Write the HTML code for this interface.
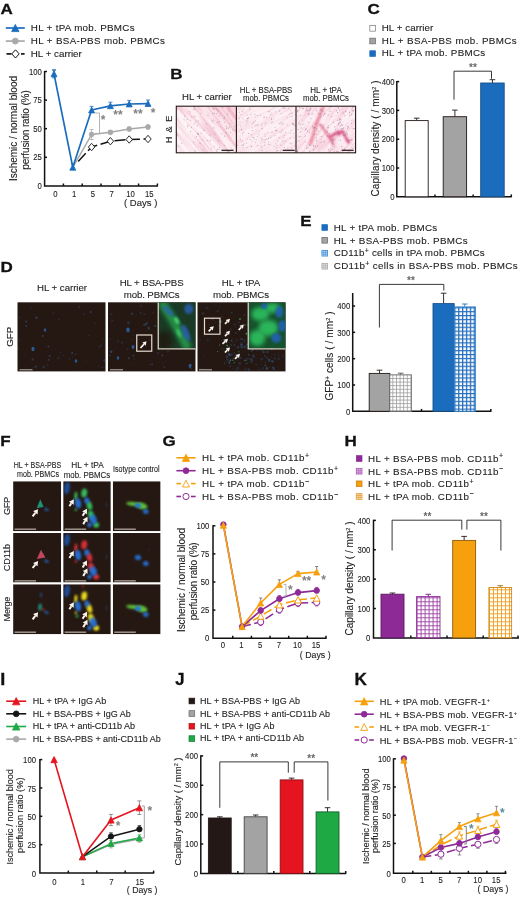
<!DOCTYPE html>
<html><head><meta charset="utf-8"><title>Figure</title>
<style>
html,body{margin:0;padding:0;background:#fff;}
body{width:520px;height:898px;overflow:hidden;font-family:"Liberation Sans",sans-serif;}
svg{display:block;font-family:"Liberation Sans",sans-serif;}
</style></head><body>
<svg width="520" height="898" viewBox="0 0 520 898">
<rect width="520" height="898" fill="#fff"/>
<g id="panelA">
<text x="0.5" y="13.6" font-size="15.3" font-weight="bold" fill="#111" textLength="12.3" lengthAdjust="spacingAndGlyphs" stroke="#111" stroke-width="0.3">A</text>
<line x1="5.8" y1="28" x2="24.8" y2="28" stroke="#1a6dbd" stroke-width="1.7"/>
<polygon points="15.3,24.4 11.6,31.6 19.0,31.6" fill="#1a6dbd" stroke="#1a6dbd" stroke-width="0.8" stroke-linejoin="miter"/>
<text x="30.8" y="30.9" font-size="9.8" fill="#222" textLength="103.8" lengthAdjust="spacing" stroke="#222" stroke-width="0.1">HL + tPA mob. PBMCs</text>
<line x1="5.8" y1="41.1" x2="24.8" y2="41.1" stroke="#a9a9a9" stroke-width="1.7"/>
<circle cx="15.3" cy="41.1" r="3.0" fill="#a9a9a9" stroke="#a9a9a9" stroke-width="0.8"/>
<text x="30.8" y="43.7" font-size="9.8" fill="#222" textLength="134" lengthAdjust="spacing" stroke="#222" stroke-width="0.1">HL + BSA-PBS mob. PBMCs</text>
<line x1="6.5" y1="53.9" x2="11.5" y2="53.9" stroke="#151515" stroke-width="1.7"/>
<line x1="21" y1="53.9" x2="24.6" y2="53.9" stroke="#151515" stroke-width="1.7"/>
<polygon points="15.5,49.8 19.2,53.9 15.5,58.0 11.8,53.9" fill="#fff" stroke="#151515" stroke-width="1.0"/>
<text x="30.8" y="56.5" font-size="9.8" fill="#222" textLength="51" lengthAdjust="spacing" stroke="#222" stroke-width="0.1">HL + carrier</text>
<path d="M44.6,70.9 V185.9 H158.0" fill="none" stroke="#111" stroke-width="1.5"/>
<line x1="44.6" y1="157.3" x2="47.0" y2="157.3" stroke="#111" stroke-width="1.5"/>
<line x1="44.6" y1="128.7" x2="47.0" y2="128.7" stroke="#111" stroke-width="1.5"/>
<line x1="44.6" y1="100.10000000000001" x2="47.0" y2="100.10000000000001" stroke="#111" stroke-width="1.5"/>
<line x1="44.6" y1="71.5" x2="47.0" y2="71.5" stroke="#111" stroke-width="1.5"/>
<line x1="63.400000000000006" y1="185.9" x2="63.400000000000006" y2="183.5" stroke="#111" stroke-width="1.5"/>
<line x1="82.2" y1="185.9" x2="82.2" y2="183.5" stroke="#111" stroke-width="1.5"/>
<line x1="101.0" y1="185.9" x2="101.0" y2="183.5" stroke="#111" stroke-width="1.5"/>
<line x1="119.80000000000001" y1="185.9" x2="119.80000000000001" y2="183.5" stroke="#111" stroke-width="1.5"/>
<line x1="138.6" y1="185.9" x2="138.6" y2="183.5" stroke="#111" stroke-width="1.5"/>
<line x1="157.4" y1="185.9" x2="157.4" y2="183.5" stroke="#111" stroke-width="1.5"/>
<text x="41.8" y="189.0" font-size="9" text-anchor="end" fill="#222" textLength="4.3" lengthAdjust="spacingAndGlyphs" stroke="#222" stroke-width="0.1">0</text>
<text x="41.8" y="160.4" font-size="9" text-anchor="end" fill="#222" textLength="8.61" lengthAdjust="spacingAndGlyphs" stroke="#222" stroke-width="0.1">25</text>
<text x="41.8" y="131.79999999999998" font-size="9" text-anchor="end" fill="#222" textLength="8.61" lengthAdjust="spacingAndGlyphs" stroke="#222" stroke-width="0.1">50</text>
<text x="41.8" y="103.2" font-size="9" text-anchor="end" fill="#222" textLength="8.61" lengthAdjust="spacingAndGlyphs" stroke="#222" stroke-width="0.1">75</text>
<text x="41.8" y="74.6" font-size="9" text-anchor="end" fill="#222" textLength="12.91" lengthAdjust="spacingAndGlyphs" stroke="#222" stroke-width="0.1">100</text>
<text x="55.3" y="197.2" font-size="9" text-anchor="middle" fill="#222" textLength="4.3" lengthAdjust="spacingAndGlyphs" stroke="#222" stroke-width="0.1">0</text>
<text x="74.10000000000001" y="197.2" font-size="9" text-anchor="middle" fill="#222" textLength="4.3" lengthAdjust="spacingAndGlyphs" stroke="#222" stroke-width="0.1">1</text>
<text x="92.89999999999999" y="197.2" font-size="9" text-anchor="middle" fill="#222" textLength="4.3" lengthAdjust="spacingAndGlyphs" stroke="#222" stroke-width="0.1">5</text>
<text x="111.7" y="197.2" font-size="9" text-anchor="middle" fill="#222" textLength="4.3" lengthAdjust="spacingAndGlyphs" stroke="#222" stroke-width="0.1">7</text>
<text x="130.50000000000003" y="197.2" font-size="9" text-anchor="middle" fill="#222" textLength="8.61" lengthAdjust="spacingAndGlyphs" stroke="#222" stroke-width="0.1">10</text>
<text x="149.3" y="197.2" font-size="9" text-anchor="middle" fill="#222" textLength="8.61" lengthAdjust="spacingAndGlyphs" stroke="#222" stroke-width="0.1">15</text>
<text x="124" y="206" font-size="9.2" fill="#222" textLength="33.3" lengthAdjust="spacingAndGlyphs" stroke="#222" stroke-width="0.1">( Days )</text>
<text x="16.9" y="128.5" font-size="10" text-anchor="middle" fill="#222" textLength="105" lengthAdjust="spacing" transform="rotate(-90 16.9 128.5)" stroke="#222" stroke-width="0.1">Ischemic / normal blood</text>
<text x="29" y="130" font-size="10" text-anchor="middle" fill="#222" textLength="79.5" lengthAdjust="spacing" transform="rotate(-90 29 130)" stroke="#222" stroke-width="0.1">perfusion ratio (%)</text>
<polyline points="78.2,161.4 91.6,147.0 110.4,141.2 129.2,139.5 148.0,139.0" fill="none" stroke="#151515" stroke-width="1.5" stroke-linejoin="round" stroke-dasharray="11 3.5"/>
<polyline points="72.8,167.3 91.6,134.5 110.4,132.3 129.2,129.0 148.0,127.0" fill="none" stroke="#a9a9a9" stroke-width="1.5" stroke-linejoin="round"/>
<line x1="110.4" y1="132.3" x2="110.4" y2="130.5" stroke="#a9a9a9" stroke-width="0.8"/>
<line x1="108.4" y1="130.5" x2="112.4" y2="130.5" stroke="#a9a9a9" stroke-width="0.8"/>
<line x1="110.4" y1="132.3" x2="110.4" y2="134.10000000000002" stroke="#a9a9a9" stroke-width="0.8"/>
<line x1="108.4" y1="134.10000000000002" x2="112.4" y2="134.10000000000002" stroke="#a9a9a9" stroke-width="0.8"/>
<line x1="129.20000000000002" y1="129" x2="129.20000000000002" y2="127.2" stroke="#a9a9a9" stroke-width="0.8"/>
<line x1="127.20000000000002" y1="127.2" x2="131.20000000000002" y2="127.2" stroke="#a9a9a9" stroke-width="0.8"/>
<line x1="129.20000000000002" y1="129" x2="129.20000000000002" y2="130.8" stroke="#a9a9a9" stroke-width="0.8"/>
<line x1="127.20000000000002" y1="130.8" x2="131.20000000000002" y2="130.8" stroke="#a9a9a9" stroke-width="0.8"/>
<line x1="148.0" y1="127" x2="148.0" y2="125.2" stroke="#a9a9a9" stroke-width="0.8"/>
<line x1="146.0" y1="125.2" x2="150.0" y2="125.2" stroke="#a9a9a9" stroke-width="0.8"/>
<line x1="148.0" y1="127" x2="148.0" y2="128.8" stroke="#a9a9a9" stroke-width="0.8"/>
<line x1="146.0" y1="128.8" x2="150.0" y2="128.8" stroke="#a9a9a9" stroke-width="0.8"/>
<line x1="91.6" y1="134.5" x2="91.6" y2="129.5" stroke="#a9a9a9" stroke-width="0.8"/>
<line x1="89.6" y1="129.5" x2="93.6" y2="129.5" stroke="#a9a9a9" stroke-width="0.8"/>
<line x1="91.6" y1="134.5" x2="91.6" y2="139.5" stroke="#a9a9a9" stroke-width="0.8"/>
<line x1="89.6" y1="139.5" x2="93.6" y2="139.5" stroke="#a9a9a9" stroke-width="0.8"/>
<polyline points="54.0,73.8 72.8,167.3 91.6,110.0 110.4,105.8 129.2,104.0 148.0,103.6" fill="none" stroke="#1a6dbd" stroke-width="1.7" stroke-linejoin="round"/>
<line x1="54.0" y1="73.8" x2="54.0" y2="70.2" stroke="#1a6dbd" stroke-width="0.8"/>
<line x1="52.0" y1="70.2" x2="56.0" y2="70.2" stroke="#1a6dbd" stroke-width="0.8"/>
<line x1="72.80000000000001" y1="167.3" x2="72.80000000000001" y2="163.70000000000002" stroke="#1a6dbd" stroke-width="0.8"/>
<line x1="70.80000000000001" y1="163.70000000000002" x2="74.80000000000001" y2="163.70000000000002" stroke="#1a6dbd" stroke-width="0.8"/>
<line x1="91.6" y1="110" x2="91.6" y2="106.4" stroke="#1a6dbd" stroke-width="0.8"/>
<line x1="89.6" y1="106.4" x2="93.6" y2="106.4" stroke="#1a6dbd" stroke-width="0.8"/>
<line x1="110.4" y1="105.8" x2="110.4" y2="102.2" stroke="#1a6dbd" stroke-width="0.8"/>
<line x1="108.4" y1="102.2" x2="112.4" y2="102.2" stroke="#1a6dbd" stroke-width="0.8"/>
<line x1="129.20000000000002" y1="104" x2="129.20000000000002" y2="100.4" stroke="#1a6dbd" stroke-width="0.8"/>
<line x1="127.20000000000002" y1="100.4" x2="131.20000000000002" y2="100.4" stroke="#1a6dbd" stroke-width="0.8"/>
<line x1="148.0" y1="103.6" x2="148.0" y2="100.0" stroke="#1a6dbd" stroke-width="0.8"/>
<line x1="146.0" y1="100.0" x2="150.0" y2="100.0" stroke="#1a6dbd" stroke-width="0.8"/>
<line x1="54.0" y1="73.8" x2="54.0" y2="69.8" stroke="#1a6dbd" stroke-width="0.8"/>
<line x1="52.0" y1="69.8" x2="56.0" y2="69.8" stroke="#1a6dbd" stroke-width="0.8"/>
<line x1="54.0" y1="73.8" x2="54.0" y2="77.8" stroke="#1a6dbd" stroke-width="0.8"/>
<line x1="52.0" y1="77.8" x2="56.0" y2="77.8" stroke="#1a6dbd" stroke-width="0.8"/>
<polygon points="91.6,143.3 94.8,147.0 91.6,150.7 88.4,147.0" fill="#fff" stroke="#151515" stroke-width="0.9"/>
<polygon points="110.4,137.5 113.6,141.2 110.4,144.9 107.2,141.2" fill="#fff" stroke="#151515" stroke-width="0.9"/>
<polygon points="129.2,135.8 132.4,139.5 129.2,143.2 126.0,139.5" fill="#fff" stroke="#151515" stroke-width="0.9"/>
<polygon points="148.0,135.3 151.2,139.0 148.0,142.7 144.8,139.0" fill="#fff" stroke="#151515" stroke-width="0.9"/>
<circle cx="91.6" cy="134.5" r="2.4" fill="#a9a9a9" stroke="#a9a9a9" stroke-width="0.8"/>
<circle cx="110.4" cy="132.3" r="2.4" fill="#a9a9a9" stroke="#a9a9a9" stroke-width="0.8"/>
<circle cx="129.2" cy="129.0" r="2.4" fill="#a9a9a9" stroke="#a9a9a9" stroke-width="0.8"/>
<circle cx="148.0" cy="127.0" r="2.4" fill="#a9a9a9" stroke="#a9a9a9" stroke-width="0.8"/>
<polygon points="54.0,70.9 51.0,76.7 57.0,76.7" fill="#1a6dbd" stroke="#1a6dbd" stroke-width="0.8" stroke-linejoin="miter"/>
<polygon points="72.8,164.4 69.8,170.2 75.8,170.2" fill="#1a6dbd" stroke="#1a6dbd" stroke-width="0.8" stroke-linejoin="miter"/>
<polygon points="91.6,107.1 88.6,112.9 94.6,112.9" fill="#1a6dbd" stroke="#1a6dbd" stroke-width="0.8" stroke-linejoin="miter"/>
<polygon points="110.4,102.9 107.4,108.7 113.4,108.7" fill="#1a6dbd" stroke="#1a6dbd" stroke-width="0.8" stroke-linejoin="miter"/>
<polygon points="129.2,101.1 126.2,106.9 132.2,106.9" fill="#1a6dbd" stroke="#1a6dbd" stroke-width="0.8" stroke-linejoin="miter"/>
<polygon points="148.0,100.7 145.0,106.5 151.0,106.5" fill="#1a6dbd" stroke="#1a6dbd" stroke-width="0.8" stroke-linejoin="miter"/>
<path d="M95,113 H99.5 V133.5 H95" fill="none" stroke="#a9a9a9" stroke-width="0.9"/>
<text x="100.7" y="123.9" font-size="12" font-weight="bold" fill="#808080">*</text>
<text x="113.3" y="118.7" font-size="12" font-weight="bold" fill="#808080">**</text>
<text x="133.3" y="117.7" font-size="12" font-weight="bold" fill="#808080">**</text>
<text x="150.7" y="116.9" font-size="12" font-weight="bold" fill="#808080">*</text>
</g>
<defs>
<filter id="fHE1" x="0" y="0" width="100%" height="100%"><feTurbulence type="fractalNoise" baseFrequency="0.02 0.3" numOctaves="4" seed="7"/><feColorMatrix values="0 0 0 0 0.91  0 0 0 0 0.58  0 0 0 0 0.68  5 0 0 0 -2.25"/></filter>
<filter id="fHE2" x="0" y="0" width="100%" height="100%"><feTurbulence type="fractalNoise" baseFrequency="0.05 0.35" numOctaves="4" seed="11"/><feColorMatrix values="0 0 0 0 0.92  0 0 0 0 0.60  0 0 0 0 0.70  3.5 0 0 0 -1.4"/></filter>
<filter id="fHE3" x="0" y="0" width="100%" height="100%"><feTurbulence type="fractalNoise" baseFrequency="0.05 0.4" numOctaves="4" seed="23"/><feColorMatrix values="0 0 0 0 0.90  0 0 0 0 0.55  0 0 0 0 0.66  4 0 0 0 -1.65"/></filter>
<filter id="b05"><feGaussianBlur stdDeviation="0.5"/></filter>
<filter id="b1"><feGaussianBlur stdDeviation="1"/></filter>
<filter id="b08" x="-30%" y="-30%" width="160%" height="160%"><feGaussianBlur stdDeviation="0.8"/></filter>
<filter id="b2" x="-30%" y="-30%" width="160%" height="160%"><feGaussianBlur stdDeviation="2"/></filter>
<filter id="b3" x="-30%" y="-30%" width="160%" height="160%"><feGaussianBlur stdDeviation="3"/></filter>
<pattern id="hGrey" width="3.6" height="3.6" patternUnits="userSpaceOnUse"><rect width="3.6" height="3.6" fill="#fff"/><path d="M0,0.5H3.6M0.5,0V3.6" stroke="#9a9a9a" stroke-width="0.8"/></pattern>
<pattern id="hBlue" width="3.9" height="3.9" patternUnits="userSpaceOnUse" x="454.2" y="307.2"><rect width="3.9" height="3.9" fill="#fff"/><path d="M0,0.6H3.9M0.6,0V3.9" stroke="#2a70bd" stroke-width="1.4"/></pattern>
<pattern id="hPur" width="4" height="4" patternUnits="userSpaceOnUse" x="0.6" y="1.3"><rect width="4" height="4" fill="#fff"/><path d="M0,0.5H4M0.5,0V4" stroke="#a044a8" stroke-width="0.95"/></pattern>
<pattern id="hOrg" width="4" height="4" patternUnits="userSpaceOnUse" x="1" y="1.3"><rect width="4" height="4" fill="#fff"/><path d="M0,0.5H4M0.5,0V4" stroke="#f2a024" stroke-width="0.95"/></pattern>
<pattern id="sBlue" width="2.07" height="2.07" patternUnits="userSpaceOnUse" x="321.6" y="250.1"><rect width="2.1" height="2.1" fill="#dcecfa"/><path d="M0,0.3H2.1M0.3,0V2.1" stroke="#3a8ad6" stroke-width="0.6"/></pattern>
<pattern id="sGrey" width="2.07" height="2.07" patternUnits="userSpaceOnUse" x="321.6" y="263.1"><rect width="2.1" height="2.1" fill="#f2f2f2"/><path d="M0,0.3H2.1M0.3,0V2.1" stroke="#a8a8a8" stroke-width="0.6"/></pattern>
<pattern id="sPur" width="2.07" height="2.07" patternUnits="userSpaceOnUse" x="356" y="467.7"><rect width="2.1" height="2.1" fill="#f0dcf2"/><path d="M0,0.3H2.1M0.3,0V2.1" stroke="#a850b0" stroke-width="0.6"/></pattern>
<pattern id="sOrg" width="2.07" height="2.07" patternUnits="userSpaceOnUse" x="356" y="492.1"><rect width="2.1" height="2.1" fill="#fdebd0"/><path d="M0,0.3H2.1M0.3,0V2.1" stroke="#f0a030" stroke-width="0.6"/></pattern>
<linearGradient id="gHE1" x1="0" y1="1" x2="1" y2="0"><stop offset="0" stop-color="#fff" stop-opacity="0.35"/><stop offset="0.45" stop-color="#fff" stop-opacity="0.1"/><stop offset="0.6" stop-color="#ee9ab4" stop-opacity="0.05"/><stop offset="1" stop-color="#ee9ab4" stop-opacity="0.4"/></linearGradient>
<clipPath id="cB1"><rect x="176.3" y="106.2" width="60" height="46.6"/></clipPath>
<clipPath id="cB2"><rect x="236.3" y="106.2" width="59.7" height="46.6"/></clipPath>
<clipPath id="cB3"><rect x="296" y="106.2" width="59.6" height="46.6"/></clipPath>
</defs>
<g id="panelB">
<text x="170.2" y="78.9" font-size="15.3" font-weight="bold" fill="#111" textLength="12.3" lengthAdjust="spacingAndGlyphs" stroke="#111" stroke-width="0.3">B</text>
<text x="182" y="99.5" font-size="9.6" fill="#222" textLength="49.8" lengthAdjust="spacing" stroke="#222" stroke-width="0.1">HL + carrier</text>
<text x="266.1" y="92.6" font-size="8.3" text-anchor="middle" fill="#222" textLength="52.5" lengthAdjust="spacingAndGlyphs" stroke="#222" stroke-width="0.1">HL + BSA-PBS</text>
<text x="266" y="101" font-size="8.3" text-anchor="middle" fill="#222" textLength="46" lengthAdjust="spacingAndGlyphs" stroke="#222" stroke-width="0.1">mob. PBMCs</text>
<text x="326" y="92.6" font-size="8.3" text-anchor="middle" fill="#222" textLength="31.5" lengthAdjust="spacingAndGlyphs" stroke="#222" stroke-width="0.1">HL + tPA</text>
<text x="326" y="101" font-size="8.3" text-anchor="middle" fill="#222" textLength="46" lengthAdjust="spacingAndGlyphs" stroke="#222" stroke-width="0.1">mob. PBMCs</text>
<text x="171.8" y="129.5" font-size="9.4" text-anchor="middle" fill="#222" textLength="27.5" lengthAdjust="spacing" transform="rotate(-90 171.8 129.5)" stroke="#222" stroke-width="0.1">H &amp; E</text>
<g clip-path="url(#cB1)"><rect x="176" y="106" width="61" height="48" fill="#fdf1f4"/>
<g transform="rotate(50 206 129)"><rect x="150" y="80" width="110" height="100" filter="url(#fHE1)"/></g><rect x="176" y="106" width="61" height="48" fill="url(#gHE1)"/>
<ellipse cx="190.6" cy="131.6" rx="0.75" ry="0.45" fill="#7a5878" opacity="0.45" transform="rotate(50 190.6 131.6)"/>
<ellipse cx="198.5" cy="134.3" rx="0.75" ry="0.45" fill="#7a5878" opacity="0.45" transform="rotate(50 198.5 134.3)"/>
<ellipse cx="213.8" cy="109.3" rx="0.75" ry="0.45" fill="#7a5878" opacity="0.45" transform="rotate(50 213.8 109.3)"/>
<ellipse cx="177.1" cy="145.2" rx="0.75" ry="0.45" fill="#7a5878" opacity="0.45" transform="rotate(50 177.1 145.2)"/>
<ellipse cx="191.9" cy="117.1" rx="0.75" ry="0.45" fill="#7a5878" opacity="0.45" transform="rotate(50 191.9 117.1)"/>
<ellipse cx="236.0" cy="128.1" rx="0.75" ry="0.45" fill="#7a5878" opacity="0.45" transform="rotate(50 236.0 128.1)"/>
<ellipse cx="226.5" cy="128.4" rx="0.75" ry="0.45" fill="#7a5878" opacity="0.45" transform="rotate(50 226.5 128.4)"/>
<ellipse cx="214.6" cy="113.2" rx="0.75" ry="0.45" fill="#7a5878" opacity="0.45" transform="rotate(50 214.6 113.2)"/>
<ellipse cx="214.4" cy="146.7" rx="0.75" ry="0.45" fill="#7a5878" opacity="0.45" transform="rotate(50 214.4 146.7)"/>
<ellipse cx="207.7" cy="140.7" rx="0.75" ry="0.45" fill="#7a5878" opacity="0.45" transform="rotate(50 207.7 140.7)"/>
<ellipse cx="216.6" cy="109.2" rx="0.75" ry="0.45" fill="#7a5878" opacity="0.45" transform="rotate(50 216.6 109.2)"/>
<ellipse cx="221.8" cy="133.7" rx="0.75" ry="0.45" fill="#7a5878" opacity="0.45" transform="rotate(50 221.8 133.7)"/>
<ellipse cx="194.4" cy="107.6" rx="0.75" ry="0.45" fill="#7a5878" opacity="0.45" transform="rotate(50 194.4 107.6)"/>
<ellipse cx="228.2" cy="128.2" rx="0.75" ry="0.45" fill="#7a5878" opacity="0.45" transform="rotate(50 228.2 128.2)"/>
<ellipse cx="219.4" cy="147.2" rx="0.75" ry="0.45" fill="#7a5878" opacity="0.45" transform="rotate(50 219.4 147.2)"/>
<ellipse cx="219.1" cy="149.1" rx="0.75" ry="0.45" fill="#7a5878" opacity="0.45" transform="rotate(50 219.1 149.1)"/>
<ellipse cx="200.0" cy="143.5" rx="0.75" ry="0.45" fill="#7a5878" opacity="0.45" transform="rotate(50 200.0 143.5)"/>
<ellipse cx="203.0" cy="149.8" rx="0.75" ry="0.45" fill="#7a5878" opacity="0.45" transform="rotate(50 203.0 149.8)"/>
<ellipse cx="229.0" cy="110.7" rx="0.75" ry="0.45" fill="#7a5878" opacity="0.45" transform="rotate(50 229.0 110.7)"/>
<ellipse cx="184.5" cy="116.3" rx="0.75" ry="0.45" fill="#7a5878" opacity="0.45" transform="rotate(50 184.5 116.3)"/>
<ellipse cx="234.2" cy="126.5" rx="0.75" ry="0.45" fill="#7a5878" opacity="0.45" transform="rotate(50 234.2 126.5)"/>
<ellipse cx="213.9" cy="120.2" rx="0.75" ry="0.45" fill="#7a5878" opacity="0.45" transform="rotate(50 213.9 120.2)"/>
<ellipse cx="206.7" cy="124.2" rx="0.75" ry="0.45" fill="#7a5878" opacity="0.45" transform="rotate(50 206.7 124.2)"/>
<ellipse cx="197.4" cy="133.5" rx="0.75" ry="0.45" fill="#7a5878" opacity="0.45" transform="rotate(50 197.4 133.5)"/>
<ellipse cx="211.4" cy="148.3" rx="0.75" ry="0.45" fill="#7a5878" opacity="0.45" transform="rotate(50 211.4 148.3)"/>
<ellipse cx="217.2" cy="149.5" rx="0.75" ry="0.45" fill="#7a5878" opacity="0.45" transform="rotate(50 217.2 149.5)"/>
<ellipse cx="227.7" cy="152.4" rx="0.75" ry="0.45" fill="#7a5878" opacity="0.45" transform="rotate(50 227.7 152.4)"/>
<ellipse cx="216.6" cy="113.8" rx="0.75" ry="0.45" fill="#7a5878" opacity="0.45" transform="rotate(50 216.6 113.8)"/>
<ellipse cx="227.9" cy="151.2" rx="0.75" ry="0.45" fill="#7a5878" opacity="0.45" transform="rotate(50 227.9 151.2)"/>
<ellipse cx="230.6" cy="132.7" rx="0.75" ry="0.45" fill="#7a5878" opacity="0.45" transform="rotate(50 230.6 132.7)"/>
<ellipse cx="219.1" cy="116.0" rx="0.75" ry="0.45" fill="#7a5878" opacity="0.45" transform="rotate(50 219.1 116.0)"/>
<ellipse cx="226.2" cy="132.9" rx="0.75" ry="0.45" fill="#7a5878" opacity="0.45" transform="rotate(50 226.2 132.9)"/>
<ellipse cx="193.4" cy="109.2" rx="0.75" ry="0.45" fill="#7a5878" opacity="0.45" transform="rotate(50 193.4 109.2)"/>
<ellipse cx="227.5" cy="152.3" rx="0.75" ry="0.45" fill="#7a5878" opacity="0.45" transform="rotate(50 227.5 152.3)"/>
<ellipse cx="181.6" cy="143.5" rx="0.75" ry="0.45" fill="#7a5878" opacity="0.45" transform="rotate(50 181.6 143.5)"/>
<ellipse cx="200.9" cy="113.2" rx="0.75" ry="0.45" fill="#7a5878" opacity="0.45" transform="rotate(50 200.9 113.2)"/>
<ellipse cx="193.9" cy="142.0" rx="0.75" ry="0.45" fill="#7a5878" opacity="0.45" transform="rotate(50 193.9 142.0)"/>
<ellipse cx="228.7" cy="108.3" rx="0.75" ry="0.45" fill="#7a5878" opacity="0.45" transform="rotate(50 228.7 108.3)"/>
<ellipse cx="213.2" cy="108.3" rx="0.75" ry="0.45" fill="#7a5878" opacity="0.45" transform="rotate(50 213.2 108.3)"/>
<ellipse cx="219.4" cy="121.6" rx="0.75" ry="0.45" fill="#7a5878" opacity="0.45" transform="rotate(50 219.4 121.6)"/>
<ellipse cx="229.2" cy="151.9" rx="0.75" ry="0.45" fill="#7a5878" opacity="0.45" transform="rotate(50 229.2 151.9)"/>
<ellipse cx="206.6" cy="152.7" rx="0.75" ry="0.45" fill="#7a5878" opacity="0.45" transform="rotate(50 206.6 152.7)"/>
<ellipse cx="194.9" cy="109.8" rx="0.75" ry="0.45" fill="#7a5878" opacity="0.45" transform="rotate(50 194.9 109.8)"/>
<ellipse cx="212.3" cy="107.7" rx="0.75" ry="0.45" fill="#7a5878" opacity="0.45" transform="rotate(50 212.3 107.7)"/>
<ellipse cx="188.1" cy="125.2" rx="0.75" ry="0.45" fill="#7a5878" opacity="0.45" transform="rotate(50 188.1 125.2)"/>
<ellipse cx="212.9" cy="113.5" rx="0.75" ry="0.45" fill="#7a5878" opacity="0.45" transform="rotate(50 212.9 113.5)"/>
<ellipse cx="178.8" cy="146.6" rx="0.75" ry="0.45" fill="#7a5878" opacity="0.45" transform="rotate(50 178.8 146.6)"/>
<ellipse cx="195.1" cy="150.9" rx="0.75" ry="0.45" fill="#7a5878" opacity="0.45" transform="rotate(50 195.1 150.9)"/>
<ellipse cx="230.1" cy="123.8" rx="0.75" ry="0.45" fill="#7a5878" opacity="0.45" transform="rotate(50 230.1 123.8)"/>
<ellipse cx="203.9" cy="130.4" rx="0.75" ry="0.45" fill="#7a5878" opacity="0.45" transform="rotate(50 203.9 130.4)"/>
<ellipse cx="214.9" cy="134.0" rx="0.75" ry="0.45" fill="#7a5878" opacity="0.45" transform="rotate(50 214.9 134.0)"/>
<ellipse cx="209.9" cy="135.1" rx="0.75" ry="0.45" fill="#7a5878" opacity="0.45" transform="rotate(50 209.9 135.1)"/>
<ellipse cx="232.7" cy="129.8" rx="0.75" ry="0.45" fill="#7a5878" opacity="0.45" transform="rotate(50 232.7 129.8)"/>
<ellipse cx="202.2" cy="139.8" rx="0.75" ry="0.45" fill="#7a5878" opacity="0.45" transform="rotate(50 202.2 139.8)"/>
<ellipse cx="190.6" cy="120.2" rx="0.75" ry="0.45" fill="#7a5878" opacity="0.45" transform="rotate(50 190.6 120.2)"/>
<ellipse cx="235.0" cy="130.5" rx="0.75" ry="0.45" fill="#7a5878" opacity="0.45" transform="rotate(50 235.0 130.5)"/>
<ellipse cx="209.2" cy="106.7" rx="0.75" ry="0.45" fill="#7a5878" opacity="0.45" transform="rotate(50 209.2 106.7)"/>
<ellipse cx="201.2" cy="133.2" rx="0.75" ry="0.45" fill="#7a5878" opacity="0.45" transform="rotate(50 201.2 133.2)"/>
<ellipse cx="177.5" cy="134.9" rx="0.75" ry="0.45" fill="#7a5878" opacity="0.45" transform="rotate(50 177.5 134.9)"/>
<ellipse cx="214.2" cy="109.0" rx="0.75" ry="0.45" fill="#7a5878" opacity="0.45" transform="rotate(50 214.2 109.0)"/>
<ellipse cx="213.9" cy="127.9" rx="0.75" ry="0.45" fill="#7a5878" opacity="0.45" transform="rotate(50 213.9 127.9)"/>
<ellipse cx="217.1" cy="122.6" rx="0.75" ry="0.45" fill="#7a5878" opacity="0.45" transform="rotate(50 217.1 122.6)"/>
<ellipse cx="218.7" cy="140.6" rx="0.75" ry="0.45" fill="#7a5878" opacity="0.45" transform="rotate(50 218.7 140.6)"/>
<ellipse cx="177.6" cy="109.0" rx="0.75" ry="0.45" fill="#7a5878" opacity="0.45" transform="rotate(50 177.6 109.0)"/>
<ellipse cx="216.9" cy="151.1" rx="0.75" ry="0.45" fill="#7a5878" opacity="0.45" transform="rotate(50 216.9 151.1)"/>
<ellipse cx="191.4" cy="127.5" rx="0.75" ry="0.45" fill="#7a5878" opacity="0.45" transform="rotate(50 191.4 127.5)"/>
<ellipse cx="211.9" cy="121.1" rx="0.75" ry="0.45" fill="#7a5878" opacity="0.45" transform="rotate(50 211.9 121.1)"/>
<ellipse cx="198.1" cy="120.8" rx="0.75" ry="0.45" fill="#7a5878" opacity="0.45" transform="rotate(50 198.1 120.8)"/>
<ellipse cx="198.4" cy="134.0" rx="0.75" ry="0.45" fill="#7a5878" opacity="0.45" transform="rotate(50 198.4 134.0)"/>
<ellipse cx="194.3" cy="123.8" rx="0.75" ry="0.45" fill="#7a5878" opacity="0.45" transform="rotate(50 194.3 123.8)"/>
<ellipse cx="222.6" cy="107.5" rx="0.75" ry="0.45" fill="#7a5878" opacity="0.45" transform="rotate(50 222.6 107.5)"/>
<ellipse cx="210.5" cy="140.5" rx="0.75" ry="0.45" fill="#7a5878" opacity="0.45" transform="rotate(50 210.5 140.5)"/>
<ellipse cx="194.9" cy="116.6" rx="0.75" ry="0.45" fill="#7a5878" opacity="0.45" transform="rotate(50 194.9 116.6)"/>
<ellipse cx="224.5" cy="117.3" rx="0.75" ry="0.45" fill="#7a5878" opacity="0.45" transform="rotate(50 224.5 117.3)"/>
<ellipse cx="187.5" cy="126.5" rx="0.75" ry="0.45" fill="#7a5878" opacity="0.45" transform="rotate(50 187.5 126.5)"/>
<ellipse cx="218.2" cy="110.9" rx="0.75" ry="0.45" fill="#7a5878" opacity="0.45" transform="rotate(50 218.2 110.9)"/>
<ellipse cx="195.6" cy="121.8" rx="0.75" ry="0.45" fill="#7a5878" opacity="0.45" transform="rotate(50 195.6 121.8)"/>
<ellipse cx="226.3" cy="126.6" rx="0.75" ry="0.45" fill="#7a5878" opacity="0.45" transform="rotate(50 226.3 126.6)"/>
<ellipse cx="227.6" cy="114.1" rx="0.75" ry="0.45" fill="#7a5878" opacity="0.45" transform="rotate(50 227.6 114.1)"/>
<ellipse cx="196.5" cy="136.5" rx="0.75" ry="0.45" fill="#7a5878" opacity="0.45" transform="rotate(50 196.5 136.5)"/>
<ellipse cx="229.4" cy="127.2" rx="0.75" ry="0.45" fill="#7a5878" opacity="0.45" transform="rotate(50 229.4 127.2)"/>
<ellipse cx="189.8" cy="111.8" rx="0.75" ry="0.45" fill="#7a5878" opacity="0.45" transform="rotate(50 189.8 111.8)"/>
<ellipse cx="208.1" cy="115.1" rx="0.75" ry="0.45" fill="#7a5878" opacity="0.45" transform="rotate(50 208.1 115.1)"/>
<ellipse cx="224.7" cy="145.3" rx="0.75" ry="0.45" fill="#7a5878" opacity="0.45" transform="rotate(50 224.7 145.3)"/>
<ellipse cx="187.3" cy="119.2" rx="0.75" ry="0.45" fill="#7a5878" opacity="0.45" transform="rotate(50 187.3 119.2)"/>
<ellipse cx="224.7" cy="136.1" rx="0.75" ry="0.45" fill="#7a5878" opacity="0.45" transform="rotate(50 224.7 136.1)"/>
<ellipse cx="224.7" cy="122.3" rx="0.75" ry="0.45" fill="#7a5878" opacity="0.45" transform="rotate(50 224.7 122.3)"/>
<ellipse cx="184.1" cy="119.8" rx="0.75" ry="0.45" fill="#7a5878" opacity="0.45" transform="rotate(50 184.1 119.8)"/>
<ellipse cx="223.9" cy="118.8" rx="0.75" ry="0.45" fill="#7a5878" opacity="0.45" transform="rotate(50 223.9 118.8)"/>
<ellipse cx="197.1" cy="125.6" rx="0.75" ry="0.45" fill="#7a5878" opacity="0.45" transform="rotate(50 197.1 125.6)"/>
</g>
<g clip-path="url(#cB2)"><rect x="236" y="106" width="61" height="48" fill="#fdf0f4"/>
<g transform="rotate(-32 266 129)"><rect x="210" y="80" width="110" height="100" filter="url(#fHE2)" opacity="0.5"/></g>
<ellipse cx="261.5" cy="125.3" rx="0.7" ry="0.42" fill="#7a5878" opacity="0.4" transform="rotate(-32 261.5 125.3)"/>
<ellipse cx="291.5" cy="113.5" rx="0.7" ry="0.42" fill="#7a5878" opacity="0.4" transform="rotate(-32 291.5 113.5)"/>
<ellipse cx="236.6" cy="150.2" rx="0.7" ry="0.42" fill="#7a5878" opacity="0.4" transform="rotate(-32 236.6 150.2)"/>
<ellipse cx="289.1" cy="152.2" rx="0.7" ry="0.42" fill="#7a5878" opacity="0.4" transform="rotate(-32 289.1 152.2)"/>
<ellipse cx="262.4" cy="150.5" rx="0.7" ry="0.42" fill="#7a5878" opacity="0.4" transform="rotate(-32 262.4 150.5)"/>
<ellipse cx="291.9" cy="116.5" rx="0.7" ry="0.42" fill="#7a5878" opacity="0.4" transform="rotate(-32 291.9 116.5)"/>
<ellipse cx="281.0" cy="145.2" rx="0.7" ry="0.42" fill="#7a5878" opacity="0.4" transform="rotate(-32 281.0 145.2)"/>
<ellipse cx="276.1" cy="130.4" rx="0.7" ry="0.42" fill="#7a5878" opacity="0.4" transform="rotate(-32 276.1 130.4)"/>
<ellipse cx="253.6" cy="122.1" rx="0.7" ry="0.42" fill="#7a5878" opacity="0.4" transform="rotate(-32 253.6 122.1)"/>
<ellipse cx="249.9" cy="109.4" rx="0.7" ry="0.42" fill="#7a5878" opacity="0.4" transform="rotate(-32 249.9 109.4)"/>
<ellipse cx="271.6" cy="119.6" rx="0.7" ry="0.42" fill="#7a5878" opacity="0.4" transform="rotate(-32 271.6 119.6)"/>
<ellipse cx="284.9" cy="108.3" rx="0.7" ry="0.42" fill="#7a5878" opacity="0.4" transform="rotate(-32 284.9 108.3)"/>
<ellipse cx="290.5" cy="138.5" rx="0.7" ry="0.42" fill="#7a5878" opacity="0.4" transform="rotate(-32 290.5 138.5)"/>
<ellipse cx="291.7" cy="148.0" rx="0.7" ry="0.42" fill="#7a5878" opacity="0.4" transform="rotate(-32 291.7 148.0)"/>
<ellipse cx="290.3" cy="133.1" rx="0.7" ry="0.42" fill="#7a5878" opacity="0.4" transform="rotate(-32 290.3 133.1)"/>
<ellipse cx="237.1" cy="140.9" rx="0.7" ry="0.42" fill="#7a5878" opacity="0.4" transform="rotate(-32 237.1 140.9)"/>
<ellipse cx="246.6" cy="120.2" rx="0.7" ry="0.42" fill="#7a5878" opacity="0.4" transform="rotate(-32 246.6 120.2)"/>
<ellipse cx="276.1" cy="130.7" rx="0.7" ry="0.42" fill="#7a5878" opacity="0.4" transform="rotate(-32 276.1 130.7)"/>
<ellipse cx="261.1" cy="150.0" rx="0.7" ry="0.42" fill="#7a5878" opacity="0.4" transform="rotate(-32 261.1 150.0)"/>
<ellipse cx="273.0" cy="122.1" rx="0.7" ry="0.42" fill="#7a5878" opacity="0.4" transform="rotate(-32 273.0 122.1)"/>
<ellipse cx="251.4" cy="146.4" rx="0.7" ry="0.42" fill="#7a5878" opacity="0.4" transform="rotate(-32 251.4 146.4)"/>
<ellipse cx="264.9" cy="142.7" rx="0.7" ry="0.42" fill="#7a5878" opacity="0.4" transform="rotate(-32 264.9 142.7)"/>
<ellipse cx="257.4" cy="115.4" rx="0.7" ry="0.42" fill="#7a5878" opacity="0.4" transform="rotate(-32 257.4 115.4)"/>
<ellipse cx="268.4" cy="144.3" rx="0.7" ry="0.42" fill="#7a5878" opacity="0.4" transform="rotate(-32 268.4 144.3)"/>
<ellipse cx="246.6" cy="143.1" rx="0.7" ry="0.42" fill="#7a5878" opacity="0.4" transform="rotate(-32 246.6 143.1)"/>
<ellipse cx="291.6" cy="143.8" rx="0.7" ry="0.42" fill="#7a5878" opacity="0.4" transform="rotate(-32 291.6 143.8)"/>
<ellipse cx="285.7" cy="106.5" rx="0.7" ry="0.42" fill="#7a5878" opacity="0.4" transform="rotate(-32 285.7 106.5)"/>
<ellipse cx="274.0" cy="146.4" rx="0.7" ry="0.42" fill="#7a5878" opacity="0.4" transform="rotate(-32 274.0 146.4)"/>
<ellipse cx="239.3" cy="118.8" rx="0.7" ry="0.42" fill="#7a5878" opacity="0.4" transform="rotate(-32 239.3 118.8)"/>
<ellipse cx="252.4" cy="130.8" rx="0.7" ry="0.42" fill="#7a5878" opacity="0.4" transform="rotate(-32 252.4 130.8)"/>
<ellipse cx="261.7" cy="128.2" rx="0.7" ry="0.42" fill="#7a5878" opacity="0.4" transform="rotate(-32 261.7 128.2)"/>
<ellipse cx="282.9" cy="106.3" rx="0.7" ry="0.42" fill="#7a5878" opacity="0.4" transform="rotate(-32 282.9 106.3)"/>
<ellipse cx="239.6" cy="112.1" rx="0.7" ry="0.42" fill="#7a5878" opacity="0.4" transform="rotate(-32 239.6 112.1)"/>
<ellipse cx="243.8" cy="109.4" rx="0.7" ry="0.42" fill="#7a5878" opacity="0.4" transform="rotate(-32 243.8 109.4)"/>
<ellipse cx="294.8" cy="146.0" rx="0.7" ry="0.42" fill="#7a5878" opacity="0.4" transform="rotate(-32 294.8 146.0)"/>
<ellipse cx="241.5" cy="129.6" rx="0.7" ry="0.42" fill="#7a5878" opacity="0.4" transform="rotate(-32 241.5 129.6)"/>
<ellipse cx="255.3" cy="120.9" rx="0.7" ry="0.42" fill="#7a5878" opacity="0.4" transform="rotate(-32 255.3 120.9)"/>
<ellipse cx="257.4" cy="136.3" rx="0.7" ry="0.42" fill="#7a5878" opacity="0.4" transform="rotate(-32 257.4 136.3)"/>
<ellipse cx="271.5" cy="123.0" rx="0.7" ry="0.42" fill="#7a5878" opacity="0.4" transform="rotate(-32 271.5 123.0)"/>
<ellipse cx="247.8" cy="121.5" rx="0.7" ry="0.42" fill="#7a5878" opacity="0.4" transform="rotate(-32 247.8 121.5)"/>
<ellipse cx="243.7" cy="132.1" rx="0.7" ry="0.42" fill="#7a5878" opacity="0.4" transform="rotate(-32 243.7 132.1)"/>
<ellipse cx="279.3" cy="123.9" rx="0.7" ry="0.42" fill="#7a5878" opacity="0.4" transform="rotate(-32 279.3 123.9)"/>
<ellipse cx="241.1" cy="114.5" rx="0.7" ry="0.42" fill="#7a5878" opacity="0.4" transform="rotate(-32 241.1 114.5)"/>
<ellipse cx="258.7" cy="134.4" rx="0.7" ry="0.42" fill="#7a5878" opacity="0.4" transform="rotate(-32 258.7 134.4)"/>
<ellipse cx="283.3" cy="123.9" rx="0.7" ry="0.42" fill="#7a5878" opacity="0.4" transform="rotate(-32 283.3 123.9)"/>
<ellipse cx="284.4" cy="135.2" rx="0.7" ry="0.42" fill="#7a5878" opacity="0.4" transform="rotate(-32 284.4 135.2)"/>
<ellipse cx="262.2" cy="123.6" rx="0.7" ry="0.42" fill="#7a5878" opacity="0.4" transform="rotate(-32 262.2 123.6)"/>
<ellipse cx="266.1" cy="139.0" rx="0.7" ry="0.42" fill="#7a5878" opacity="0.4" transform="rotate(-32 266.1 139.0)"/>
<ellipse cx="261.5" cy="138.5" rx="0.7" ry="0.42" fill="#7a5878" opacity="0.4" transform="rotate(-32 261.5 138.5)"/>
<ellipse cx="264.0" cy="117.6" rx="0.7" ry="0.42" fill="#7a5878" opacity="0.4" transform="rotate(-32 264.0 117.6)"/>
<ellipse cx="268.5" cy="138.6" rx="0.7" ry="0.42" fill="#7a5878" opacity="0.4" transform="rotate(-32 268.5 138.6)"/>
<ellipse cx="240.6" cy="126.0" rx="0.7" ry="0.42" fill="#7a5878" opacity="0.4" transform="rotate(-32 240.6 126.0)"/>
<ellipse cx="261.9" cy="147.2" rx="0.7" ry="0.42" fill="#7a5878" opacity="0.4" transform="rotate(-32 261.9 147.2)"/>
<ellipse cx="292.5" cy="123.6" rx="0.7" ry="0.42" fill="#7a5878" opacity="0.4" transform="rotate(-32 292.5 123.6)"/>
<ellipse cx="290.2" cy="143.1" rx="0.7" ry="0.42" fill="#7a5878" opacity="0.4" transform="rotate(-32 290.2 143.1)"/>
<ellipse cx="252.0" cy="127.8" rx="0.7" ry="0.42" fill="#7a5878" opacity="0.4" transform="rotate(-32 252.0 127.8)"/>
<ellipse cx="243.7" cy="144.1" rx="0.7" ry="0.42" fill="#7a5878" opacity="0.4" transform="rotate(-32 243.7 144.1)"/>
<ellipse cx="276.0" cy="147.6" rx="0.7" ry="0.42" fill="#7a5878" opacity="0.4" transform="rotate(-32 276.0 147.6)"/>
<ellipse cx="283.8" cy="137.3" rx="0.7" ry="0.42" fill="#7a5878" opacity="0.4" transform="rotate(-32 283.8 137.3)"/>
<ellipse cx="280.3" cy="132.5" rx="0.7" ry="0.42" fill="#7a5878" opacity="0.4" transform="rotate(-32 280.3 132.5)"/>
<ellipse cx="242.5" cy="133.6" rx="0.7" ry="0.42" fill="#7a5878" opacity="0.4" transform="rotate(-32 242.5 133.6)"/>
<ellipse cx="236.6" cy="112.9" rx="0.7" ry="0.42" fill="#7a5878" opacity="0.4" transform="rotate(-32 236.6 112.9)"/>
<ellipse cx="282.8" cy="108.3" rx="0.7" ry="0.42" fill="#7a5878" opacity="0.4" transform="rotate(-32 282.8 108.3)"/>
<ellipse cx="241.8" cy="110.8" rx="0.7" ry="0.42" fill="#7a5878" opacity="0.4" transform="rotate(-32 241.8 110.8)"/>
<ellipse cx="289.1" cy="114.5" rx="0.7" ry="0.42" fill="#7a5878" opacity="0.4" transform="rotate(-32 289.1 114.5)"/>
<ellipse cx="237.7" cy="145.4" rx="0.7" ry="0.42" fill="#7a5878" opacity="0.4" transform="rotate(-32 237.7 145.4)"/>
<ellipse cx="243.6" cy="145.5" rx="0.7" ry="0.42" fill="#7a5878" opacity="0.4" transform="rotate(-32 243.6 145.5)"/>
<ellipse cx="276.7" cy="145.2" rx="0.7" ry="0.42" fill="#7a5878" opacity="0.4" transform="rotate(-32 276.7 145.2)"/>
<ellipse cx="293.4" cy="133.2" rx="0.7" ry="0.42" fill="#7a5878" opacity="0.4" transform="rotate(-32 293.4 133.2)"/>
<ellipse cx="284.2" cy="107.9" rx="0.7" ry="0.42" fill="#7a5878" opacity="0.4" transform="rotate(-32 284.2 107.9)"/>
<ellipse cx="282.3" cy="130.0" rx="0.7" ry="0.42" fill="#7a5878" opacity="0.4" transform="rotate(-32 282.3 130.0)"/>
<ellipse cx="279.2" cy="111.2" rx="0.7" ry="0.42" fill="#7a5878" opacity="0.4" transform="rotate(-32 279.2 111.2)"/>
<ellipse cx="281.2" cy="149.8" rx="0.7" ry="0.42" fill="#7a5878" opacity="0.4" transform="rotate(-32 281.2 149.8)"/>
<ellipse cx="240.0" cy="121.3" rx="0.7" ry="0.42" fill="#7a5878" opacity="0.4" transform="rotate(-32 240.0 121.3)"/>
<ellipse cx="270.1" cy="144.8" rx="0.7" ry="0.42" fill="#7a5878" opacity="0.4" transform="rotate(-32 270.1 144.8)"/>
<ellipse cx="250.8" cy="114.6" rx="0.7" ry="0.42" fill="#7a5878" opacity="0.4" transform="rotate(-32 250.8 114.6)"/>
<ellipse cx="251.3" cy="134.9" rx="0.7" ry="0.42" fill="#7a5878" opacity="0.4" transform="rotate(-32 251.3 134.9)"/>
<ellipse cx="281.5" cy="124.5" rx="0.7" ry="0.42" fill="#7a5878" opacity="0.4" transform="rotate(-32 281.5 124.5)"/>
<ellipse cx="258.3" cy="124.7" rx="0.7" ry="0.42" fill="#7a5878" opacity="0.4" transform="rotate(-32 258.3 124.7)"/>
<ellipse cx="257.3" cy="125.7" rx="0.7" ry="0.42" fill="#7a5878" opacity="0.4" transform="rotate(-32 257.3 125.7)"/>
<ellipse cx="241.3" cy="129.5" rx="0.7" ry="0.42" fill="#7a5878" opacity="0.4" transform="rotate(-32 241.3 129.5)"/>
<ellipse cx="294.7" cy="125.4" rx="0.7" ry="0.42" fill="#7a5878" opacity="0.4" transform="rotate(-32 294.7 125.4)"/>
<ellipse cx="281.1" cy="113.7" rx="0.7" ry="0.42" fill="#7a5878" opacity="0.4" transform="rotate(-32 281.1 113.7)"/>
<ellipse cx="277.8" cy="141.4" rx="0.7" ry="0.42" fill="#7a5878" opacity="0.4" transform="rotate(-32 277.8 141.4)"/>
<ellipse cx="276.7" cy="130.3" rx="0.7" ry="0.42" fill="#7a5878" opacity="0.4" transform="rotate(-32 276.7 130.3)"/>
<ellipse cx="265.3" cy="136.2" rx="0.7" ry="0.42" fill="#7a5878" opacity="0.4" transform="rotate(-32 265.3 136.2)"/>
<ellipse cx="290.1" cy="113.2" rx="0.7" ry="0.42" fill="#7a5878" opacity="0.4" transform="rotate(-32 290.1 113.2)"/>
<ellipse cx="242.1" cy="141.1" rx="0.7" ry="0.42" fill="#7a5878" opacity="0.4" transform="rotate(-32 242.1 141.1)"/>
<ellipse cx="291.3" cy="130.3" rx="0.7" ry="0.42" fill="#7a5878" opacity="0.4" transform="rotate(-32 291.3 130.3)"/>
<ellipse cx="262.9" cy="139.7" rx="0.7" ry="0.42" fill="#7a5878" opacity="0.4" transform="rotate(-32 262.9 139.7)"/>
<ellipse cx="247.5" cy="118.7" rx="0.7" ry="0.42" fill="#7a5878" opacity="0.4" transform="rotate(-32 247.5 118.7)"/>
<ellipse cx="248.3" cy="133.5" rx="0.7" ry="0.42" fill="#7a5878" opacity="0.4" transform="rotate(-32 248.3 133.5)"/>
<ellipse cx="255.2" cy="117.0" rx="0.7" ry="0.42" fill="#7a5878" opacity="0.4" transform="rotate(-32 255.2 117.0)"/>
<ellipse cx="277.8" cy="150.6" rx="0.7" ry="0.42" fill="#7a5878" opacity="0.4" transform="rotate(-32 277.8 150.6)"/>
<ellipse cx="254.1" cy="139.1" rx="0.7" ry="0.42" fill="#7a5878" opacity="0.4" transform="rotate(-32 254.1 139.1)"/>
<ellipse cx="261.1" cy="146.0" rx="0.7" ry="0.42" fill="#7a5878" opacity="0.4" transform="rotate(-32 261.1 146.0)"/>
<ellipse cx="271.4" cy="118.7" rx="0.7" ry="0.42" fill="#7a5878" opacity="0.4" transform="rotate(-32 271.4 118.7)"/>
<ellipse cx="249.4" cy="107.3" rx="0.7" ry="0.42" fill="#7a5878" opacity="0.4" transform="rotate(-32 249.4 107.3)"/>
<ellipse cx="265.1" cy="124.0" rx="0.7" ry="0.42" fill="#7a5878" opacity="0.4" transform="rotate(-32 265.1 124.0)"/>
<ellipse cx="246.6" cy="123.0" rx="0.7" ry="0.42" fill="#7a5878" opacity="0.4" transform="rotate(-32 246.6 123.0)"/>
<ellipse cx="255.6" cy="142.3" rx="0.7" ry="0.42" fill="#7a5878" opacity="0.4" transform="rotate(-32 255.6 142.3)"/>
<ellipse cx="244.9" cy="152.4" rx="0.7" ry="0.42" fill="#7a5878" opacity="0.4" transform="rotate(-32 244.9 152.4)"/>
<ellipse cx="265.1" cy="134.1" rx="0.7" ry="0.42" fill="#7a5878" opacity="0.4" transform="rotate(-32 265.1 134.1)"/>
<ellipse cx="264.4" cy="145.1" rx="0.7" ry="0.42" fill="#7a5878" opacity="0.4" transform="rotate(-32 264.4 145.1)"/>
<ellipse cx="285.6" cy="132.2" rx="0.7" ry="0.42" fill="#7a5878" opacity="0.4" transform="rotate(-32 285.6 132.2)"/>
<ellipse cx="265.2" cy="139.8" rx="0.7" ry="0.42" fill="#7a5878" opacity="0.4" transform="rotate(-32 265.2 139.8)"/>
<ellipse cx="287.7" cy="124.9" rx="0.7" ry="0.42" fill="#7a5878" opacity="0.4" transform="rotate(-32 287.7 124.9)"/>
<ellipse cx="280.3" cy="150.9" rx="0.7" ry="0.42" fill="#7a5878" opacity="0.4" transform="rotate(-32 280.3 150.9)"/>
<ellipse cx="264.3" cy="116.9" rx="0.7" ry="0.42" fill="#7a5878" opacity="0.4" transform="rotate(-32 264.3 116.9)"/>
<ellipse cx="250.4" cy="139.6" rx="0.7" ry="0.42" fill="#7a5878" opacity="0.4" transform="rotate(-32 250.4 139.6)"/>
<ellipse cx="276.8" cy="150.9" rx="0.7" ry="0.42" fill="#7a5878" opacity="0.4" transform="rotate(-32 276.8 150.9)"/>
<ellipse cx="287.5" cy="117.5" rx="0.7" ry="0.42" fill="#7a5878" opacity="0.4" transform="rotate(-32 287.5 117.5)"/>
<ellipse cx="247.7" cy="118.3" rx="0.7" ry="0.42" fill="#7a5878" opacity="0.4" transform="rotate(-32 247.7 118.3)"/>
<ellipse cx="247.5" cy="139.0" rx="0.7" ry="0.42" fill="#7a5878" opacity="0.4" transform="rotate(-32 247.5 139.0)"/>
<ellipse cx="287.8" cy="148.1" rx="0.7" ry="0.42" fill="#7a5878" opacity="0.4" transform="rotate(-32 287.8 148.1)"/>
<ellipse cx="251.6" cy="146.5" rx="0.7" ry="0.42" fill="#7a5878" opacity="0.4" transform="rotate(-32 251.6 146.5)"/>
<ellipse cx="255.1" cy="125.9" rx="0.7" ry="0.42" fill="#7a5878" opacity="0.4" transform="rotate(-32 255.1 125.9)"/>
<ellipse cx="280.0" cy="110.2" rx="0.7" ry="0.42" fill="#7a5878" opacity="0.4" transform="rotate(-32 280.0 110.2)"/>
<ellipse cx="241.9" cy="145.1" rx="0.7" ry="0.42" fill="#7a5878" opacity="0.4" transform="rotate(-32 241.9 145.1)"/>
<ellipse cx="253.8" cy="122.8" rx="0.7" ry="0.42" fill="#7a5878" opacity="0.4" transform="rotate(-32 253.8 122.8)"/>
<ellipse cx="271.1" cy="137.7" rx="0.7" ry="0.42" fill="#7a5878" opacity="0.4" transform="rotate(-32 271.1 137.7)"/>
<ellipse cx="236.7" cy="121.8" rx="0.7" ry="0.42" fill="#7a5878" opacity="0.4" transform="rotate(-32 236.7 121.8)"/>
<ellipse cx="262.5" cy="128.8" rx="0.7" ry="0.42" fill="#7a5878" opacity="0.4" transform="rotate(-32 262.5 128.8)"/>
<ellipse cx="248.9" cy="133.5" rx="0.7" ry="0.42" fill="#7a5878" opacity="0.4" transform="rotate(-32 248.9 133.5)"/>
<ellipse cx="293.6" cy="124.4" rx="0.7" ry="0.42" fill="#7a5878" opacity="0.4" transform="rotate(-32 293.6 124.4)"/>
<ellipse cx="269.0" cy="111.8" rx="0.7" ry="0.42" fill="#7a5878" opacity="0.4" transform="rotate(-32 269.0 111.8)"/>
<ellipse cx="252.8" cy="137.2" rx="0.7" ry="0.42" fill="#7a5878" opacity="0.4" transform="rotate(-32 252.8 137.2)"/>
<ellipse cx="243.1" cy="147.5" rx="0.7" ry="0.42" fill="#7a5878" opacity="0.4" transform="rotate(-32 243.1 147.5)"/>
<ellipse cx="290.8" cy="110.7" rx="0.7" ry="0.42" fill="#7a5878" opacity="0.4" transform="rotate(-32 290.8 110.7)"/>
<ellipse cx="292.8" cy="123.6" rx="0.7" ry="0.42" fill="#7a5878" opacity="0.4" transform="rotate(-32 292.8 123.6)"/>
<ellipse cx="282.6" cy="141.5" rx="0.7" ry="0.42" fill="#7a5878" opacity="0.4" transform="rotate(-32 282.6 141.5)"/>
<ellipse cx="254.0" cy="137.7" rx="0.7" ry="0.42" fill="#7a5878" opacity="0.4" transform="rotate(-32 254.0 137.7)"/>
<ellipse cx="275.5" cy="143.8" rx="0.7" ry="0.42" fill="#7a5878" opacity="0.4" transform="rotate(-32 275.5 143.8)"/>
<ellipse cx="252.2" cy="141.3" rx="0.7" ry="0.42" fill="#7a5878" opacity="0.4" transform="rotate(-32 252.2 141.3)"/>
<ellipse cx="294.0" cy="137.6" rx="0.7" ry="0.42" fill="#7a5878" opacity="0.4" transform="rotate(-32 294.0 137.6)"/>
<ellipse cx="268.5" cy="111.5" rx="0.7" ry="0.42" fill="#7a5878" opacity="0.4" transform="rotate(-32 268.5 111.5)"/>
<ellipse cx="265.9" cy="122.6" rx="0.7" ry="0.42" fill="#7a5878" opacity="0.4" transform="rotate(-32 265.9 122.6)"/>
<ellipse cx="279.4" cy="137.8" rx="0.7" ry="0.42" fill="#7a5878" opacity="0.4" transform="rotate(-32 279.4 137.8)"/>
<ellipse cx="270.3" cy="114.7" rx="0.7" ry="0.42" fill="#7a5878" opacity="0.4" transform="rotate(-32 270.3 114.7)"/>
<ellipse cx="275.0" cy="135.6" rx="0.7" ry="0.42" fill="#7a5878" opacity="0.4" transform="rotate(-32 275.0 135.6)"/>
<ellipse cx="247.0" cy="147.7" rx="0.7" ry="0.42" fill="#7a5878" opacity="0.4" transform="rotate(-32 247.0 147.7)"/>
<ellipse cx="275.6" cy="111.9" rx="0.7" ry="0.42" fill="#7a5878" opacity="0.4" transform="rotate(-32 275.6 111.9)"/>
<ellipse cx="292.2" cy="112.8" rx="0.7" ry="0.42" fill="#7a5878" opacity="0.4" transform="rotate(-32 292.2 112.8)"/>
<ellipse cx="256.2" cy="139.8" rx="0.7" ry="0.42" fill="#7a5878" opacity="0.4" transform="rotate(-32 256.2 139.8)"/>
<ellipse cx="272.1" cy="132.1" rx="0.7" ry="0.42" fill="#7a5878" opacity="0.4" transform="rotate(-32 272.1 132.1)"/>
<ellipse cx="275.1" cy="127.5" rx="0.7" ry="0.42" fill="#7a5878" opacity="0.4" transform="rotate(-32 275.1 127.5)"/>
<ellipse cx="255.0" cy="114.4" rx="0.7" ry="0.42" fill="#7a5878" opacity="0.4" transform="rotate(-32 255.0 114.4)"/>
<ellipse cx="240.4" cy="139.6" rx="0.7" ry="0.42" fill="#7a5878" opacity="0.4" transform="rotate(-32 240.4 139.6)"/>
<ellipse cx="281.6" cy="131.5" rx="0.7" ry="0.42" fill="#7a5878" opacity="0.4" transform="rotate(-32 281.6 131.5)"/>
<ellipse cx="280.7" cy="122.9" rx="0.7" ry="0.42" fill="#7a5878" opacity="0.4" transform="rotate(-32 280.7 122.9)"/>
<ellipse cx="252.3" cy="124.1" rx="0.7" ry="0.42" fill="#7a5878" opacity="0.4" transform="rotate(-32 252.3 124.1)"/>
<ellipse cx="288.7" cy="108.2" rx="0.7" ry="0.42" fill="#7a5878" opacity="0.4" transform="rotate(-32 288.7 108.2)"/>
<ellipse cx="266.6" cy="117.7" rx="0.7" ry="0.42" fill="#7a5878" opacity="0.4" transform="rotate(-32 266.6 117.7)"/>
<ellipse cx="282.4" cy="122.7" rx="0.7" ry="0.42" fill="#7a5878" opacity="0.4" transform="rotate(-32 282.4 122.7)"/>
<ellipse cx="256.3" cy="125.0" rx="0.7" ry="0.42" fill="#7a5878" opacity="0.4" transform="rotate(-32 256.3 125.0)"/>
<ellipse cx="268.8" cy="142.2" rx="0.7" ry="0.42" fill="#7a5878" opacity="0.4" transform="rotate(-32 268.8 142.2)"/>
<ellipse cx="257.5" cy="145.7" rx="0.7" ry="0.42" fill="#7a5878" opacity="0.4" transform="rotate(-32 257.5 145.7)"/>
<ellipse cx="243.0" cy="118.8" rx="0.7" ry="0.42" fill="#7a5878" opacity="0.4" transform="rotate(-32 243.0 118.8)"/>
<ellipse cx="242.3" cy="111.5" rx="0.7" ry="0.42" fill="#7a5878" opacity="0.4" transform="rotate(-32 242.3 111.5)"/>
<ellipse cx="283.0" cy="140.1" rx="0.7" ry="0.42" fill="#7a5878" opacity="0.4" transform="rotate(-32 283.0 140.1)"/>
<ellipse cx="247.4" cy="115.0" rx="0.7" ry="0.42" fill="#7a5878" opacity="0.4" transform="rotate(-32 247.4 115.0)"/>
<ellipse cx="261.3" cy="140.8" rx="0.7" ry="0.42" fill="#7a5878" opacity="0.4" transform="rotate(-32 261.3 140.8)"/>
<ellipse cx="285.2" cy="141.1" rx="0.7" ry="0.42" fill="#7a5878" opacity="0.4" transform="rotate(-32 285.2 141.1)"/>
<ellipse cx="271.8" cy="113.0" rx="0.7" ry="0.42" fill="#7a5878" opacity="0.4" transform="rotate(-32 271.8 113.0)"/>
<ellipse cx="260.2" cy="115.2" rx="0.7" ry="0.42" fill="#7a5878" opacity="0.4" transform="rotate(-32 260.2 115.2)"/>
<ellipse cx="268.0" cy="132.7" rx="0.7" ry="0.42" fill="#7a5878" opacity="0.4" transform="rotate(-32 268.0 132.7)"/>
<ellipse cx="248.4" cy="117.9" rx="0.7" ry="0.42" fill="#7a5878" opacity="0.4" transform="rotate(-32 248.4 117.9)"/>
<ellipse cx="283.2" cy="107.6" rx="0.7" ry="0.42" fill="#7a5878" opacity="0.4" transform="rotate(-32 283.2 107.6)"/>
<ellipse cx="284.5" cy="147.7" rx="0.7" ry="0.42" fill="#7a5878" opacity="0.4" transform="rotate(-32 284.5 147.7)"/>
<ellipse cx="293.3" cy="124.1" rx="0.7" ry="0.42" fill="#7a5878" opacity="0.4" transform="rotate(-32 293.3 124.1)"/>
</g>
<g clip-path="url(#cB3)"><rect x="295" y="106" width="62" height="48" fill="#fdeef3"/>
<g transform="rotate(-55 326 129)"><rect x="270" y="80" width="110" height="100" filter="url(#fHE3)" opacity="0.6"/></g>
<g filter="url(#b08)" fill="none" stroke-linecap="round" stroke-linejoin="round"><path d="M322.8,107.5 L317.1,122 L313.3,134.7 L310.8,143.6" stroke="#e8748f" stroke-width="3.3" opacity="0.75"/><path d="M320.3,124.6 L326,132.2 L329.8,138.5 L333.6,144.9" stroke="#dc5a80" stroke-width="2.2" opacity="0.8"/><path d="M329.8,136.5 L337.4,132.8 L342.5,131.2 L346.3,138.5 L348.8,142.3" stroke="#d64076" stroke-width="2.7" opacity="0.85"/><circle cx="339" cy="133.5" r="2.2" fill="#cc3470" stroke="none" opacity="0.6"/><circle cx="333" cy="139.5" r="2" fill="#cc3470" stroke="none" opacity="0.55"/><circle cx="347.5" cy="141" r="1.6" fill="#c03070" stroke="none" opacity="0.6"/></g>
<ellipse cx="329.2" cy="133.4" rx="0.75" ry="0.42" fill="#7a5078" opacity="0.5" transform="rotate(-55 329.2 133.4)"/>
<ellipse cx="334.0" cy="151.7" rx="0.75" ry="0.42" fill="#7a5078" opacity="0.5" transform="rotate(-55 334.0 151.7)"/>
<ellipse cx="337.2" cy="120.2" rx="0.75" ry="0.42" fill="#7a5078" opacity="0.5" transform="rotate(-55 337.2 120.2)"/>
<ellipse cx="347.6" cy="128.8" rx="0.75" ry="0.42" fill="#7a5078" opacity="0.5" transform="rotate(-55 347.6 128.8)"/>
<ellipse cx="332.1" cy="140.1" rx="0.75" ry="0.42" fill="#7a5078" opacity="0.5" transform="rotate(-55 332.1 140.1)"/>
<ellipse cx="296.1" cy="142.1" rx="0.75" ry="0.42" fill="#7a5078" opacity="0.5" transform="rotate(-55 296.1 142.1)"/>
<ellipse cx="335.7" cy="129.1" rx="0.75" ry="0.42" fill="#7a5078" opacity="0.5" transform="rotate(-55 335.7 129.1)"/>
<ellipse cx="327.4" cy="127.7" rx="0.75" ry="0.42" fill="#7a5078" opacity="0.5" transform="rotate(-55 327.4 127.7)"/>
<ellipse cx="307.6" cy="130.9" rx="0.75" ry="0.42" fill="#7a5078" opacity="0.5" transform="rotate(-55 307.6 130.9)"/>
<ellipse cx="298.2" cy="129.5" rx="0.75" ry="0.42" fill="#7a5078" opacity="0.5" transform="rotate(-55 298.2 129.5)"/>
<ellipse cx="334.8" cy="126.9" rx="0.75" ry="0.42" fill="#7a5078" opacity="0.5" transform="rotate(-55 334.8 126.9)"/>
<ellipse cx="330.0" cy="150.9" rx="0.75" ry="0.42" fill="#7a5078" opacity="0.5" transform="rotate(-55 330.0 150.9)"/>
<ellipse cx="349.5" cy="112.5" rx="0.75" ry="0.42" fill="#7a5078" opacity="0.5" transform="rotate(-55 349.5 112.5)"/>
<ellipse cx="343.5" cy="135.2" rx="0.75" ry="0.42" fill="#7a5078" opacity="0.5" transform="rotate(-55 343.5 135.2)"/>
<ellipse cx="299.0" cy="123.0" rx="0.75" ry="0.42" fill="#7a5078" opacity="0.5" transform="rotate(-55 299.0 123.0)"/>
<ellipse cx="310.0" cy="109.8" rx="0.75" ry="0.42" fill="#7a5078" opacity="0.5" transform="rotate(-55 310.0 109.8)"/>
<ellipse cx="328.3" cy="149.5" rx="0.75" ry="0.42" fill="#7a5078" opacity="0.5" transform="rotate(-55 328.3 149.5)"/>
<ellipse cx="315.4" cy="146.8" rx="0.75" ry="0.42" fill="#7a5078" opacity="0.5" transform="rotate(-55 315.4 146.8)"/>
<ellipse cx="337.7" cy="112.5" rx="0.75" ry="0.42" fill="#7a5078" opacity="0.5" transform="rotate(-55 337.7 112.5)"/>
<ellipse cx="347.5" cy="134.2" rx="0.75" ry="0.42" fill="#7a5078" opacity="0.5" transform="rotate(-55 347.5 134.2)"/>
<ellipse cx="351.6" cy="139.6" rx="0.75" ry="0.42" fill="#7a5078" opacity="0.5" transform="rotate(-55 351.6 139.6)"/>
<ellipse cx="340.4" cy="122.2" rx="0.75" ry="0.42" fill="#7a5078" opacity="0.5" transform="rotate(-55 340.4 122.2)"/>
<ellipse cx="344.4" cy="149.6" rx="0.75" ry="0.42" fill="#7a5078" opacity="0.5" transform="rotate(-55 344.4 149.6)"/>
<ellipse cx="347.7" cy="126.6" rx="0.75" ry="0.42" fill="#7a5078" opacity="0.5" transform="rotate(-55 347.7 126.6)"/>
<ellipse cx="341.4" cy="128.8" rx="0.75" ry="0.42" fill="#7a5078" opacity="0.5" transform="rotate(-55 341.4 128.8)"/>
<ellipse cx="302.5" cy="108.2" rx="0.75" ry="0.42" fill="#7a5078" opacity="0.5" transform="rotate(-55 302.5 108.2)"/>
<ellipse cx="300.7" cy="115.5" rx="0.75" ry="0.42" fill="#7a5078" opacity="0.5" transform="rotate(-55 300.7 115.5)"/>
<ellipse cx="305.6" cy="129.4" rx="0.75" ry="0.42" fill="#7a5078" opacity="0.5" transform="rotate(-55 305.6 129.4)"/>
<ellipse cx="338.0" cy="131.2" rx="0.75" ry="0.42" fill="#7a5078" opacity="0.5" transform="rotate(-55 338.0 131.2)"/>
<ellipse cx="321.3" cy="136.5" rx="0.75" ry="0.42" fill="#7a5078" opacity="0.5" transform="rotate(-55 321.3 136.5)"/>
<ellipse cx="314.3" cy="127.8" rx="0.75" ry="0.42" fill="#7a5078" opacity="0.5" transform="rotate(-55 314.3 127.8)"/>
<ellipse cx="341.4" cy="124.9" rx="0.75" ry="0.42" fill="#7a5078" opacity="0.5" transform="rotate(-55 341.4 124.9)"/>
<ellipse cx="306.8" cy="148.1" rx="0.75" ry="0.42" fill="#7a5078" opacity="0.5" transform="rotate(-55 306.8 148.1)"/>
<ellipse cx="339.2" cy="123.3" rx="0.75" ry="0.42" fill="#7a5078" opacity="0.5" transform="rotate(-55 339.2 123.3)"/>
<ellipse cx="318.3" cy="130.9" rx="0.75" ry="0.42" fill="#7a5078" opacity="0.5" transform="rotate(-55 318.3 130.9)"/>
<ellipse cx="331.8" cy="116.6" rx="0.75" ry="0.42" fill="#7a5078" opacity="0.5" transform="rotate(-55 331.8 116.6)"/>
<ellipse cx="296.2" cy="115.9" rx="0.75" ry="0.42" fill="#7a5078" opacity="0.5" transform="rotate(-55 296.2 115.9)"/>
<ellipse cx="343.0" cy="112.9" rx="0.75" ry="0.42" fill="#7a5078" opacity="0.5" transform="rotate(-55 343.0 112.9)"/>
<ellipse cx="323.6" cy="115.3" rx="0.75" ry="0.42" fill="#7a5078" opacity="0.5" transform="rotate(-55 323.6 115.3)"/>
<ellipse cx="308.6" cy="114.2" rx="0.75" ry="0.42" fill="#7a5078" opacity="0.5" transform="rotate(-55 308.6 114.2)"/>
<ellipse cx="320.2" cy="114.0" rx="0.75" ry="0.42" fill="#7a5078" opacity="0.5" transform="rotate(-55 320.2 114.0)"/>
<ellipse cx="297.6" cy="111.3" rx="0.75" ry="0.42" fill="#7a5078" opacity="0.5" transform="rotate(-55 297.6 111.3)"/>
<ellipse cx="306.1" cy="129.0" rx="0.75" ry="0.42" fill="#7a5078" opacity="0.5" transform="rotate(-55 306.1 129.0)"/>
<ellipse cx="299.6" cy="107.2" rx="0.75" ry="0.42" fill="#7a5078" opacity="0.5" transform="rotate(-55 299.6 107.2)"/>
<ellipse cx="322.9" cy="125.2" rx="0.75" ry="0.42" fill="#7a5078" opacity="0.5" transform="rotate(-55 322.9 125.2)"/>
<ellipse cx="338.2" cy="108.6" rx="0.75" ry="0.42" fill="#7a5078" opacity="0.5" transform="rotate(-55 338.2 108.6)"/>
<ellipse cx="320.2" cy="124.7" rx="0.75" ry="0.42" fill="#7a5078" opacity="0.5" transform="rotate(-55 320.2 124.7)"/>
<ellipse cx="297.6" cy="151.2" rx="0.75" ry="0.42" fill="#7a5078" opacity="0.5" transform="rotate(-55 297.6 151.2)"/>
<ellipse cx="309.1" cy="110.6" rx="0.75" ry="0.42" fill="#7a5078" opacity="0.5" transform="rotate(-55 309.1 110.6)"/>
<ellipse cx="324.5" cy="113.9" rx="0.75" ry="0.42" fill="#7a5078" opacity="0.5" transform="rotate(-55 324.5 113.9)"/>
<ellipse cx="333.3" cy="122.3" rx="0.75" ry="0.42" fill="#7a5078" opacity="0.5" transform="rotate(-55 333.3 122.3)"/>
<ellipse cx="303.4" cy="108.6" rx="0.75" ry="0.42" fill="#7a5078" opacity="0.5" transform="rotate(-55 303.4 108.6)"/>
<ellipse cx="339.7" cy="119.0" rx="0.75" ry="0.42" fill="#7a5078" opacity="0.5" transform="rotate(-55 339.7 119.0)"/>
<ellipse cx="343.3" cy="127.9" rx="0.75" ry="0.42" fill="#7a5078" opacity="0.5" transform="rotate(-55 343.3 127.9)"/>
<ellipse cx="352.0" cy="120.2" rx="0.75" ry="0.42" fill="#7a5078" opacity="0.5" transform="rotate(-55 352.0 120.2)"/>
<ellipse cx="311.0" cy="118.6" rx="0.75" ry="0.42" fill="#7a5078" opacity="0.5" transform="rotate(-55 311.0 118.6)"/>
<ellipse cx="344.9" cy="135.5" rx="0.75" ry="0.42" fill="#7a5078" opacity="0.5" transform="rotate(-55 344.9 135.5)"/>
<ellipse cx="316.7" cy="110.6" rx="0.75" ry="0.42" fill="#7a5078" opacity="0.5" transform="rotate(-55 316.7 110.6)"/>
<ellipse cx="336.9" cy="151.4" rx="0.75" ry="0.42" fill="#7a5078" opacity="0.5" transform="rotate(-55 336.9 151.4)"/>
<ellipse cx="331.5" cy="106.4" rx="0.75" ry="0.42" fill="#7a5078" opacity="0.5" transform="rotate(-55 331.5 106.4)"/>
<ellipse cx="297.8" cy="110.4" rx="0.75" ry="0.42" fill="#7a5078" opacity="0.5" transform="rotate(-55 297.8 110.4)"/>
<ellipse cx="306.2" cy="107.9" rx="0.75" ry="0.42" fill="#7a5078" opacity="0.5" transform="rotate(-55 306.2 107.9)"/>
<ellipse cx="299.2" cy="136.7" rx="0.75" ry="0.42" fill="#7a5078" opacity="0.5" transform="rotate(-55 299.2 136.7)"/>
<ellipse cx="350.0" cy="115.6" rx="0.75" ry="0.42" fill="#7a5078" opacity="0.5" transform="rotate(-55 350.0 115.6)"/>
<ellipse cx="354.4" cy="128.4" rx="0.75" ry="0.42" fill="#7a5078" opacity="0.5" transform="rotate(-55 354.4 128.4)"/>
<ellipse cx="344.2" cy="148.9" rx="0.75" ry="0.42" fill="#7a5078" opacity="0.5" transform="rotate(-55 344.2 148.9)"/>
<ellipse cx="352.4" cy="107.8" rx="0.75" ry="0.42" fill="#7a5078" opacity="0.5" transform="rotate(-55 352.4 107.8)"/>
<ellipse cx="314.3" cy="134.5" rx="0.75" ry="0.42" fill="#7a5078" opacity="0.5" transform="rotate(-55 314.3 134.5)"/>
<ellipse cx="352.8" cy="110.3" rx="0.75" ry="0.42" fill="#7a5078" opacity="0.5" transform="rotate(-55 352.8 110.3)"/>
<ellipse cx="313.6" cy="145.8" rx="0.75" ry="0.42" fill="#7a5078" opacity="0.5" transform="rotate(-55 313.6 145.8)"/>
<ellipse cx="302.9" cy="124.4" rx="0.75" ry="0.42" fill="#7a5078" opacity="0.5" transform="rotate(-55 302.9 124.4)"/>
<ellipse cx="316.1" cy="137.9" rx="0.75" ry="0.42" fill="#7a5078" opacity="0.5" transform="rotate(-55 316.1 137.9)"/>
<ellipse cx="351.7" cy="114.3" rx="0.75" ry="0.42" fill="#7a5078" opacity="0.5" transform="rotate(-55 351.7 114.3)"/>
<ellipse cx="340.4" cy="140.4" rx="0.75" ry="0.42" fill="#7a5078" opacity="0.5" transform="rotate(-55 340.4 140.4)"/>
<ellipse cx="346.1" cy="132.0" rx="0.75" ry="0.42" fill="#7a5078" opacity="0.5" transform="rotate(-55 346.1 132.0)"/>
<ellipse cx="351.4" cy="123.1" rx="0.75" ry="0.42" fill="#7a5078" opacity="0.5" transform="rotate(-55 351.4 123.1)"/>
<ellipse cx="320.9" cy="116.9" rx="0.75" ry="0.42" fill="#7a5078" opacity="0.5" transform="rotate(-55 320.9 116.9)"/>
<ellipse cx="342.8" cy="128.6" rx="0.75" ry="0.42" fill="#7a5078" opacity="0.5" transform="rotate(-55 342.8 128.6)"/>
<ellipse cx="312.2" cy="114.1" rx="0.75" ry="0.42" fill="#7a5078" opacity="0.5" transform="rotate(-55 312.2 114.1)"/>
<ellipse cx="339.2" cy="134.4" rx="0.75" ry="0.42" fill="#7a5078" opacity="0.5" transform="rotate(-55 339.2 134.4)"/>
<ellipse cx="338.6" cy="124.2" rx="0.75" ry="0.42" fill="#7a5078" opacity="0.5" transform="rotate(-55 338.6 124.2)"/>
<ellipse cx="325.2" cy="113.4" rx="0.75" ry="0.42" fill="#7a5078" opacity="0.5" transform="rotate(-55 325.2 113.4)"/>
<ellipse cx="338.6" cy="107.3" rx="0.75" ry="0.42" fill="#7a5078" opacity="0.5" transform="rotate(-55 338.6 107.3)"/>
<ellipse cx="324.0" cy="141.5" rx="0.75" ry="0.42" fill="#7a5078" opacity="0.5" transform="rotate(-55 324.0 141.5)"/>
<ellipse cx="336.6" cy="110.7" rx="0.75" ry="0.42" fill="#7a5078" opacity="0.5" transform="rotate(-55 336.6 110.7)"/>
<ellipse cx="310.2" cy="145.5" rx="0.75" ry="0.42" fill="#7a5078" opacity="0.5" transform="rotate(-55 310.2 145.5)"/>
<ellipse cx="334.5" cy="147.1" rx="0.75" ry="0.42" fill="#7a5078" opacity="0.5" transform="rotate(-55 334.5 147.1)"/>
<ellipse cx="348.3" cy="127.2" rx="0.75" ry="0.42" fill="#7a5078" opacity="0.5" transform="rotate(-55 348.3 127.2)"/>
<ellipse cx="349.8" cy="140.4" rx="0.75" ry="0.42" fill="#7a5078" opacity="0.5" transform="rotate(-55 349.8 140.4)"/>
<ellipse cx="316.0" cy="123.4" rx="0.75" ry="0.42" fill="#7a5078" opacity="0.5" transform="rotate(-55 316.0 123.4)"/>
<ellipse cx="300.3" cy="124.8" rx="0.75" ry="0.42" fill="#7a5078" opacity="0.5" transform="rotate(-55 300.3 124.8)"/>
<ellipse cx="353.3" cy="111.1" rx="0.75" ry="0.42" fill="#7a5078" opacity="0.5" transform="rotate(-55 353.3 111.1)"/>
<ellipse cx="330.1" cy="111.3" rx="0.75" ry="0.42" fill="#7a5078" opacity="0.5" transform="rotate(-55 330.1 111.3)"/>
<ellipse cx="300.9" cy="136.4" rx="0.75" ry="0.42" fill="#7a5078" opacity="0.5" transform="rotate(-55 300.9 136.4)"/>
<ellipse cx="310.4" cy="108.5" rx="0.75" ry="0.42" fill="#7a5078" opacity="0.5" transform="rotate(-55 310.4 108.5)"/>
<ellipse cx="305.2" cy="136.2" rx="0.75" ry="0.42" fill="#7a5078" opacity="0.5" transform="rotate(-55 305.2 136.2)"/>
<ellipse cx="331.1" cy="106.7" rx="0.75" ry="0.42" fill="#7a5078" opacity="0.5" transform="rotate(-55 331.1 106.7)"/>
<ellipse cx="309.8" cy="151.3" rx="0.75" ry="0.42" fill="#7a5078" opacity="0.5" transform="rotate(-55 309.8 151.3)"/>
<ellipse cx="309.2" cy="132.4" rx="0.75" ry="0.42" fill="#7a5078" opacity="0.5" transform="rotate(-55 309.2 132.4)"/>
<ellipse cx="321.2" cy="142.6" rx="0.75" ry="0.42" fill="#7a5078" opacity="0.5" transform="rotate(-55 321.2 142.6)"/>
<ellipse cx="332.3" cy="143.0" rx="0.75" ry="0.42" fill="#7a5078" opacity="0.5" transform="rotate(-55 332.3 143.0)"/>
<ellipse cx="328.1" cy="115.0" rx="0.75" ry="0.42" fill="#7a5078" opacity="0.5" transform="rotate(-55 328.1 115.0)"/>
<ellipse cx="306.7" cy="109.9" rx="0.75" ry="0.42" fill="#7a5078" opacity="0.5" transform="rotate(-55 306.7 109.9)"/>
<ellipse cx="345.5" cy="111.4" rx="0.75" ry="0.42" fill="#7a5078" opacity="0.5" transform="rotate(-55 345.5 111.4)"/>
<ellipse cx="297.4" cy="151.2" rx="0.75" ry="0.42" fill="#7a5078" opacity="0.5" transform="rotate(-55 297.4 151.2)"/>
<ellipse cx="308.0" cy="147.8" rx="0.75" ry="0.42" fill="#7a5078" opacity="0.5" transform="rotate(-55 308.0 147.8)"/>
<ellipse cx="301.1" cy="127.9" rx="0.75" ry="0.42" fill="#7a5078" opacity="0.5" transform="rotate(-55 301.1 127.9)"/>
<ellipse cx="309.4" cy="144.9" rx="0.75" ry="0.42" fill="#7a5078" opacity="0.5" transform="rotate(-55 309.4 144.9)"/>
<ellipse cx="332.9" cy="136.1" rx="0.75" ry="0.42" fill="#7a5078" opacity="0.5" transform="rotate(-55 332.9 136.1)"/>
<ellipse cx="341.7" cy="146.8" rx="0.75" ry="0.42" fill="#7a5078" opacity="0.5" transform="rotate(-55 341.7 146.8)"/>
<ellipse cx="316.8" cy="134.3" rx="0.75" ry="0.42" fill="#7a5078" opacity="0.5" transform="rotate(-55 316.8 134.3)"/>
<ellipse cx="322.7" cy="111.4" rx="0.75" ry="0.42" fill="#7a5078" opacity="0.5" transform="rotate(-55 322.7 111.4)"/>
<ellipse cx="346.1" cy="133.9" rx="0.75" ry="0.42" fill="#7a5078" opacity="0.5" transform="rotate(-55 346.1 133.9)"/>
<ellipse cx="344.9" cy="115.8" rx="0.75" ry="0.42" fill="#7a5078" opacity="0.5" transform="rotate(-55 344.9 115.8)"/>
<ellipse cx="328.4" cy="127.8" rx="0.75" ry="0.42" fill="#7a5078" opacity="0.5" transform="rotate(-55 328.4 127.8)"/>
<ellipse cx="339.7" cy="109.8" rx="0.75" ry="0.42" fill="#7a5078" opacity="0.5" transform="rotate(-55 339.7 109.8)"/>
<ellipse cx="316.8" cy="128.8" rx="0.75" ry="0.42" fill="#7a5078" opacity="0.5" transform="rotate(-55 316.8 128.8)"/>
<ellipse cx="300.3" cy="132.0" rx="0.75" ry="0.42" fill="#7a5078" opacity="0.5" transform="rotate(-55 300.3 132.0)"/>
<ellipse cx="340.1" cy="125.9" rx="0.75" ry="0.42" fill="#7a5078" opacity="0.5" transform="rotate(-55 340.1 125.9)"/>
<ellipse cx="334.9" cy="134.4" rx="0.75" ry="0.42" fill="#7a5078" opacity="0.5" transform="rotate(-55 334.9 134.4)"/>
<ellipse cx="308.9" cy="122.5" rx="0.75" ry="0.42" fill="#7a5078" opacity="0.5" transform="rotate(-55 308.9 122.5)"/>
<ellipse cx="355.7" cy="121.8" rx="0.75" ry="0.42" fill="#7a5078" opacity="0.5" transform="rotate(-55 355.7 121.8)"/>
<ellipse cx="321.8" cy="110.1" rx="0.75" ry="0.42" fill="#7a5078" opacity="0.5" transform="rotate(-55 321.8 110.1)"/>
<ellipse cx="309.1" cy="113.9" rx="0.75" ry="0.42" fill="#7a5078" opacity="0.5" transform="rotate(-55 309.1 113.9)"/>
<ellipse cx="351.9" cy="140.0" rx="0.75" ry="0.42" fill="#7a5078" opacity="0.5" transform="rotate(-55 351.9 140.0)"/>
<ellipse cx="348.5" cy="152.2" rx="0.75" ry="0.42" fill="#7a5078" opacity="0.5" transform="rotate(-55 348.5 152.2)"/>
<ellipse cx="332.7" cy="149.6" rx="0.75" ry="0.42" fill="#7a5078" opacity="0.5" transform="rotate(-55 332.7 149.6)"/>
<ellipse cx="328.1" cy="125.7" rx="0.75" ry="0.42" fill="#7a5078" opacity="0.5" transform="rotate(-55 328.1 125.7)"/>
<ellipse cx="352.9" cy="148.3" rx="0.75" ry="0.42" fill="#7a5078" opacity="0.5" transform="rotate(-55 352.9 148.3)"/>
<ellipse cx="353.0" cy="128.8" rx="0.75" ry="0.42" fill="#7a5078" opacity="0.5" transform="rotate(-55 353.0 128.8)"/>
<ellipse cx="342.4" cy="125.2" rx="0.75" ry="0.42" fill="#7a5078" opacity="0.5" transform="rotate(-55 342.4 125.2)"/>
<ellipse cx="355.8" cy="149.1" rx="0.75" ry="0.42" fill="#7a5078" opacity="0.5" transform="rotate(-55 355.8 149.1)"/>
<ellipse cx="313.5" cy="149.7" rx="0.75" ry="0.42" fill="#7a5078" opacity="0.5" transform="rotate(-55 313.5 149.7)"/>
<ellipse cx="307.1" cy="110.7" rx="0.75" ry="0.42" fill="#7a5078" opacity="0.5" transform="rotate(-55 307.1 110.7)"/>
<ellipse cx="339.3" cy="119.9" rx="0.75" ry="0.42" fill="#7a5078" opacity="0.5" transform="rotate(-55 339.3 119.9)"/>
<ellipse cx="327.2" cy="136.0" rx="0.75" ry="0.42" fill="#7a5078" opacity="0.5" transform="rotate(-55 327.2 136.0)"/>
<ellipse cx="298.4" cy="140.9" rx="0.75" ry="0.42" fill="#7a5078" opacity="0.5" transform="rotate(-55 298.4 140.9)"/>
<ellipse cx="312.6" cy="126.3" rx="0.75" ry="0.42" fill="#7a5078" opacity="0.5" transform="rotate(-55 312.6 126.3)"/>
<ellipse cx="316.7" cy="140.8" rx="0.75" ry="0.42" fill="#7a5078" opacity="0.5" transform="rotate(-55 316.7 140.8)"/>
<ellipse cx="340.8" cy="119.6" rx="0.75" ry="0.42" fill="#7a5078" opacity="0.5" transform="rotate(-55 340.8 119.6)"/>
<ellipse cx="302.2" cy="120.1" rx="0.75" ry="0.42" fill="#7a5078" opacity="0.5" transform="rotate(-55 302.2 120.1)"/>
<ellipse cx="320.7" cy="109.8" rx="0.75" ry="0.42" fill="#7a5078" opacity="0.5" transform="rotate(-55 320.7 109.8)"/>
<ellipse cx="305.2" cy="141.7" rx="0.75" ry="0.42" fill="#7a5078" opacity="0.5" transform="rotate(-55 305.2 141.7)"/>
<ellipse cx="338.0" cy="151.7" rx="0.75" ry="0.42" fill="#7a5078" opacity="0.5" transform="rotate(-55 338.0 151.7)"/>
<ellipse cx="354.8" cy="147.0" rx="0.75" ry="0.42" fill="#7a5078" opacity="0.5" transform="rotate(-55 354.8 147.0)"/>
<ellipse cx="318.4" cy="113.7" rx="0.75" ry="0.42" fill="#7a5078" opacity="0.5" transform="rotate(-55 318.4 113.7)"/>
<ellipse cx="314.7" cy="127.8" rx="0.75" ry="0.42" fill="#7a5078" opacity="0.5" transform="rotate(-55 314.7 127.8)"/>
<ellipse cx="327.6" cy="131.5" rx="0.75" ry="0.42" fill="#7a5078" opacity="0.5" transform="rotate(-55 327.6 131.5)"/>
<ellipse cx="317.6" cy="145.9" rx="0.75" ry="0.42" fill="#7a5078" opacity="0.5" transform="rotate(-55 317.6 145.9)"/>
<ellipse cx="313.1" cy="127.8" rx="0.75" ry="0.42" fill="#7a5078" opacity="0.5" transform="rotate(-55 313.1 127.8)"/>
</g>
<rect x="176.3" y="106.2" width="179.3" height="46.6" fill="none" stroke="#231815" stroke-width="1.1"/>
<line x1="236.4" y1="106.2" x2="236.4" y2="152.8" stroke="#231815" stroke-width="1.1"/>
<line x1="296" y1="106.2" x2="296" y2="152.8" stroke="#231815" stroke-width="1.1"/>
<line x1="221.5" y1="150.3" x2="233.5" y2="150.3" stroke="#231815" stroke-width="1.2"/>
<line x1="282.7" y1="150.3" x2="294.7" y2="150.3" stroke="#231815" stroke-width="1.2"/>
<line x1="341.7" y1="150.3" x2="353.7" y2="150.3" stroke="#231815" stroke-width="1.2"/>
</g>
<g id="panelC">
<text x="367.6" y="13.7" font-size="15.3" font-weight="bold" fill="#111" textLength="12.3" lengthAdjust="spacingAndGlyphs" stroke="#111" stroke-width="0.3">C</text>
<rect x="369.8" y="25.45" width="5.7" height="5.7" fill="#fff" stroke="#777" stroke-width="0.7"/>
<text x="381.7" y="31" font-size="9.8" fill="#222" textLength="51.5" lengthAdjust="spacing" stroke="#222" stroke-width="0.1">HL + carrier</text>
<rect x="369.8" y="38.15" width="5.7" height="5.7" fill="#a3a3a3" stroke="#666" stroke-width="0.7"/>
<text x="381.7" y="43.7" font-size="9.8" fill="#222" textLength="135" lengthAdjust="spacing" stroke="#222" stroke-width="0.1">HL + BSA-PBS mob. PBMCs</text>
<rect x="369.8" y="50.75" width="5.7" height="5.7" fill="#1a6dbd" stroke="#1a6dbd" stroke-width="0.7"/>
<text x="381.7" y="56.4" font-size="9.8" fill="#222" textLength="103.5" lengthAdjust="spacing" stroke="#222" stroke-width="0.1">HL + tPA mob. PBMCs</text>
<path d="M396.8,81.0 V196.8 H511.8" fill="none" stroke="#111" stroke-width="1.5"/>
<line x1="396.8" y1="168.0" x2="399.2" y2="168.0" stroke="#111" stroke-width="1.5"/>
<line x1="396.8" y1="139.2" x2="399.2" y2="139.2" stroke="#111" stroke-width="1.5"/>
<line x1="396.8" y1="110.39999999999999" x2="399.2" y2="110.39999999999999" stroke="#111" stroke-width="1.5"/>
<line x1="396.8" y1="81.6" x2="399.2" y2="81.6" stroke="#111" stroke-width="1.5"/>
<line x1="434.97" y1="196.8" x2="434.97" y2="194.4" stroke="#111" stroke-width="1.5"/>
<line x1="473.14" y1="196.8" x2="473.14" y2="194.4" stroke="#111" stroke-width="1.5"/>
<line x1="511.31" y1="196.8" x2="511.31" y2="194.4" stroke="#111" stroke-width="1.5"/>
<text x="394.6" y="200.0" font-size="9" text-anchor="end" fill="#222" textLength="4.3" lengthAdjust="spacingAndGlyphs" stroke="#222" stroke-width="0.1">0</text>
<text x="394.6" y="171.2" font-size="9" text-anchor="end" fill="#222" textLength="12.91" lengthAdjust="spacingAndGlyphs" stroke="#222" stroke-width="0.1">100</text>
<text x="394.6" y="142.39999999999998" font-size="9" text-anchor="end" fill="#222" textLength="12.91" lengthAdjust="spacingAndGlyphs" stroke="#222" stroke-width="0.1">200</text>
<text x="394.6" y="113.6" font-size="9" text-anchor="end" fill="#222" textLength="12.91" lengthAdjust="spacingAndGlyphs" stroke="#222" stroke-width="0.1">300</text>
<text x="394.6" y="84.8" font-size="9" text-anchor="end" fill="#222" textLength="12.91" lengthAdjust="spacingAndGlyphs" stroke="#222" stroke-width="0.1">400</text>
<line x1="416.7" y1="120.6" x2="416.7" y2="118.19999999999999" stroke="#231815" stroke-width="0.9"/>
<line x1="413.9" y1="118.19999999999999" x2="419.5" y2="118.19999999999999" stroke="#231815" stroke-width="0.9"/>
<rect x="405.2" y="120.6" width="23.00" height="76.20" fill="#fff" stroke="#231815" stroke-width="0.9"/>
<line x1="454.9" y1="116.7" x2="454.9" y2="110.10000000000001" stroke="#231815" stroke-width="0.9"/>
<line x1="452.09999999999997" y1="110.10000000000001" x2="457.7" y2="110.10000000000001" stroke="#231815" stroke-width="0.9"/>
<rect x="443.2" y="116.7" width="23.40" height="80.10" fill="#a3a3a3" stroke="#231815" stroke-width="0.9"/>
<line x1="492.45" y1="83" x2="492.45" y2="79.7" stroke="#231815" stroke-width="0.9"/>
<line x1="489.65" y1="79.7" x2="495.25" y2="79.7" stroke="#231815" stroke-width="0.9"/>
<rect x="480.7" y="83" width="23.50" height="113.80" fill="#1a6dbd" stroke="#1a4f8a" stroke-width="0.9"/>
<path d="M454,99.7 V71.2 H491.5 V78.8" fill="none" stroke="#222" stroke-width="0.9"/>
<text x="473" y="70.6" font-size="10" text-anchor="middle" font-weight="bold" fill="#666">**</text>
<text transform="translate(378.8,138.5) rotate(-90)" font-size="10" text-anchor="middle" fill="#222" stroke="#222" stroke-width="0.1" textLength="116" lengthAdjust="spacing">Capillary density ( / mm<tspan font-size="5.5" dy="-3">2</tspan><tspan dy="3"> )</tspan></text>
</g>
<g id="panelD">
<text x="0.6" y="271.7" font-size="15.3" font-weight="bold" fill="#111" textLength="12.3" lengthAdjust="spacingAndGlyphs" stroke="#111" stroke-width="0.3">D</text>
<text x="62" y="291.3" font-size="9.7" text-anchor="middle" fill="#222" textLength="50" lengthAdjust="spacing" stroke="#222" stroke-width="0.1">HL + carrier</text>
<text x="151.7" y="286.3" font-size="9.7" text-anchor="middle" fill="#222" textLength="64" lengthAdjust="spacing" stroke="#222" stroke-width="0.1">HL + BSA-PBS</text>
<text x="151.7" y="297.6" font-size="9.7" text-anchor="middle" fill="#222" textLength="56" lengthAdjust="spacing" stroke="#222" stroke-width="0.1">mob. PBMCs</text>
<text x="241" y="286.3" font-size="9.7" text-anchor="middle" fill="#222" textLength="38.5" lengthAdjust="spacing" stroke="#222" stroke-width="0.1">HL + tPA</text>
<text x="241" y="297.6" font-size="9.7" text-anchor="middle" fill="#222" textLength="56" lengthAdjust="spacing" stroke="#222" stroke-width="0.1">mob. PBMCs</text>
<text x="12.9" y="336.8" font-size="9.8" text-anchor="middle" fill="#222" textLength="20" lengthAdjust="spacing" transform="rotate(-90 12.9 336.8)" stroke="#222" stroke-width="0.1">GFP</text>
<rect x="17.5" y="302.3" width="88.0" height="69.1" fill="#251813"/>
<rect x="108" y="302.3" width="87.5" height="69.1" fill="#251813"/>
<rect x="197.5" y="302.3" width="88.0" height="69.1" fill="#251813"/>
<g filter="url(#b05)"><circle cx="72.1" cy="353.1" r="1.0" fill="#3a6ea8" opacity="0.41"/><circle cx="82.1" cy="365.2" r="0.4" fill="#3a6ea8" opacity="0.31"/><circle cx="99.6" cy="346.8" r="1.1" fill="#3a6ea8" opacity="0.23"/><circle cx="58.8" cy="319.8" r="0.8" fill="#3a6ea8" opacity="0.33"/><circle cx="19.6" cy="317.8" r="0.6" fill="#3a6ea8" opacity="0.40"/><circle cx="84.4" cy="314.0" r="1.0" fill="#3a6ea8" opacity="0.24"/><circle cx="71.6" cy="311.8" r="0.4" fill="#3a6ea8" opacity="0.39"/><circle cx="36.5" cy="317.8" r="1.2" fill="#3a6ea8" opacity="0.39"/><circle cx="43.4" cy="367.8" r="0.8" fill="#3a6ea8" opacity="0.35"/><circle cx="36.1" cy="366.4" r="1.0" fill="#3a6ea8" opacity="0.41"/><circle cx="95.4" cy="323.3" r="0.7" fill="#3a6ea8" opacity="0.24"/><circle cx="31.0" cy="307.7" r="0.6" fill="#3a6ea8" opacity="0.34"/><circle cx="18.8" cy="348.8" r="0.7" fill="#3a6ea8" opacity="0.28"/><circle cx="88.9" cy="335.6" r="0.7" fill="#3a6ea8" opacity="0.31"/><circle cx="79.1" cy="307.1" r="1.2" fill="#3a6ea8" opacity="0.21"/><circle cx="83.0" cy="360.0" r="0.4" fill="#3a6ea8" opacity="0.38"/><circle cx="50.0" cy="342.1" r="0.4" fill="#3a6ea8" opacity="0.22"/><circle cx="34.1" cy="367.4" r="0.6" fill="#3a6ea8" opacity="0.37"/><circle cx="98.5" cy="366.5" r="0.7" fill="#3a6ea8" opacity="0.28"/><circle cx="63.6" cy="355.3" r="0.5" fill="#3a6ea8" opacity="0.37"/><circle cx="87.1" cy="361.0" r="0.4" fill="#3a6ea8" opacity="0.41"/><circle cx="26.3" cy="326.2" r="0.9" fill="#3a6ea8" opacity="0.40"/><circle cx="47.7" cy="365.3" r="0.8" fill="#3a6ea8" opacity="0.28"/><circle cx="45.7" cy="315.2" r="0.5" fill="#3a6ea8" opacity="0.24"/><circle cx="77.8" cy="370.2" r="0.5" fill="#3a6ea8" opacity="0.22"/><circle cx="103.4" cy="339.1" r="0.7" fill="#3a6ea8" opacity="0.26"/><circle cx="69.6" cy="358.7" r="0.8" fill="#3a6ea8" opacity="0.30"/><circle cx="23.3" cy="364.8" r="0.4" fill="#3a6ea8" opacity="0.31"/><circle cx="90.6" cy="312.1" r="1.0" fill="#3a6ea8" opacity="0.41"/><circle cx="72.7" cy="356.2" r="0.5" fill="#3a6ea8" opacity="0.30"/><circle cx="31.3" cy="360.0" r="0.6" fill="#3a6ea8" opacity="0.31"/><circle cx="104.4" cy="360.5" r="1.2" fill="#3a6ea8" opacity="0.31"/><circle cx="60.5" cy="352.2" r="0.8" fill="#3a6ea8" opacity="0.27"/><circle cx="53.2" cy="313.1" r="0.7" fill="#3a6ea8" opacity="0.42"/><circle cx="101.0" cy="345.4" r="0.8" fill="#3a6ea8" opacity="0.28"/><circle cx="26.2" cy="321.6" r="1.0" fill="#3a6ea8" opacity="0.39"/><circle cx="49.6" cy="356.0" r="1.0" fill="#3a6ea8" opacity="0.36"/><circle cx="75.6" cy="354.3" r="0.7" fill="#3a6ea8" opacity="0.36"/><circle cx="42.7" cy="335.9" r="1.0" fill="#3a6ea8" opacity="0.36"/><circle cx="43.8" cy="366.7" r="0.9" fill="#3a6ea8" opacity="0.33"/><circle cx="19.5" cy="340.0" r="0.6" fill="#3a6ea8" opacity="0.35"/><circle cx="58.3" cy="358.1" r="0.9" fill="#3a6ea8" opacity="0.38"/><circle cx="48.4" cy="346.5" r="1.0" fill="#3a6ea8" opacity="0.38"/><circle cx="48.6" cy="359.9" r="1.1" fill="#3a6ea8" opacity="0.35"/><circle cx="102.4" cy="367.5" r="0.8" fill="#3a6ea8" opacity="0.32"/><circle cx="32.8" cy="359.4" r="1.1" fill="#3a6ea8" opacity="0.31"/></g>
<g filter="url(#b05)"><circle cx="168.1" cy="351.6" r="1.1" fill="#3a6ea8" opacity="0.26"/><circle cx="162.3" cy="355.3" r="1.0" fill="#3a6ea8" opacity="0.39"/><circle cx="111.4" cy="314.0" r="0.8" fill="#3a6ea8" opacity="0.37"/><circle cx="127.7" cy="349.3" r="1.0" fill="#3a6ea8" opacity="0.23"/><circle cx="149.3" cy="318.5" r="0.4" fill="#3a6ea8" opacity="0.26"/><circle cx="136.1" cy="315.5" r="0.6" fill="#3a6ea8" opacity="0.23"/><circle cx="148.8" cy="328.8" r="1.0" fill="#3a6ea8" opacity="0.36"/><circle cx="129.3" cy="363.9" r="0.4" fill="#3a6ea8" opacity="0.32"/><circle cx="132.8" cy="330.8" r="0.5" fill="#3a6ea8" opacity="0.41"/><circle cx="141.0" cy="305.7" r="1.0" fill="#3a6ea8" opacity="0.25"/><circle cx="155.6" cy="326.1" r="0.9" fill="#3a6ea8" opacity="0.44"/><circle cx="140.6" cy="312.8" r="0.9" fill="#3a6ea8" opacity="0.35"/><circle cx="190.8" cy="368.3" r="0.9" fill="#3a6ea8" opacity="0.30"/><circle cx="118.2" cy="341.3" r="1.0" fill="#3a6ea8" opacity="0.26"/><circle cx="162.8" cy="363.1" r="0.7" fill="#3a6ea8" opacity="0.32"/><circle cx="128.4" cy="322.9" r="1.3" fill="#3a6ea8" opacity="0.31"/><circle cx="191.2" cy="364.6" r="0.9" fill="#3a6ea8" opacity="0.28"/><circle cx="144.5" cy="324.7" r="1.3" fill="#3a6ea8" opacity="0.34"/><circle cx="133.5" cy="335.3" r="0.5" fill="#3a6ea8" opacity="0.36"/><circle cx="146.9" cy="323.0" r="1.1" fill="#3a6ea8" opacity="0.41"/><circle cx="110.1" cy="339.0" r="0.6" fill="#3a6ea8" opacity="0.44"/><circle cx="131.9" cy="313.7" r="1.3" fill="#3a6ea8" opacity="0.29"/><circle cx="154.6" cy="325.9" r="0.7" fill="#3a6ea8" opacity="0.34"/><circle cx="148.7" cy="327.5" r="1.1" fill="#3a6ea8" opacity="0.36"/><circle cx="112.1" cy="320.2" r="0.8" fill="#3a6ea8" opacity="0.43"/><circle cx="110.2" cy="355.5" r="0.8" fill="#3a6ea8" opacity="0.35"/><circle cx="150.2" cy="364.5" r="0.7" fill="#3a6ea8" opacity="0.31"/><circle cx="134.3" cy="359.0" r="0.5" fill="#3a6ea8" opacity="0.41"/><circle cx="133.5" cy="355.7" r="1.2" fill="#3a6ea8" opacity="0.26"/><circle cx="149.9" cy="340.1" r="0.8" fill="#3a6ea8" opacity="0.30"/><circle cx="122.1" cy="342.6" r="1.1" fill="#3a6ea8" opacity="0.24"/><circle cx="128.7" cy="358.3" r="1.1" fill="#3a6ea8" opacity="0.37"/><circle cx="111.2" cy="351.8" r="1.3" fill="#3a6ea8" opacity="0.45"/><circle cx="164.2" cy="367.2" r="1.0" fill="#3a6ea8" opacity="0.26"/><circle cx="134.0" cy="364.9" r="0.5" fill="#3a6ea8" opacity="0.36"/><circle cx="144.4" cy="314.1" r="1.0" fill="#3a6ea8" opacity="0.23"/><circle cx="118.3" cy="328.7" r="0.5" fill="#3a6ea8" opacity="0.24"/><circle cx="158.2" cy="353.1" r="1.2" fill="#3a6ea8" opacity="0.26"/><circle cx="145.9" cy="324.4" r="0.9" fill="#3a6ea8" opacity="0.34"/><circle cx="113.8" cy="350.1" r="0.5" fill="#3a6ea8" opacity="0.37"/><circle cx="152.2" cy="364.4" r="0.9" fill="#3a6ea8" opacity="0.36"/><circle cx="131.5" cy="340.3" r="0.6" fill="#3a6ea8" opacity="0.39"/><circle cx="153.2" cy="312.3" r="0.6" fill="#3a6ea8" opacity="0.31"/><circle cx="116.3" cy="348.1" r="0.5" fill="#3a6ea8" opacity="0.25"/></g>
<g filter="url(#b05)"><circle cx="226.3" cy="356.7" r="0.4" fill="#3a66a0" opacity="0.35"/><circle cx="203.1" cy="313.4" r="1.1" fill="#3a66a0" opacity="0.34"/><circle cx="217.7" cy="311.1" r="1.1" fill="#3a66a0" opacity="0.33"/><circle cx="218.7" cy="325.7" r="0.8" fill="#3a66a0" opacity="0.27"/><circle cx="231.7" cy="312.5" r="1.0" fill="#3a66a0" opacity="0.33"/><circle cx="206.8" cy="305.5" r="0.5" fill="#3a66a0" opacity="0.21"/><circle cx="238.9" cy="363.0" r="0.8" fill="#3a66a0" opacity="0.29"/><circle cx="238.5" cy="310.0" r="0.5" fill="#3a66a0" opacity="0.23"/><circle cx="230.7" cy="329.2" r="1.0" fill="#3a66a0" opacity="0.23"/><circle cx="220.3" cy="321.9" r="0.5" fill="#3a66a0" opacity="0.26"/><circle cx="218.7" cy="335.6" r="0.4" fill="#3a66a0" opacity="0.38"/><circle cx="230.2" cy="366.2" r="0.9" fill="#3a66a0" opacity="0.33"/><circle cx="239.1" cy="366.7" r="0.5" fill="#3a66a0" opacity="0.33"/><circle cx="223.5" cy="348.6" r="0.9" fill="#3a66a0" opacity="0.23"/><circle cx="215.8" cy="305.0" r="0.6" fill="#3a66a0" opacity="0.22"/><circle cx="233.0" cy="368.6" r="0.7" fill="#3a66a0" opacity="0.26"/><circle cx="238.8" cy="322.3" r="0.9" fill="#3a66a0" opacity="0.34"/><circle cx="212.5" cy="319.4" r="0.9" fill="#3a66a0" opacity="0.39"/><circle cx="203.7" cy="355.6" r="0.7" fill="#3a66a0" opacity="0.21"/><circle cx="245.7" cy="369.7" r="0.8" fill="#3a66a0" opacity="0.27"/><circle cx="206.6" cy="308.1" r="1.0" fill="#3a66a0" opacity="0.30"/><circle cx="219.4" cy="306.7" r="0.7" fill="#3a66a0" opacity="0.21"/><circle cx="220.5" cy="330.6" r="0.6" fill="#3a66a0" opacity="0.21"/><circle cx="201.7" cy="368.5" r="0.5" fill="#3a66a0" opacity="0.30"/><circle cx="233.1" cy="339.0" r="0.5" fill="#3a66a0" opacity="0.26"/><circle cx="207.8" cy="339.7" r="1.0" fill="#3a66a0" opacity="0.32"/><circle cx="200.0" cy="339.5" r="0.7" fill="#3a66a0" opacity="0.31"/><circle cx="230.9" cy="345.2" r="0.9" fill="#3a66a0" opacity="0.38"/><circle cx="225.0" cy="333.4" r="1.0" fill="#3a66a0" opacity="0.24"/><circle cx="208.4" cy="324.2" r="0.5" fill="#3a66a0" opacity="0.35"/><circle cx="209.7" cy="308.8" r="0.6" fill="#3a66a0" opacity="0.22"/><circle cx="235.4" cy="342.0" r="0.6" fill="#3a66a0" opacity="0.21"/><circle cx="215.7" cy="322.5" r="0.7" fill="#3a66a0" opacity="0.22"/><circle cx="234.7" cy="324.4" r="0.9" fill="#3a66a0" opacity="0.31"/><circle cx="236.5" cy="358.1" r="0.9" fill="#3a66a0" opacity="0.39"/><circle cx="261.1" cy="350.3" r="0.6" fill="#3a66a0" opacity="0.36"/><circle cx="231.4" cy="312.0" r="0.4" fill="#3a66a0" opacity="0.23"/><circle cx="221.1" cy="348.7" r="0.6" fill="#3a66a0" opacity="0.21"/><circle cx="200.9" cy="306.7" r="0.5" fill="#3a66a0" opacity="0.27"/><circle cx="272.4" cy="367.0" r="0.8" fill="#3a66a0" opacity="0.25"/><circle cx="235.4" cy="327.6" r="0.6" fill="#3a66a0" opacity="0.20"/><circle cx="248.8" cy="358.8" r="0.9" fill="#3a66a0" opacity="0.22"/><circle cx="244.1" cy="314.8" r="0.9" fill="#3a66a0" opacity="0.29"/><circle cx="279.2" cy="356.6" r="0.5" fill="#3a66a0" opacity="0.26"/><circle cx="235.8" cy="332.9" r="0.9" fill="#3a66a0" opacity="0.39"/><circle cx="244.3" cy="368.4" r="0.8" fill="#3a66a0" opacity="0.22"/><circle cx="203.0" cy="368.9" r="0.4" fill="#3a66a0" opacity="0.32"/><circle cx="240.0" cy="362.5" r="0.7" fill="#3a66a0" opacity="0.24"/><circle cx="222.3" cy="316.8" r="0.8" fill="#3a66a0" opacity="0.27"/></g>
<g filter="url(#b05)"><circle cx="244.6" cy="346.8" r="1.3" fill="#3567a8" opacity="0.46"/><circle cx="275.3" cy="358.4" r="0.8" fill="#3567a8" opacity="0.29"/><circle cx="274.1" cy="354.4" r="0.4" fill="#3567a8" opacity="0.29"/><circle cx="229.1" cy="361.5" r="1.2" fill="#3567a8" opacity="0.30"/><circle cx="272.0" cy="349.2" r="1.0" fill="#3567a8" opacity="0.47"/><circle cx="261.3" cy="364.1" r="0.7" fill="#3567a8" opacity="0.25"/><circle cx="254.5" cy="357.4" r="0.6" fill="#3567a8" opacity="0.35"/><circle cx="242.5" cy="339.8" r="0.7" fill="#3567a8" opacity="0.35"/><circle cx="252.3" cy="361.1" r="0.8" fill="#3567a8" opacity="0.50"/><circle cx="273.2" cy="368.0" r="1.0" fill="#3567a8" opacity="0.42"/><circle cx="256.0" cy="364.1" r="0.7" fill="#3567a8" opacity="0.40"/><circle cx="264.8" cy="355.4" r="0.7" fill="#3567a8" opacity="0.27"/><circle cx="228.4" cy="350.2" r="0.9" fill="#3567a8" opacity="0.44"/><circle cx="269.3" cy="360.0" r="1.3" fill="#3567a8" opacity="0.47"/><circle cx="265.3" cy="365.3" r="1.1" fill="#3567a8" opacity="0.40"/><circle cx="235.8" cy="355.2" r="1.2" fill="#3567a8" opacity="0.31"/><circle cx="282.9" cy="356.1" r="0.8" fill="#3567a8" opacity="0.25"/><circle cx="247.0" cy="344.6" r="1.0" fill="#3567a8" opacity="0.47"/><circle cx="279.0" cy="358.3" r="0.7" fill="#3567a8" opacity="0.28"/><circle cx="265.4" cy="356.4" r="1.0" fill="#3567a8" opacity="0.34"/><circle cx="241.8" cy="347.4" r="1.0" fill="#3567a8" opacity="0.47"/><circle cx="233.3" cy="358.9" r="1.1" fill="#3567a8" opacity="0.31"/><circle cx="226.9" cy="356.8" r="1.1" fill="#3567a8" opacity="0.47"/><circle cx="267.8" cy="352.1" r="0.8" fill="#3567a8" opacity="0.38"/><circle cx="240.3" cy="358.0" r="1.3" fill="#3567a8" opacity="0.30"/><circle cx="224.9" cy="342.6" r="0.9" fill="#3567a8" opacity="0.40"/><circle cx="234.3" cy="345.0" r="0.9" fill="#3567a8" opacity="0.41"/><circle cx="265.4" cy="361.9" r="0.5" fill="#3567a8" opacity="0.37"/><circle cx="274.3" cy="369.1" r="0.7" fill="#3567a8" opacity="0.46"/><circle cx="262.7" cy="368.1" r="0.6" fill="#3567a8" opacity="0.42"/><circle cx="274.7" cy="354.0" r="0.5" fill="#3567a8" opacity="0.30"/><circle cx="232.6" cy="341.9" r="0.5" fill="#3567a8" opacity="0.40"/><circle cx="229.5" cy="362.8" r="1.1" fill="#3567a8" opacity="0.45"/><circle cx="272.4" cy="361.4" r="1.2" fill="#3567a8" opacity="0.49"/><circle cx="261.4" cy="369.3" r="0.5" fill="#3567a8" opacity="0.28"/><circle cx="227.0" cy="345.5" r="0.7" fill="#3567a8" opacity="0.36"/><circle cx="264.9" cy="362.3" r="0.5" fill="#3567a8" opacity="0.35"/><circle cx="256.4" cy="350.8" r="0.5" fill="#3567a8" opacity="0.40"/><circle cx="246.0" cy="360.5" r="0.8" fill="#3567a8" opacity="0.49"/><circle cx="269.7" cy="361.6" r="0.7" fill="#3567a8" opacity="0.28"/><circle cx="252.5" cy="350.1" r="1.1" fill="#3567a8" opacity="0.48"/><circle cx="246.5" cy="348.1" r="0.8" fill="#3567a8" opacity="0.42"/><circle cx="271.5" cy="357.1" r="0.7" fill="#3567a8" opacity="0.33"/><circle cx="275.2" cy="355.3" r="0.4" fill="#3567a8" opacity="0.36"/><circle cx="237.6" cy="359.9" r="0.5" fill="#3567a8" opacity="0.32"/><circle cx="228.9" cy="354.0" r="1.3" fill="#3567a8" opacity="0.39"/><circle cx="246.8" cy="368.3" r="0.5" fill="#3567a8" opacity="0.34"/><circle cx="270.1" cy="350.3" r="0.4" fill="#3567a8" opacity="0.31"/><circle cx="251.2" cy="351.0" r="0.9" fill="#3567a8" opacity="0.26"/><circle cx="236.4" cy="369.6" r="0.8" fill="#3567a8" opacity="0.37"/><circle cx="228.2" cy="347.8" r="1.3" fill="#3567a8" opacity="0.42"/><circle cx="247.2" cy="363.4" r="0.8" fill="#3567a8" opacity="0.40"/><circle cx="278.5" cy="359.3" r="1.0" fill="#3567a8" opacity="0.26"/><circle cx="224.5" cy="363.2" r="0.8" fill="#3567a8" opacity="0.47"/><circle cx="273.8" cy="367.7" r="0.7" fill="#3567a8" opacity="0.50"/><circle cx="269.5" cy="367.0" r="0.5" fill="#3567a8" opacity="0.45"/><circle cx="249.0" cy="369.5" r="1.3" fill="#3567a8" opacity="0.30"/><circle cx="233.4" cy="353.4" r="0.5" fill="#3567a8" opacity="0.35"/><circle cx="278.2" cy="366.8" r="0.6" fill="#3567a8" opacity="0.25"/><circle cx="273.9" cy="369.2" r="0.9" fill="#3567a8" opacity="0.28"/><circle cx="237.5" cy="367.9" r="1.2" fill="#3567a8" opacity="0.26"/><circle cx="234.4" cy="352.5" r="0.6" fill="#3567a8" opacity="0.44"/><circle cx="245.9" cy="363.3" r="0.5" fill="#3567a8" opacity="0.38"/><circle cx="283.0" cy="361.0" r="0.5" fill="#3567a8" opacity="0.28"/><circle cx="262.6" cy="350.8" r="0.7" fill="#3567a8" opacity="0.37"/><circle cx="258.8" cy="369.3" r="0.6" fill="#3567a8" opacity="0.39"/><circle cx="239.2" cy="356.1" r="1.1" fill="#3567a8" opacity="0.28"/><circle cx="252.6" cy="361.2" r="0.4" fill="#3567a8" opacity="0.44"/><circle cx="248.8" cy="354.8" r="0.9" fill="#3567a8" opacity="0.45"/><circle cx="226.4" cy="354.7" r="0.4" fill="#3567a8" opacity="0.35"/><circle cx="244.3" cy="339.7" r="0.7" fill="#3567a8" opacity="0.36"/><circle cx="263.3" cy="368.0" r="0.7" fill="#3567a8" opacity="0.38"/><circle cx="266.9" cy="368.4" r="1.3" fill="#3567a8" opacity="0.50"/><circle cx="241.6" cy="344.2" r="1.2" fill="#3567a8" opacity="0.27"/><circle cx="250.6" cy="362.1" r="0.9" fill="#3567a8" opacity="0.35"/><circle cx="256.9" cy="365.1" r="0.5" fill="#3567a8" opacity="0.34"/><circle cx="253.4" cy="356.8" r="0.6" fill="#3567a8" opacity="0.36"/><circle cx="226.7" cy="341.8" r="0.7" fill="#3567a8" opacity="0.29"/><circle cx="240.0" cy="363.6" r="1.1" fill="#3567a8" opacity="0.32"/><circle cx="274.0" cy="358.6" r="0.7" fill="#3567a8" opacity="0.41"/><circle cx="238.1" cy="347.3" r="1.2" fill="#3567a8" opacity="0.36"/><circle cx="231.4" cy="340.6" r="1.1" fill="#3567a8" opacity="0.39"/><circle cx="223.6" cy="340.4" r="1.1" fill="#3567a8" opacity="0.37"/><circle cx="267.3" cy="358.2" r="1.0" fill="#3567a8" opacity="0.31"/><circle cx="226.9" cy="360.5" r="0.5" fill="#3567a8" opacity="0.27"/><circle cx="251.3" cy="359.4" r="1.2" fill="#3567a8" opacity="0.43"/><circle cx="227.3" cy="359.2" r="1.2" fill="#3567a8" opacity="0.28"/><circle cx="241.4" cy="339.0" r="1.1" fill="#3567a8" opacity="0.38"/><circle cx="278.5" cy="353.6" r="0.5" fill="#3567a8" opacity="0.30"/><circle cx="239.2" cy="368.7" r="0.6" fill="#3567a8" opacity="0.27"/><circle cx="244.7" cy="341.5" r="0.8" fill="#3567a8" opacity="0.41"/><circle cx="231.5" cy="354.4" r="1.0" fill="#3567a8" opacity="0.36"/><circle cx="258.3" cy="367.6" r="0.5" fill="#3567a8" opacity="0.32"/><circle cx="253.4" cy="355.8" r="1.2" fill="#3567a8" opacity="0.39"/><circle cx="263.7" cy="352.2" r="1.1" fill="#3567a8" opacity="0.46"/><circle cx="241.1" cy="342.4" r="0.6" fill="#3567a8" opacity="0.34"/><circle cx="261.7" cy="359.1" r="1.3" fill="#3567a8" opacity="0.28"/><circle cx="270.3" cy="349.6" r="0.5" fill="#3567a8" opacity="0.41"/><circle cx="274.9" cy="357.3" r="0.4" fill="#3567a8" opacity="0.49"/><circle cx="246.6" cy="359.0" r="1.1" fill="#3567a8" opacity="0.32"/><circle cx="248.1" cy="349.3" r="0.5" fill="#3567a8" opacity="0.27"/><circle cx="267.1" cy="351.9" r="1.2" fill="#3567a8" opacity="0.27"/><circle cx="241.5" cy="344.7" r="1.2" fill="#3567a8" opacity="0.45"/><circle cx="278.1" cy="354.9" r="0.5" fill="#3567a8" opacity="0.35"/><circle cx="236.9" cy="339.8" r="0.9" fill="#3567a8" opacity="0.32"/><circle cx="229.6" cy="355.1" r="1.2" fill="#3567a8" opacity="0.49"/></g>
<g filter="url(#b05)"><circle cx="248.6" cy="343.4" r="0.7" fill="#35c46a" opacity="0.57"/><circle cx="234.2" cy="362.8" r="0.7" fill="#35c46a" opacity="0.54"/><circle cx="233.0" cy="360.3" r="0.6" fill="#35c46a" opacity="0.74"/><circle cx="246.3" cy="333.7" r="0.9" fill="#35c46a" opacity="0.69"/><circle cx="220.6" cy="321.4" r="1.0" fill="#35c46a" opacity="0.66"/><circle cx="230.6" cy="360.3" r="0.7" fill="#35c46a" opacity="0.68"/><circle cx="225.4" cy="352.5" r="0.6" fill="#35c46a" opacity="0.66"/><circle cx="241.0" cy="346.2" r="0.5" fill="#35c46a" opacity="0.54"/><circle cx="238.9" cy="351.8" r="0.5" fill="#35c46a" opacity="0.90"/><circle cx="220.4" cy="326.5" r="0.5" fill="#35c46a" opacity="0.65"/><circle cx="236.4" cy="357.6" r="0.5" fill="#35c46a" opacity="0.76"/><circle cx="219.5" cy="345.1" r="0.6" fill="#35c46a" opacity="0.61"/><circle cx="217.7" cy="351.4" r="0.5" fill="#35c46a" opacity="0.79"/><circle cx="227.1" cy="345.6" r="0.8" fill="#35c46a" opacity="0.67"/><circle cx="244.8" cy="360.4" r="0.6" fill="#35c46a" opacity="0.60"/><circle cx="244.9" cy="325.0" r="0.7" fill="#35c46a" opacity="0.64"/><circle cx="248.2" cy="324.8" r="0.8" fill="#35c46a" opacity="0.79"/><circle cx="240.0" cy="319.0" r="1.0" fill="#35c46a" opacity="0.59"/></g>
<ellipse cx="33" cy="349" rx="1.6" ry="2.2" fill="#2b78cc" opacity="0.7" filter="url(#b05)"/>
<ellipse cx="45" cy="330" rx="1.2000000000000002" ry="1.6500000000000001" fill="#2b78cc" opacity="0.7" filter="url(#b05)"/>
<ellipse cx="76" cy="361" rx="1.2800000000000002" ry="1.7600000000000002" fill="#2b78cc" opacity="0.7" filter="url(#b05)"/>
<ellipse cx="128" cy="330" rx="1.7600000000000002" ry="2.4200000000000004" fill="#2b78cc" opacity="0.7" filter="url(#b05)"/>
<ellipse cx="133" cy="347" rx="1.4400000000000002" ry="1.9800000000000002" fill="#2b78cc" opacity="0.7" filter="url(#b05)"/>
<ellipse cx="118" cy="358" rx="1.2800000000000002" ry="1.7600000000000002" fill="#2b78cc" opacity="0.7" filter="url(#b05)"/>
<ellipse cx="190" cy="366" rx="1.4400000000000002" ry="1.9800000000000002" fill="#2b78cc" opacity="0.7" filter="url(#b05)"/>
<clipPath id="ci2"><rect x="158.25" y="302.5" width="37.25" height="46.3"/></clipPath>
<g clip-path="url(#ci2)">
<rect x="158.25" y="302" width="38" height="47" fill="#1b3a26"/>
<path d="M161.25,302 L170.25,316 L178.25,330 L188.25,349" stroke="#25a04c" stroke-width="8.5" fill="none" opacity="0.85" filter="url(#b2)"/>
<ellipse cx="164.25" cy="341" rx="8" ry="10" fill="#20150f" opacity="0.75" filter="url(#b2)"/>
<ellipse cx="176.75" cy="320.5" rx="2" ry="4" fill="#4ad878" opacity="0.9" filter="url(#b1)" transform="rotate(-30 176.75 320.5)"/>
<ellipse cx="178.75" cy="333" rx="1.8" ry="4.5" fill="#3cc868" opacity="0.85" filter="url(#b1)" transform="rotate(-25 178.75 333)"/>
<ellipse cx="168.25" cy="311" rx="2.6" ry="7" fill="#2a60b6" opacity="0.8" filter="url(#b1)" transform="rotate(-42 168.25 311)"/>
<ellipse cx="185.75" cy="333" rx="3.4" ry="9" fill="#2a60b6" opacity="0.8" filter="url(#b1)" transform="rotate(-22 185.75 333)"/>
<ellipse cx="188.75" cy="309" rx="4.5" ry="5" fill="#2a60b6" opacity="0.8" filter="url(#b1)" transform="rotate(0 188.75 309)"/>
</g>
<path d="M158.25,302.5 V348.8 H195.5" fill="none" stroke="#d8cfc2" stroke-width="1.3"/>
<clipPath id="ci3"><rect x="248.25" y="302.5" width="37.25" height="46.3"/></clipPath>
<g clip-path="url(#ci3)">
<rect x="248.25" y="302" width="38" height="47" fill="#16522c"/>
<ellipse cx="260.25" cy="314" rx="9" ry="7" fill="#2fc060" opacity="0.9" filter="url(#b2)"/>
<ellipse cx="268.25" cy="328" rx="10" ry="8" fill="#2fc060" opacity="0.9" filter="url(#b2)"/>
<ellipse cx="257.25" cy="338" rx="8" ry="8" fill="#2fc060" opacity="0.9" filter="url(#b2)"/>
<ellipse cx="272.25" cy="308" rx="8" ry="5" fill="#2fc060" opacity="0.9" filter="url(#b2)"/>
<ellipse cx="279.25" cy="312" rx="4" ry="6" fill="#2262b8" opacity="0.85" filter="url(#b1)"/>
<ellipse cx="282.25" cy="326" rx="4" ry="6" fill="#2262b8" opacity="0.85" filter="url(#b1)"/>
<ellipse cx="276.25" cy="338" rx="5" ry="5" fill="#2262b8" opacity="0.85" filter="url(#b1)"/>
<ellipse cx="264.25" cy="306" rx="3" ry="3" fill="#2262b8" opacity="0.85" filter="url(#b1)"/>
</g>
<path d="M248.25,302.5 V348.8 H285.5" fill="none" stroke="#d8cfc2" stroke-width="1.3"/>
<rect x="136.75" y="335" width="15" height="16.2" fill="none" stroke="#e6dccf" stroke-width="1.2"/>
<rect x="204.5" y="318.2" width="15.5" height="16" fill="none" stroke="#e6dccf" stroke-width="1.2"/>
<path d="M140.5,348.0 L144.0,344.1" stroke="#fbf6ee" stroke-width="1.7"/><polygon points="146.5,341.3 145.7,345.7 142.3,342.6" fill="#fbf6ee"/>
<path d="M208.7,331.3 L211.1,328.9" stroke="#fbf6ee" stroke-width="1.7"/><polygon points="213.8,326.2 212.7,330.5 209.5,327.3" fill="#fbf6ee"/>
<path d="M225.0,323.8 L227.3,321.5" stroke="#fbf6ee" stroke-width="1.7"/><polygon points="230.0,318.8 228.9,323.1 225.7,319.9" fill="#fbf6ee"/>
<path d="M238.7,330.0 L241.2,327.3" stroke="#fbf6ee" stroke-width="1.7"/><polygon points="243.8,324.5 242.9,328.8 239.5,325.7" fill="#fbf6ee"/>
<path d="M225.0,336.3 L227.4,333.6" stroke="#fbf6ee" stroke-width="1.7"/><polygon points="230.0,330.8 229.1,335.1 225.8,332.1" fill="#fbf6ee"/>
<path d="M222.5,343.8 L225.2,341.4" stroke="#fbf6ee" stroke-width="1.7"/><polygon points="228.0,338.8 226.7,343.0 223.7,339.7" fill="#fbf6ee"/>
<path d="M225.0,352.5 L227.3,350.2" stroke="#fbf6ee" stroke-width="1.7"/><polygon points="230.0,347.5 228.9,351.8 225.7,348.6" fill="#fbf6ee"/>
<path d="M235.0,358.8 L237.3,356.5" stroke="#fbf6ee" stroke-width="1.7"/><polygon points="240.0,353.8 238.9,358.1 235.7,354.9" fill="#fbf6ee"/>
<line x1="19.5" y1="369.8" x2="32.5" y2="369.8" stroke="#cfc8c0" stroke-width="0.9"/>
<line x1="110" y1="369.8" x2="123" y2="369.8" stroke="#cfc8c0" stroke-width="0.9"/>
<line x1="199" y1="369.8" x2="212" y2="369.8" stroke="#cfc8c0" stroke-width="0.9"/>
</g>
<g id="panelE">
<text x="300.2" y="226.2" font-size="15.3" font-weight="bold" fill="#111" textLength="11.3" lengthAdjust="spacingAndGlyphs" stroke="#111" stroke-width="0.3">E</text>
<rect x="321.9" y="224.65" width="5.7" height="5.7" fill="#1a6dbd" stroke="#1a6dbd" stroke-width="0.7"/>
<text x="333.7" y="230.6" font-size="9.8" fill="#222" textLength="103.5" lengthAdjust="spacing" stroke="#222" stroke-width="0.1">HL + tPA mob. PBMCs</text>
<rect x="321.9" y="237.45" width="5.7" height="5.7" fill="#a3a3a3" stroke="#666" stroke-width="0.7"/>
<text x="333.7" y="243.5" font-size="9.8" fill="#222" textLength="134" lengthAdjust="spacing" stroke="#222" stroke-width="0.1">HL + BSA-PBS mob. PBMCs</text>
<rect x="321.9" y="250.35" width="5.7" height="5.7" fill="#e0eefb" stroke="#3a8ad6" stroke-width="0.8"/><path d="M323.80,250.35V256.05M321.90,252.25H327.60M325.70,250.35V256.05M321.90,254.15H327.60" stroke="#3a8ad6" stroke-width="0.7" fill="none"/>
<text x="333.7" y="256.4" font-size="9.8" fill="#222" stroke="#222" stroke-width="0.1" textLength="151" lengthAdjust="spacing">CD11b<tspan font-size="7" dy="-3.4">+</tspan><tspan dy="3.4"> cells in tPA mob. PBMCs</tspan></text>
<rect x="321.9" y="263.35" width="5.7" height="5.7" fill="#f4f4f4" stroke="#a8a8a8" stroke-width="0.8"/><path d="M323.80,263.35V269.05M321.90,265.25H327.60M325.70,263.35V269.05M321.90,267.15H327.60" stroke="#a8a8a8" stroke-width="0.7" fill="none"/>
<text x="333.7" y="269.4" font-size="9.8" fill="#222" stroke="#222" stroke-width="0.1" textLength="184" lengthAdjust="spacing">CD11b<tspan font-size="7" dy="-3.4">+</tspan><tspan dy="3.4"> cells in BSA-PBS mob. PBMCs</tspan></text>
<path d="M352.7,293.0 V411.3 H491.40000000000003" fill="none" stroke="#111" stroke-width="1.5"/>
<line x1="352.7" y1="384.98" x2="355.09999999999997" y2="384.98" stroke="#111" stroke-width="1.5"/>
<line x1="352.7" y1="358.66" x2="355.09999999999997" y2="358.66" stroke="#111" stroke-width="1.5"/>
<line x1="352.7" y1="332.34000000000003" x2="355.09999999999997" y2="332.34000000000003" stroke="#111" stroke-width="1.5"/>
<line x1="352.7" y1="306.02" x2="355.09999999999997" y2="306.02" stroke="#111" stroke-width="1.5"/>
<line x1="421.5" y1="411.3" x2="421.5" y2="408.90000000000003" stroke="#111" stroke-width="1.5"/>
<line x1="490.8" y1="411.3" x2="490.8" y2="408.90000000000003" stroke="#111" stroke-width="1.5"/>
<text x="350.2" y="414.5" font-size="9" text-anchor="end" fill="#222" textLength="4.3" lengthAdjust="spacingAndGlyphs" stroke="#222" stroke-width="0.1">0</text>
<text x="350.2" y="388.18" font-size="9" text-anchor="end" fill="#222" textLength="12.91" lengthAdjust="spacingAndGlyphs" stroke="#222" stroke-width="0.1">100</text>
<text x="350.2" y="361.86" font-size="9" text-anchor="end" fill="#222" textLength="12.91" lengthAdjust="spacingAndGlyphs" stroke="#222" stroke-width="0.1">200</text>
<text x="350.2" y="335.54" font-size="9" text-anchor="end" fill="#222" textLength="12.91" lengthAdjust="spacingAndGlyphs" stroke="#222" stroke-width="0.1">300</text>
<text x="350.2" y="309.21999999999997" font-size="9" text-anchor="end" fill="#222" textLength="12.91" lengthAdjust="spacingAndGlyphs" stroke="#222" stroke-width="0.1">400</text>
<line x1="379.5" y1="373.4" x2="379.5" y2="370.2" stroke="#231815" stroke-width="0.9"/>
<line x1="376.7" y1="370.2" x2="382.3" y2="370.2" stroke="#231815" stroke-width="0.9"/>
<rect x="369.2" y="373.4" width="20.60" height="37.90" fill="#a3a3a3" stroke="#231815" stroke-width="0.9"/>
<line x1="400.65" y1="374.8" x2="400.65" y2="373.2" stroke="#555" stroke-width="0.9"/>
<line x1="397.84999999999997" y1="373.2" x2="403.45" y2="373.2" stroke="#555" stroke-width="0.9"/>
<rect x="389.8" y="374.8" width="21.70" height="36.50" fill="url(#hGrey)" stroke="#777" stroke-width="0.9"/>
<line x1="443.6" y1="303.6" x2="443.6" y2="293.20000000000005" stroke="#231815" stroke-width="0.9"/>
<line x1="440.8" y1="293.20000000000005" x2="446.40000000000003" y2="293.20000000000005" stroke="#231815" stroke-width="0.9"/>
<rect x="433" y="303.6" width="21.20" height="107.70" fill="#1a6dbd" stroke="#1a4f8a" stroke-width="0.9"/>
<line x1="464.79999999999995" y1="306.9" x2="464.79999999999995" y2="304.0" stroke="#2f6fb0" stroke-width="0.9"/>
<line x1="461.99999999999994" y1="304.0" x2="467.59999999999997" y2="304.0" stroke="#2f6fb0" stroke-width="0.9"/>
<rect x="454.2" y="306.9" width="21.20" height="104.40" fill="url(#hBlue)" stroke="#2f83cf" stroke-width="0.9"/>
<path d="M379.4,327.5 V284.4 H443.8 V290.6" fill="none" stroke="#222" stroke-width="0.9"/>
<text x="411" y="284.3" font-size="10" text-anchor="middle" font-weight="bold" fill="#666">**</text>
<text transform="translate(333.1,356) rotate(-90)" font-size="10" text-anchor="middle" fill="#222" stroke="#222" stroke-width="0.1" textLength="89" lengthAdjust="spacing">GFP<tspan font-size="6.5" dy="-3.2">+</tspan><tspan dy="3.2"> cells ( / mm</tspan><tspan font-size="5.5" dy="-3">2</tspan><tspan dy="3"> )</tspan></text>
</g>
<g id="panelF">
<text x="0.3" y="445.6" font-size="15.3" font-weight="bold" fill="#111" textLength="10.4" lengthAdjust="spacingAndGlyphs" stroke="#111" stroke-width="0.3">F</text>
<text x="37.5" y="467.5" font-size="8.3" text-anchor="middle" fill="#222" textLength="47.5" lengthAdjust="spacingAndGlyphs" stroke="#222" stroke-width="0.1">HL + BSA-PBS</text>
<text x="38" y="477.4" font-size="8.3" text-anchor="middle" fill="#222" textLength="42" lengthAdjust="spacingAndGlyphs" stroke="#222" stroke-width="0.1">mob. PBMCs</text>
<text x="87.5" y="467.5" font-size="9" text-anchor="middle" fill="#222" textLength="32.5" lengthAdjust="spacingAndGlyphs" stroke="#222" stroke-width="0.1">HL + tPA</text>
<text x="87" y="478.3" font-size="9" text-anchor="middle" fill="#222" textLength="46.5" lengthAdjust="spacingAndGlyphs" stroke="#222" stroke-width="0.1">mob. PBMCs</text>
<text x="136.3" y="471.5" font-size="8.3" text-anchor="middle" fill="#222" textLength="46.5" lengthAdjust="spacingAndGlyphs" stroke="#222" stroke-width="0.1">Isotype control</text>
<text x="10.2" y="505.9" font-size="9.2" text-anchor="middle" fill="#222" textLength="18" lengthAdjust="spacing" transform="rotate(-90 10.2 505.9)" stroke="#222" stroke-width="0.1">GFP</text>
<text x="10.2" y="557.5" font-size="9.2" text-anchor="middle" fill="#222" textLength="27.5" lengthAdjust="spacing" transform="rotate(-90 10.2 557.5)" stroke="#222" stroke-width="0.1">CD11b</text>
<text x="10.2" y="609" font-size="9.2" text-anchor="middle" fill="#222" textLength="25" lengthAdjust="spacing" transform="rotate(-90 10.2 609)" stroke="#222" stroke-width="0.1">Merge</text>
<clipPath id="cf00"><rect x="13.1" y="481.25" width="48.1" height="50.0"/></clipPath>
<g clip-path="url(#cf00)"><rect x="13.1" y="481.25" width="48.1" height="50.0" fill="#251813"/>
<polygon points="40.3,499.2 43.6,507.0 36.8,508.0" fill="#1f9a78" opacity="0.95" filter="url(#b05)"/>
<ellipse cx="46.5" cy="509.5" rx="2.3" ry="1.3" fill="#2672d8" opacity="0.85" filter="url(#b08)" transform="rotate(25 46.5 509.5)"/>
<path d="M32.6,516.3 L35.3,512.8" stroke="#fbf6ee" stroke-width="2.0"/><polygon points="38.1,509.2 37.5,514.5 33.1,511.1" fill="#fbf6ee"/>
</g>
<line x1="14.6" y1="529.15" x2="36.1" y2="529.15" stroke="#d8d0c8" stroke-width="1.0"/>
<clipPath id="cf01"><rect x="63.2" y="481.25" width="47.599999999999994" height="50.0"/></clipPath>
<g clip-path="url(#cf01)"><rect x="63.2" y="481.25" width="47.599999999999994" height="50.0" fill="#251813"/>
<ellipse cx="67.0" cy="488.0" rx="2.8" ry="6.2" fill="#1e58b0" opacity="0.85" filter="url(#b08)" transform="rotate(8 67.0 488.0)"/>
<ellipse cx="75.8" cy="496.0" rx="1.5" ry="4.2" fill="#36c45e" opacity="0.95" filter="url(#b08)" transform="rotate(5 75.8 496.0)"/>
<ellipse cx="84.2" cy="493.0" rx="2.9" ry="4.6" fill="#36c45e" opacity="0.95" filter="url(#b08)" transform="rotate(8 84.2 493.0)"/>
<ellipse cx="89.4" cy="505.5" rx="2.6" ry="4.6" fill="#36c45e" opacity="0.95" filter="url(#b08)" transform="rotate(-15 89.4 505.5)"/>
<ellipse cx="91.0" cy="515.0" rx="2.8" ry="4.4" fill="#36c45e" opacity="0.95" filter="url(#b08)" transform="rotate(-15 91.0 515.0)"/>
<ellipse cx="96.2" cy="525.0" rx="3" ry="2.8" fill="#36c45e" opacity="0.95" filter="url(#b08)" transform="rotate(0 96.2 525.0)"/>
<ellipse cx="75.9" cy="509.8" rx="1.2" ry="1.2" fill="#36c45e" opacity="0.95" filter="url(#b08)" transform="rotate(0 75.9 509.8)"/>
<ellipse cx="78.0" cy="503.3" rx="3.1" ry="5.3" fill="#2672d8" opacity="0.95" filter="url(#b08)" transform="rotate(-10 78.0 503.3)"/>
<ellipse cx="86.8" cy="500.6" rx="2.5" ry="3.2" fill="#2672d8" opacity="0.95" filter="url(#b08)" transform="rotate(0 86.8 500.6)"/>
<ellipse cx="93.2" cy="519.5" rx="3.5" ry="5" fill="#2672d8" opacity="0.95" filter="url(#b08)" transform="rotate(-20 93.2 519.5)"/>
<ellipse cx="89.5" cy="525.0" rx="2.2" ry="2.4" fill="#2672d8" opacity="0.95" filter="url(#b08)" transform="rotate(0 89.5 525.0)"/>
<ellipse cx="106.5" cy="505.0" rx="0.7" ry="2.2" fill="#2672d8" opacity="0.45" filter="url(#b08)" transform="rotate(0 106.5 505.0)"/>
<path d="M69.4,506.2 L71.3,503.2" stroke="#fbf6ee" stroke-width="2.0"/><polygon points="73.8,499.3 73.7,504.7 69.0,501.7" fill="#fbf6ee"/>
<path d="M82.6,515.7 L84.5,512.7" stroke="#fbf6ee" stroke-width="2.0"/><polygon points="87.0,508.8 86.9,514.2 82.2,511.2" fill="#fbf6ee"/>
<path d="M83.2,524.2 L85.2,520.8" stroke="#fbf6ee" stroke-width="2.0"/><polygon points="87.5,516.8 87.6,522.2 82.8,519.4" fill="#fbf6ee"/>
</g>
<line x1="64.7" y1="529.15" x2="86.2" y2="529.15" stroke="#d8d0c8" stroke-width="1.0"/>
<clipPath id="cf02"><rect x="112.8" y="481.25" width="47.8" height="50.0"/></clipPath>
<g clip-path="url(#cf02)"><rect x="112.8" y="481.25" width="47.8" height="50.0" fill="#251813"/>
<ellipse cx="134.0" cy="504.0" rx="8" ry="2.0" fill="#62c83a" opacity="0.95" filter="url(#b08)" transform="rotate(6 134.0 504.0)"/>
<ellipse cx="142.0" cy="506.0" rx="5.5" ry="3.2" fill="#62c83a" opacity="0.95" filter="url(#b08)" transform="rotate(15 142.0 506.0)"/>
<ellipse cx="138.0" cy="505.6" rx="3.2" ry="2.5" fill="#2672d8" opacity="0.95" filter="url(#b08)" transform="rotate(5 138.0 505.6)"/>
<ellipse cx="145.8" cy="511.6" rx="2.8" ry="2.5" fill="#2672d8" opacity="0.9" filter="url(#b08)" transform="rotate(0 145.8 511.6)"/>
</g>
<line x1="114.3" y1="529.15" x2="135.8" y2="529.15" stroke="#d8d0c8" stroke-width="1.0"/>
<clipPath id="cf10"><rect x="13.1" y="533" width="48.1" height="49.5"/></clipPath>
<g clip-path="url(#cf10)"><rect x="13.1" y="533" width="48.1" height="49.5" fill="#251813"/>
<polygon points="41,549.75 45.4,557.55 36.8,559.05" fill="#c84862" opacity="0.95" filter="url(#b05)"/>
<ellipse cx="46.5" cy="561.2" rx="2.3" ry="1.3" fill="#2672d8" opacity="0.85" filter="url(#b08)" transform="rotate(25 46.5 561.2)"/>
<path d="M32.6,568.0 L35.3,564.6" stroke="#fbf6ee" stroke-width="2.0"/><polygon points="38.1,561.0 37.5,566.3 33.1,562.9" fill="#fbf6ee"/>
</g>
<line x1="14.6" y1="580.9" x2="36.1" y2="580.9" stroke="#d8d0c8" stroke-width="1.0"/>
<clipPath id="cf11"><rect x="63.2" y="533" width="47.599999999999994" height="49.5"/></clipPath>
<g clip-path="url(#cf11)"><rect x="63.2" y="533" width="47.599999999999994" height="49.5" fill="#251813"/>
<ellipse cx="67.0" cy="539.8" rx="2.8" ry="6.2" fill="#1e58b0" opacity="0.85" filter="url(#b08)" transform="rotate(8 67.0 539.8)"/>
<ellipse cx="75.8" cy="547.8" rx="1.5" ry="4.2" fill="#e03038" opacity="0.95" filter="url(#b08)" transform="rotate(5 75.8 547.8)"/>
<ellipse cx="84.2" cy="544.8" rx="2.9" ry="4.6" fill="#e03038" opacity="0.95" filter="url(#b08)" transform="rotate(8 84.2 544.8)"/>
<ellipse cx="89.4" cy="557.2" rx="2.6" ry="4.6" fill="#e03038" opacity="0.95" filter="url(#b08)" transform="rotate(-15 89.4 557.2)"/>
<ellipse cx="91.0" cy="566.8" rx="2.8" ry="4.4" fill="#e03038" opacity="0.95" filter="url(#b08)" transform="rotate(-15 91.0 566.8)"/>
<ellipse cx="96.2" cy="576.8" rx="3" ry="2.8" fill="#e03038" opacity="0.95" filter="url(#b08)" transform="rotate(0 96.2 576.8)"/>
<ellipse cx="75.9" cy="561.5" rx="1.2" ry="1.2" fill="#e03038" opacity="0.95" filter="url(#b08)" transform="rotate(0 75.9 561.5)"/>
<ellipse cx="78.0" cy="555.0" rx="3.1" ry="5.3" fill="#2672d8" opacity="0.95" filter="url(#b08)" transform="rotate(-10 78.0 555.0)"/>
<ellipse cx="86.8" cy="552.4" rx="2.5" ry="3.2" fill="#2672d8" opacity="0.95" filter="url(#b08)" transform="rotate(0 86.8 552.4)"/>
<ellipse cx="93.2" cy="571.2" rx="3.5" ry="5" fill="#2672d8" opacity="0.95" filter="url(#b08)" transform="rotate(-20 93.2 571.2)"/>
<ellipse cx="89.5" cy="576.8" rx="2.2" ry="2.4" fill="#2672d8" opacity="0.95" filter="url(#b08)" transform="rotate(0 89.5 576.8)"/>
<ellipse cx="106.5" cy="556.8" rx="0.7" ry="2.2" fill="#2672d8" opacity="0.45" filter="url(#b08)" transform="rotate(0 106.5 556.8)"/>
<path d="M69.4,558.0 L71.3,554.9" stroke="#fbf6ee" stroke-width="2.0"/><polygon points="73.8,551.0 73.7,556.4 69.0,553.4" fill="#fbf6ee"/>
<path d="M82.6,567.5 L84.5,564.4" stroke="#fbf6ee" stroke-width="2.0"/><polygon points="87.0,560.5 86.9,565.9 82.2,562.9" fill="#fbf6ee"/>
<path d="M83.2,576.0 L85.2,572.5" stroke="#fbf6ee" stroke-width="2.0"/><polygon points="87.5,568.5 87.6,573.9 82.8,571.1" fill="#fbf6ee"/>
</g>
<line x1="64.7" y1="580.9" x2="86.2" y2="580.9" stroke="#d8d0c8" stroke-width="1.0"/>
<clipPath id="cf12"><rect x="112.8" y="533" width="47.8" height="49.5"/></clipPath>
<g clip-path="url(#cf12)"><rect x="112.8" y="533" width="47.8" height="49.5" fill="#251813"/>
<ellipse cx="138.0" cy="557.4" rx="3.2" ry="2.5" fill="#2672d8" opacity="0.95" filter="url(#b08)" transform="rotate(5 138.0 557.4)"/>
<ellipse cx="145.8" cy="563.4" rx="2.8" ry="2.5" fill="#2672d8" opacity="0.9" filter="url(#b08)" transform="rotate(0 145.8 563.4)"/>
<ellipse cx="149.0" cy="549.8" rx="0.8" ry="0.8" fill="#2672d8" opacity="0.4" filter="url(#b08)" transform="rotate(0 149.0 549.8)"/>
</g>
<line x1="114.3" y1="580.9" x2="135.8" y2="580.9" stroke="#d8d0c8" stroke-width="1.0"/>
<clipPath id="cf20"><rect x="13.1" y="584.25" width="48.1" height="50.0"/></clipPath>
<g clip-path="url(#cf20)"><rect x="13.1" y="584.25" width="48.1" height="50.0" fill="#251813"/>
<ellipse cx="40.0" cy="607.0" rx="1.7" ry="3.6" fill="#1f9a88" opacity="0.95" filter="url(#b08)" transform="rotate(8 40.0 607.0)"/>
<ellipse cx="43.0" cy="609.5" rx="1.6" ry="1.0" fill="#d05040" opacity="0.85" filter="url(#b08)" transform="rotate(30 43.0 609.5)"/>
<ellipse cx="41.0" cy="595.0" rx="1.0" ry="2.2" fill="#2672d8" opacity="0.6" filter="url(#b08)" transform="rotate(0 41.0 595.0)"/>
<ellipse cx="46.5" cy="612.5" rx="2.3" ry="1.3" fill="#2672d8" opacity="0.85" filter="url(#b08)" transform="rotate(25 46.5 612.5)"/>
<path d="M32.6,619.3 L35.3,615.8" stroke="#fbf6ee" stroke-width="2.0"/><polygon points="38.1,612.2 37.5,617.5 33.1,614.1" fill="#fbf6ee"/>
</g>
<line x1="14.6" y1="632.15" x2="36.1" y2="632.15" stroke="#d8d0c8" stroke-width="1.0"/>
<clipPath id="cf21"><rect x="63.2" y="584.25" width="47.599999999999994" height="50.0"/></clipPath>
<g clip-path="url(#cf21)"><rect x="63.2" y="584.25" width="47.599999999999994" height="50.0" fill="#251813"/>
<ellipse cx="67.0" cy="591.0" rx="2.8" ry="6.2" fill="#1e58b0" opacity="0.85" filter="url(#b08)" transform="rotate(8 67.0 591.0)"/>
<ellipse cx="75.8" cy="599.0" rx="1.5" ry="4.2" fill="#f2e21c" opacity="0.95" filter="url(#b08)" transform="rotate(5 75.8 599.0)"/>
<ellipse cx="84.2" cy="596.0" rx="2.9" ry="4.6" fill="#f2e21c" opacity="0.95" filter="url(#b08)" transform="rotate(8 84.2 596.0)"/>
<ellipse cx="89.4" cy="608.5" rx="2.6" ry="4.6" fill="#f2e21c" opacity="0.95" filter="url(#b08)" transform="rotate(-15 89.4 608.5)"/>
<ellipse cx="91.0" cy="618.0" rx="2.8" ry="4.4" fill="#f2e21c" opacity="0.95" filter="url(#b08)" transform="rotate(-15 91.0 618.0)"/>
<ellipse cx="96.2" cy="628.0" rx="3" ry="2.8" fill="#f2e21c" opacity="0.95" filter="url(#b08)" transform="rotate(0 96.2 628.0)"/>
<ellipse cx="75.9" cy="612.8" rx="1.2" ry="1.2" fill="#f2e21c" opacity="0.95" filter="url(#b08)" transform="rotate(0 75.9 612.8)"/>
<ellipse cx="78.0" cy="606.3" rx="3.1" ry="5.3" fill="#2672d8" opacity="0.95" filter="url(#b08)" transform="rotate(-10 78.0 606.3)"/>
<ellipse cx="86.8" cy="603.6" rx="2.5" ry="3.2" fill="#2672d8" opacity="0.95" filter="url(#b08)" transform="rotate(0 86.8 603.6)"/>
<ellipse cx="93.2" cy="622.5" rx="3.5" ry="5" fill="#2672d8" opacity="0.95" filter="url(#b08)" transform="rotate(-20 93.2 622.5)"/>
<ellipse cx="89.5" cy="628.0" rx="2.2" ry="2.4" fill="#2672d8" opacity="0.95" filter="url(#b08)" transform="rotate(0 89.5 628.0)"/>
<ellipse cx="77.0" cy="616.0" rx="1.6" ry="1.6" fill="#36c45e" opacity="0.8" filter="url(#b08)" transform="rotate(0 77.0 616.0)"/>
<ellipse cx="83.0" cy="586.5" rx="1.2" ry="1.0" fill="#e03038" opacity="0.8" filter="url(#b08)" transform="rotate(0 83.0 586.5)"/>
<ellipse cx="106.5" cy="608.0" rx="0.7" ry="2.2" fill="#2672d8" opacity="0.45" filter="url(#b08)" transform="rotate(0 106.5 608.0)"/>
<path d="M69.4,609.2 L71.3,606.2" stroke="#fbf6ee" stroke-width="2.0"/><polygon points="73.8,602.3 73.7,607.7 69.0,604.7" fill="#fbf6ee"/>
<path d="M82.6,618.7 L84.5,615.7" stroke="#fbf6ee" stroke-width="2.0"/><polygon points="87.0,611.8 86.9,617.2 82.2,614.2" fill="#fbf6ee"/>
<path d="M83.2,627.2 L85.2,623.8" stroke="#fbf6ee" stroke-width="2.0"/><polygon points="87.5,619.8 87.6,625.2 82.8,622.4" fill="#fbf6ee"/>
</g>
<line x1="64.7" y1="632.15" x2="86.2" y2="632.15" stroke="#d8d0c8" stroke-width="1.0"/>
<clipPath id="cf22"><rect x="112.8" y="584.25" width="47.8" height="50.0"/></clipPath>
<g clip-path="url(#cf22)"><rect x="112.8" y="584.25" width="47.8" height="50.0" fill="#251813"/>
<ellipse cx="134.0" cy="607.0" rx="8" ry="2.0" fill="#62c83a" opacity="0.95" filter="url(#b08)" transform="rotate(6 134.0 607.0)"/>
<ellipse cx="142.0" cy="609.0" rx="5.5" ry="3.2" fill="#62c83a" opacity="0.95" filter="url(#b08)" transform="rotate(15 142.0 609.0)"/>
<ellipse cx="138.0" cy="608.6" rx="3.2" ry="2.5" fill="#2672d8" opacity="0.95" filter="url(#b08)" transform="rotate(5 138.0 608.6)"/>
<ellipse cx="145.8" cy="614.6" rx="2.8" ry="2.5" fill="#2672d8" opacity="0.9" filter="url(#b08)" transform="rotate(0 145.8 614.6)"/>
</g>
<line x1="114.3" y1="632.15" x2="135.8" y2="632.15" stroke="#d8d0c8" stroke-width="1.0"/>
</g>
<g id="panelG">
<text x="162.6" y="445.5" font-size="15.3" font-weight="bold" fill="#111" textLength="13.2" lengthAdjust="spacingAndGlyphs" stroke="#111" stroke-width="0.3">G</text>
<line x1="176.4" y1="457.8" x2="195.6" y2="457.8" stroke="#f6a00e" stroke-width="1.6"/>
<polygon points="186.0,454.2 182.3,461.4 189.7,461.4" fill="#f6a00e" stroke="#f6a00e" stroke-width="0.8" stroke-linejoin="miter"/>
<line x1="176.4" y1="470.7" x2="195.6" y2="470.7" stroke="#8e2a96" stroke-width="1.6"/>
<circle cx="186.0" cy="470.7" r="2.9" fill="#8e2a96" stroke="#8e2a96" stroke-width="0.8"/>
<line x1="176.4" y1="483.6" x2="181" y2="483.6" stroke="#f6a00e" stroke-width="1.6"/>
<line x1="191" y1="483.6" x2="195.6" y2="483.6" stroke="#f6a00e" stroke-width="1.6"/>
<polygon points="186.0,480.2 182.5,487.0 189.5,487.0" fill="#fff" stroke="#f6a00e" stroke-width="0.9" stroke-linejoin="miter"/>
<line x1="176.4" y1="496.5" x2="181" y2="496.5" stroke="#8e2a96" stroke-width="1.6"/>
<line x1="191" y1="496.5" x2="195.6" y2="496.5" stroke="#8e2a96" stroke-width="1.6"/>
<circle cx="186.0" cy="496.5" r="3.1" fill="#fff" stroke="#8e2a96" stroke-width="1.0"/>
<text x="202" y="461.4" font-size="9.8" fill="#222" textLength="102.5" lengthAdjust="spacing" stroke="#222" stroke-width="0.1">HL + tPA mob. CD11b</text>
<text x="305.1" y="457.9" font-size="7" fill="#222" stroke="#222" stroke-width="0.1">+</text>
<text x="202" y="474.4" font-size="9.8" fill="#222" textLength="131.5" lengthAdjust="spacing" stroke="#222" stroke-width="0.1">HL + BSA-PBS mob. CD11b</text>
<text x="334.1" y="470.9" font-size="7" fill="#222" stroke="#222" stroke-width="0.1">+</text>
<text x="202" y="487.2" font-size="9.8" fill="#222" textLength="102.5" lengthAdjust="spacing" stroke="#222" stroke-width="0.1">HL + tPA mob. CD11b</text>
<text x="305.1" y="483.7" font-size="7" fill="#222" stroke="#222" stroke-width="0.1">−</text>
<text x="202" y="500" font-size="9.8" fill="#222" textLength="131.5" lengthAdjust="spacing" stroke="#222" stroke-width="0.1">HL + BSA-PBS mob. CD11b</text>
<text x="334.1" y="496.5" font-size="7" fill="#222" stroke="#222" stroke-width="0.1">−</text>
<path d="M213.0,525.1999999999999 V638.2 H326.6" fill="none" stroke="#111" stroke-width="1.5"/>
<line x1="213.0" y1="610.1" x2="215.4" y2="610.1" stroke="#111" stroke-width="1.5"/>
<line x1="213.0" y1="582.0" x2="215.4" y2="582.0" stroke="#111" stroke-width="1.5"/>
<line x1="213.0" y1="553.9" x2="215.4" y2="553.9" stroke="#111" stroke-width="1.5"/>
<line x1="213.0" y1="525.8" x2="215.4" y2="525.8" stroke="#111" stroke-width="1.5"/>
<line x1="232.75" y1="638.2" x2="232.75" y2="635.8000000000001" stroke="#111" stroke-width="1.5"/>
<line x1="251.39999999999998" y1="638.2" x2="251.39999999999998" y2="635.8000000000001" stroke="#111" stroke-width="1.5"/>
<line x1="270.05" y1="638.2" x2="270.05" y2="635.8000000000001" stroke="#111" stroke-width="1.5"/>
<line x1="288.7" y1="638.2" x2="288.7" y2="635.8000000000001" stroke="#111" stroke-width="1.5"/>
<line x1="307.35" y1="638.2" x2="307.35" y2="635.8000000000001" stroke="#111" stroke-width="1.5"/>
<line x1="326.0" y1="638.2" x2="326.0" y2="635.8000000000001" stroke="#111" stroke-width="1.5"/>
<text x="209.4" y="641.3000000000001" font-size="9" text-anchor="end" fill="#222" textLength="4.3" lengthAdjust="spacingAndGlyphs" stroke="#222" stroke-width="0.1">0</text>
<text x="209.4" y="613.2" font-size="9" text-anchor="end" fill="#222" textLength="8.61" lengthAdjust="spacingAndGlyphs" stroke="#222" stroke-width="0.1">25</text>
<text x="209.4" y="585.1" font-size="9" text-anchor="end" fill="#222" textLength="8.61" lengthAdjust="spacingAndGlyphs" stroke="#222" stroke-width="0.1">50</text>
<text x="209.4" y="557.0" font-size="9" text-anchor="end" fill="#222" textLength="8.61" lengthAdjust="spacingAndGlyphs" stroke="#222" stroke-width="0.1">75</text>
<text x="209.4" y="528.9" font-size="9" text-anchor="end" fill="#222" textLength="12.91" lengthAdjust="spacingAndGlyphs" stroke="#222" stroke-width="0.1">100</text>
<text x="222.825" y="647.8" font-size="9" text-anchor="middle" fill="#222" textLength="4.3" lengthAdjust="spacingAndGlyphs" stroke="#222" stroke-width="0.1">0</text>
<text x="241.475" y="647.8" font-size="9" text-anchor="middle" fill="#222" textLength="4.3" lengthAdjust="spacingAndGlyphs" stroke="#222" stroke-width="0.1">1</text>
<text x="260.125" y="647.8" font-size="9" text-anchor="middle" fill="#222" textLength="4.3" lengthAdjust="spacingAndGlyphs" stroke="#222" stroke-width="0.1">5</text>
<text x="278.775" y="647.8" font-size="9" text-anchor="middle" fill="#222" textLength="4.3" lengthAdjust="spacingAndGlyphs" stroke="#222" stroke-width="0.1">7</text>
<text x="297.42499999999995" y="647.8" font-size="9" text-anchor="middle" fill="#222" textLength="8.61" lengthAdjust="spacingAndGlyphs" stroke="#222" stroke-width="0.1">10</text>
<text x="316.07499999999993" y="647.8" font-size="9" text-anchor="middle" fill="#222" textLength="8.61" lengthAdjust="spacingAndGlyphs" stroke="#222" stroke-width="0.1">15</text>
<text x="299.8" y="658" font-size="9.2" fill="#222" textLength="30.8" lengthAdjust="spacingAndGlyphs" stroke="#222" stroke-width="0.1">( Days )</text>
<text x="185" y="580" font-size="10" text-anchor="middle" fill="#222" textLength="104" lengthAdjust="spacing" transform="rotate(-90 185 580)" stroke="#222" stroke-width="0.1">Ischemic / normal blood</text>
<text x="197.1" y="581.3" font-size="10" text-anchor="middle" fill="#222" textLength="78" lengthAdjust="spacing" transform="rotate(-90 197.1 581.3)" stroke="#222" stroke-width="0.1">perfusion ratio (%)</text>
<polyline points="242.1,626.6 260.7,622.0 279.4,609.6 298.0,603.0 316.7,602.4" fill="none" stroke="#8e2a96" stroke-width="1.5" stroke-linejoin="round" stroke-dasharray="9 3.5"/>
<polyline points="242.1,626.6 260.7,616.0 279.4,604.7 298.0,599.8 316.7,598.0" fill="none" stroke="#f6a00e" stroke-width="1.5" stroke-linejoin="round" stroke-dasharray="9 3.5"/>
<polyline points="223.4,524.6 242.1,626.6 260.7,610.6 279.4,598.8 298.0,592.6 316.7,590.6" fill="none" stroke="#8e2a96" stroke-width="1.6" stroke-linejoin="round"/>
<polyline points="223.4,525.3 242.1,626.6 260.7,603.0 279.4,584.4 298.0,573.6 316.7,572.0" fill="none" stroke="#f6a00e" stroke-width="1.6" stroke-linejoin="round"/>
<line x1="260.725" y1="622" x2="260.725" y2="625.6" stroke="#8e2a96" stroke-width="0.7"/>
<line x1="259.125" y1="625.6" x2="262.32500000000005" y2="625.6" stroke="#8e2a96" stroke-width="0.7"/>
<line x1="279.375" y1="609.6" x2="279.375" y2="613.2" stroke="#8e2a96" stroke-width="0.7"/>
<line x1="277.775" y1="613.2" x2="280.975" y2="613.2" stroke="#8e2a96" stroke-width="0.7"/>
<line x1="298.025" y1="603" x2="298.025" y2="606.6" stroke="#8e2a96" stroke-width="0.7"/>
<line x1="296.42499999999995" y1="606.6" x2="299.625" y2="606.6" stroke="#8e2a96" stroke-width="0.7"/>
<line x1="316.67499999999995" y1="602.4" x2="316.67499999999995" y2="606.0" stroke="#8e2a96" stroke-width="0.7"/>
<line x1="315.07499999999993" y1="606.0" x2="318.275" y2="606.0" stroke="#8e2a96" stroke-width="0.7"/>
<line x1="260.725" y1="616" x2="260.725" y2="619.4" stroke="#f6a00e" stroke-width="0.7"/>
<line x1="259.125" y1="619.4" x2="262.32500000000005" y2="619.4" stroke="#f6a00e" stroke-width="0.7"/>
<line x1="279.375" y1="604.7" x2="279.375" y2="608.1" stroke="#f6a00e" stroke-width="0.7"/>
<line x1="277.775" y1="608.1" x2="280.975" y2="608.1" stroke="#f6a00e" stroke-width="0.7"/>
<line x1="298.025" y1="599.8" x2="298.025" y2="603.1999999999999" stroke="#f6a00e" stroke-width="0.7"/>
<line x1="296.42499999999995" y1="603.1999999999999" x2="299.625" y2="603.1999999999999" stroke="#f6a00e" stroke-width="0.7"/>
<line x1="316.67499999999995" y1="598" x2="316.67499999999995" y2="601.4" stroke="#f6a00e" stroke-width="0.7"/>
<line x1="315.07499999999993" y1="601.4" x2="318.275" y2="601.4" stroke="#f6a00e" stroke-width="0.7"/>
<line x1="260.725" y1="610.6" x2="260.725" y2="607.4" stroke="#8e2a96" stroke-width="0.7"/>
<line x1="259.125" y1="607.4" x2="262.32500000000005" y2="607.4" stroke="#8e2a96" stroke-width="0.7"/>
<line x1="279.375" y1="598.8" x2="279.375" y2="595.5999999999999" stroke="#8e2a96" stroke-width="0.7"/>
<line x1="277.775" y1="595.5999999999999" x2="280.975" y2="595.5999999999999" stroke="#8e2a96" stroke-width="0.7"/>
<line x1="298.025" y1="592.6" x2="298.025" y2="589.4" stroke="#8e2a96" stroke-width="0.7"/>
<line x1="296.42499999999995" y1="589.4" x2="299.625" y2="589.4" stroke="#8e2a96" stroke-width="0.7"/>
<line x1="316.67499999999995" y1="590.6" x2="316.67499999999995" y2="587.4" stroke="#8e2a96" stroke-width="0.7"/>
<line x1="315.07499999999993" y1="587.4" x2="318.275" y2="587.4" stroke="#8e2a96" stroke-width="0.7"/>
<line x1="260.725" y1="603" x2="260.725" y2="598" stroke="#555" stroke-width="0.7"/>
<line x1="259.125" y1="598" x2="262.32500000000005" y2="598" stroke="#555" stroke-width="0.7"/>
<line x1="279.375" y1="584.4" x2="279.375" y2="579.8" stroke="#555" stroke-width="0.7"/>
<line x1="277.775" y1="579.8" x2="280.975" y2="579.8" stroke="#555" stroke-width="0.7"/>
<line x1="298.025" y1="573.6" x2="298.025" y2="571.6" stroke="#555" stroke-width="0.7"/>
<line x1="296.42499999999995" y1="571.6" x2="299.625" y2="571.6" stroke="#555" stroke-width="0.7"/>
<line x1="316.67499999999995" y1="572" x2="316.67499999999995" y2="566.5" stroke="#555" stroke-width="0.7"/>
<line x1="315.07499999999993" y1="566.5" x2="318.275" y2="566.5" stroke="#555" stroke-width="0.7"/>
<circle cx="260.7" cy="622.0" r="3.1" fill="#fff" stroke="#8e2a96" stroke-width="1.0"/>
<circle cx="279.4" cy="609.6" r="3.1" fill="#fff" stroke="#8e2a96" stroke-width="1.0"/>
<circle cx="298.0" cy="603.0" r="3.1" fill="#fff" stroke="#8e2a96" stroke-width="1.0"/>
<circle cx="316.7" cy="602.4" r="3.1" fill="#fff" stroke="#8e2a96" stroke-width="1.0"/>
<polygon points="260.7,612.8 257.4,619.2 264.0,619.2" fill="#fff" stroke="#f6a00e" stroke-width="1.0" stroke-linejoin="miter"/>
<polygon points="279.4,601.5 276.1,607.9 282.7,607.9" fill="#fff" stroke="#f6a00e" stroke-width="1.0" stroke-linejoin="miter"/>
<polygon points="298.0,596.6 294.7,603.0 301.3,603.0" fill="#fff" stroke="#f6a00e" stroke-width="1.0" stroke-linejoin="miter"/>
<polygon points="316.7,594.8 313.4,601.2 320.0,601.2" fill="#fff" stroke="#f6a00e" stroke-width="1.0" stroke-linejoin="miter"/>
<circle cx="223.4" cy="524.6" r="2.8" fill="#8e2a96" stroke="#8e2a96" stroke-width="0.8"/>
<circle cx="242.1" cy="626.6" r="2.8" fill="#8e2a96" stroke="#8e2a96" stroke-width="0.8"/>
<circle cx="260.7" cy="610.6" r="2.8" fill="#8e2a96" stroke="#8e2a96" stroke-width="0.8"/>
<circle cx="279.4" cy="598.8" r="2.8" fill="#8e2a96" stroke="#8e2a96" stroke-width="0.8"/>
<circle cx="298.0" cy="592.6" r="2.8" fill="#8e2a96" stroke="#8e2a96" stroke-width="0.8"/>
<circle cx="316.7" cy="590.6" r="2.8" fill="#8e2a96" stroke="#8e2a96" stroke-width="0.8"/>
<polygon points="223.4,522.3 220.3,528.3 226.5,528.3" fill="#f6a00e" stroke="#f6a00e" stroke-width="0.8" stroke-linejoin="miter"/>
<polygon points="242.1,623.6 239.0,629.6 245.2,629.6" fill="#f6a00e" stroke="#f6a00e" stroke-width="0.8" stroke-linejoin="miter"/>
<polygon points="260.7,600.0 257.6,606.0 263.8,606.0" fill="#f6a00e" stroke="#f6a00e" stroke-width="0.8" stroke-linejoin="miter"/>
<polygon points="279.4,581.4 276.3,587.4 282.5,587.4" fill="#f6a00e" stroke="#f6a00e" stroke-width="0.8" stroke-linejoin="miter"/>
<polygon points="298.0,570.6 294.9,576.6 301.1,576.6" fill="#f6a00e" stroke="#f6a00e" stroke-width="0.8" stroke-linejoin="miter"/>
<polygon points="316.7,569.0 313.6,575.0 319.8,575.0" fill="#f6a00e" stroke="#f6a00e" stroke-width="0.8" stroke-linejoin="miter"/>
<path d="M283.5,584.4 H286 V596 H283.5" fill="none" stroke="#a9a9a9" stroke-width="0.9"/>
<text x="288" y="593.8" font-size="12" font-weight="bold" fill="#808080">*</text>
<text x="301.9" y="584.6" font-size="12" font-weight="bold" fill="#808080">**</text>
<text x="321.3" y="584" font-size="12" font-weight="bold" fill="#808080">*</text>
</g>
<g id="panelH">
<text x="344.6" y="445.7" font-size="15.3" font-weight="bold" fill="#111" textLength="12.3" lengthAdjust="spacingAndGlyphs" stroke="#111" stroke-width="0.3">H</text>
<rect x="356.3" y="455.65" width="5.7" height="5.7" fill="#8e2a96" stroke="#8e2a96" stroke-width="0.7"/>
<text x="368" y="461.5" font-size="9.8" fill="#222" textLength="130.5" lengthAdjust="spacing" stroke="#222" stroke-width="0.1">HL + BSA-PBS mob. CD11b</text>
<text x="499.1" y="458.0" font-size="7" fill="#222" stroke="#222" stroke-width="0.1">+</text>
<rect x="356.3" y="468.35" width="5.7" height="5.7" fill="#f3e2f5" stroke="#a850b0" stroke-width="0.8"/><path d="M358.20,468.35V474.05M356.30,470.25H362.00M360.10,468.35V474.05M356.30,472.15H362.00" stroke="#a850b0" stroke-width="0.7" fill="none"/>
<text x="368" y="474.5" font-size="9.8" fill="#222" textLength="130.5" lengthAdjust="spacing" stroke="#222" stroke-width="0.1">HL + BSA-PBS mob. CD11b</text>
<text x="499.1" y="471.0" font-size="7" fill="#222" stroke="#222" stroke-width="0.1">−</text>
<rect x="356.3" y="480.95" width="5.7" height="5.7" fill="#f6a00e" stroke="#c77a10" stroke-width="0.7"/>
<text x="368" y="487" font-size="9.8" fill="#222" textLength="101" lengthAdjust="spacing" stroke="#222" stroke-width="0.1">HL + tPA mob. CD11b</text>
<text x="469.6" y="483.5" font-size="7" fill="#222" stroke="#222" stroke-width="0.1">+</text>
<rect x="356.3" y="493.65" width="5.7" height="5.7" fill="#fdeed6" stroke="#e09a30" stroke-width="0.8"/><path d="M358.20,493.65V499.35M356.30,495.55H362.00M360.10,493.65V499.35M356.30,497.45H362.00" stroke="#e09a30" stroke-width="0.7" fill="none"/>
<text x="368" y="499.9" font-size="9.8" fill="#222" textLength="101" lengthAdjust="spacing" stroke="#222" stroke-width="0.1">HL + tPA mob. CD11b</text>
<text x="469.6" y="496.4" font-size="7" fill="#222" stroke="#222" stroke-width="0.1">−</text>
<path d="M373.5,519.8 V637.9 H518.9" fill="none" stroke="#111" stroke-width="1.5"/>
<line x1="373.5" y1="608.525" x2="375.9" y2="608.525" stroke="#111" stroke-width="1.5"/>
<line x1="373.5" y1="579.15" x2="375.9" y2="579.15" stroke="#111" stroke-width="1.5"/>
<line x1="373.5" y1="549.775" x2="375.9" y2="549.775" stroke="#111" stroke-width="1.5"/>
<line x1="373.5" y1="520.4" x2="375.9" y2="520.4" stroke="#111" stroke-width="1.5"/>
<line x1="410.8" y1="637.9" x2="410.8" y2="635.5" stroke="#111" stroke-width="1.5"/>
<line x1="447.0" y1="637.9" x2="447.0" y2="635.5" stroke="#111" stroke-width="1.5"/>
<line x1="483.20000000000005" y1="637.9" x2="483.20000000000005" y2="635.5" stroke="#111" stroke-width="1.5"/>
<line x1="518.0" y1="637.9" x2="518.0" y2="635.5" stroke="#111" stroke-width="1.5"/>
<text x="370.4" y="641.1" font-size="9" text-anchor="end" fill="#222" textLength="4.3" lengthAdjust="spacingAndGlyphs" stroke="#222" stroke-width="0.1">0</text>
<text x="370.4" y="611.725" font-size="9" text-anchor="end" fill="#222" textLength="12.91" lengthAdjust="spacingAndGlyphs" stroke="#222" stroke-width="0.1">100</text>
<text x="370.4" y="582.35" font-size="9" text-anchor="end" fill="#222" textLength="12.91" lengthAdjust="spacingAndGlyphs" stroke="#222" stroke-width="0.1">200</text>
<text x="370.4" y="552.975" font-size="9" text-anchor="end" fill="#222" textLength="12.91" lengthAdjust="spacingAndGlyphs" stroke="#222" stroke-width="0.1">300</text>
<text x="370.4" y="523.6" font-size="9" text-anchor="end" fill="#222" textLength="12.91" lengthAdjust="spacingAndGlyphs" stroke="#222" stroke-width="0.1">400</text>
<line x1="392.5" y1="594.2" x2="392.5" y2="593.0" stroke="#231815" stroke-width="0.9"/>
<line x1="389.7" y1="593.0" x2="395.3" y2="593.0" stroke="#231815" stroke-width="0.9"/>
<rect x="381" y="594.2" width="23.00" height="43.70" fill="#8e2a96" stroke="#5a1a60" stroke-width="0.9"/>
<line x1="428.3" y1="596.6" x2="428.3" y2="594.3000000000001" stroke="#6a2070" stroke-width="0.9"/>
<line x1="425.5" y1="594.3000000000001" x2="431.1" y2="594.3000000000001" stroke="#6a2070" stroke-width="0.9"/>
<rect x="416.6" y="596.6" width="23.40" height="41.30" fill="url(#hPur)" stroke="#8e2a96" stroke-width="0.9"/>
<line x1="464.15" y1="540.4" x2="464.15" y2="536.4" stroke="#231815" stroke-width="0.9"/>
<line x1="461.34999999999997" y1="536.4" x2="466.95" y2="536.4" stroke="#231815" stroke-width="0.9"/>
<rect x="452.7" y="540.4" width="22.90" height="97.50" fill="#f6a00e" stroke="#8a5a10" stroke-width="0.9"/>
<line x1="500.25" y1="587.5" x2="500.25" y2="585.7" stroke="#a06a10" stroke-width="0.9"/>
<line x1="497.45" y1="585.7" x2="503.05" y2="585.7" stroke="#a06a10" stroke-width="0.9"/>
<rect x="488.9" y="587.5" width="22.70" height="50.40" fill="url(#hOrg)" stroke="#d08a18" stroke-width="0.9"/>
<path d="M392.1,550.5 V520.2 H461.8 V529.6 M466.9,529.6 V520.2 H500.9 V550.5" fill="none" stroke="#222" stroke-width="0.9"/>
<text x="427.5" y="519.5" font-size="10" text-anchor="middle" font-weight="bold" fill="#666">**</text>
<text x="484" y="519.5" font-size="10" text-anchor="middle" font-weight="bold" fill="#666">**</text>
<text transform="translate(352.6,578.5) rotate(-90)" font-size="10" text-anchor="middle" fill="#222" stroke="#222" stroke-width="0.1" textLength="114" lengthAdjust="spacing">Capillary density ( / mm<tspan font-size="5.5" dy="-3">2</tspan><tspan dy="3"> )</tspan></text>
</g>
<g id="panelI">
<text x="0.2" y="684.7" font-size="16.2" font-weight="bold" fill="#111" textLength="5" lengthAdjust="spacingAndGlyphs" stroke="#111" stroke-width="0.3">I</text>
<line x1="6.199999999999999" y1="701.2" x2="26.2" y2="701.2" stroke="#e6141f" stroke-width="1.6"/>
<polygon points="16.2,697.6 12.5,704.8 19.9,704.8" fill="#e6141f" stroke="#e6141f" stroke-width="0.8" stroke-linejoin="miter"/>
<line x1="6.199999999999999" y1="713.8" x2="26.2" y2="713.8" stroke="#151515" stroke-width="1.6"/>
<circle cx="16.2" cy="713.8" r="2.9" fill="#151515" stroke="#151515" stroke-width="0.8"/>
<line x1="6.199999999999999" y1="726.5" x2="26.2" y2="726.5" stroke="#1fa945" stroke-width="1.6"/>
<polygon points="16.2,722.9 12.5,730.1 19.9,730.1" fill="#1fa945" stroke="#1fa945" stroke-width="0.8" stroke-linejoin="miter"/>
<line x1="6.199999999999999" y1="739.1" x2="26.2" y2="739.1" stroke="#a9a9a9" stroke-width="1.6"/>
<circle cx="16.2" cy="739.1" r="2.9" fill="#a9a9a9" stroke="#a9a9a9" stroke-width="0.8"/>
<text x="32.7" y="704.2" font-size="9" fill="#222" textLength="73.5" lengthAdjust="spacing" stroke="#222" stroke-width="0.1">HL + tPA + IgG Ab</text>
<text x="32.7" y="716.6" font-size="9" fill="#222" textLength="98" lengthAdjust="spacing" stroke="#222" stroke-width="0.1">HL + BSA-PBS + IgG Ab</text>
<text x="32.7" y="729.3" font-size="9" fill="#222" textLength="102.3" lengthAdjust="spacing" stroke="#222" stroke-width="0.1">HL + tPA + anti-CD11b Ab</text>
<text x="32.7" y="741.8" font-size="9" fill="#222" textLength="128" lengthAdjust="spacing" stroke="#222" stroke-width="0.1">HL + BSA-PBS + anti-CD11b Ab</text>
<path d="M39.9,759.0 V873 H154.2" fill="none" stroke="#111" stroke-width="1.5"/>
<line x1="39.9" y1="844.65" x2="42.3" y2="844.65" stroke="#111" stroke-width="1.5"/>
<line x1="39.9" y1="816.3" x2="42.3" y2="816.3" stroke="#111" stroke-width="1.5"/>
<line x1="39.9" y1="787.95" x2="42.3" y2="787.95" stroke="#111" stroke-width="1.5"/>
<line x1="39.9" y1="759.6" x2="42.3" y2="759.6" stroke="#111" stroke-width="1.5"/>
<line x1="68.33" y1="873" x2="68.33" y2="870.6" stroke="#111" stroke-width="1.5"/>
<line x1="96.75999999999999" y1="873" x2="96.75999999999999" y2="870.6" stroke="#111" stroke-width="1.5"/>
<line x1="125.19" y1="873" x2="125.19" y2="870.6" stroke="#111" stroke-width="1.5"/>
<line x1="153.62" y1="873" x2="153.62" y2="870.6" stroke="#111" stroke-width="1.5"/>
<text x="36" y="876.6" font-size="9" text-anchor="end" fill="#222" textLength="4.3" lengthAdjust="spacingAndGlyphs" stroke="#222" stroke-width="0.1">0</text>
<text x="36" y="848.25" font-size="9" text-anchor="end" fill="#222" textLength="8.61" lengthAdjust="spacingAndGlyphs" stroke="#222" stroke-width="0.1">25</text>
<text x="36" y="819.9" font-size="9" text-anchor="end" fill="#222" textLength="8.61" lengthAdjust="spacingAndGlyphs" stroke="#222" stroke-width="0.1">50</text>
<text x="36" y="791.5500000000001" font-size="9" text-anchor="end" fill="#222" textLength="8.61" lengthAdjust="spacingAndGlyphs" stroke="#222" stroke-width="0.1">75</text>
<text x="36" y="763.2" font-size="9" text-anchor="end" fill="#222" textLength="12.91" lengthAdjust="spacingAndGlyphs" stroke="#222" stroke-width="0.1">100</text>
<text x="54.41499999999999" y="884.5" font-size="9" text-anchor="middle" fill="#222" textLength="4.3" lengthAdjust="spacingAndGlyphs" stroke="#222" stroke-width="0.1">0</text>
<text x="82.84499999999998" y="884.5" font-size="9" text-anchor="middle" fill="#222" textLength="4.3" lengthAdjust="spacingAndGlyphs" stroke="#222" stroke-width="0.1">1</text>
<text x="111.27499999999999" y="884.5" font-size="9" text-anchor="middle" fill="#222" textLength="4.3" lengthAdjust="spacingAndGlyphs" stroke="#222" stroke-width="0.1">7</text>
<text x="139.705" y="884.5" font-size="9" text-anchor="middle" fill="#222" textLength="8.61" lengthAdjust="spacingAndGlyphs" stroke="#222" stroke-width="0.1">15</text>
<text x="126.8" y="893" font-size="9.2" fill="#222" textLength="30.6" lengthAdjust="spacingAndGlyphs" stroke="#222" stroke-width="0.1">( Days )</text>
<text x="13.3" y="816.8" font-size="9.3" text-anchor="middle" fill="#222" textLength="95.5" lengthAdjust="spacing" transform="rotate(-90 13.3 816.8)" stroke="#222" stroke-width="0.1">Ischemic / normal blood</text>
<text x="23.2" y="815.2" font-size="9.3" text-anchor="middle" fill="#222" textLength="75.5" lengthAdjust="spacing" transform="rotate(-90 23.2 815.2)" stroke="#222" stroke-width="0.1">perfusion ratio (%)</text>
<polyline points="82.5,856.7 111.0,844.6 139.4,839.0" fill="none" stroke="#a9a9a9" stroke-width="1.5" stroke-linejoin="round"/>
<polyline points="82.5,856.7 111.0,843.6 139.4,838.0" fill="none" stroke="#1fa945" stroke-width="1.5" stroke-linejoin="round"/>
<polyline points="82.5,856.7 111.0,836.4 139.4,829.2" fill="none" stroke="#151515" stroke-width="1.5" stroke-linejoin="round"/>
<polyline points="54.1,759.6 82.5,856.7 111.0,820.0 139.4,807.7" fill="none" stroke="#e6141f" stroke-width="1.6" stroke-linejoin="round"/>
<line x1="110.975" y1="844.6" x2="110.975" y2="848.0" stroke="#a9a9a9" stroke-width="0.7"/>
<line x1="109.175" y1="848.0" x2="112.77499999999999" y2="848.0" stroke="#a9a9a9" stroke-width="0.7"/>
<line x1="139.405" y1="839" x2="139.405" y2="842.4" stroke="#a9a9a9" stroke-width="0.7"/>
<line x1="137.605" y1="842.4" x2="141.205" y2="842.4" stroke="#a9a9a9" stroke-width="0.7"/>
<line x1="110.975" y1="843.6" x2="110.975" y2="840.4" stroke="#1fa945" stroke-width="0.7"/>
<line x1="109.175" y1="840.4" x2="112.77499999999999" y2="840.4" stroke="#1fa945" stroke-width="0.7"/>
<line x1="139.405" y1="838" x2="139.405" y2="834.8" stroke="#1fa945" stroke-width="0.7"/>
<line x1="137.605" y1="834.8" x2="141.205" y2="834.8" stroke="#1fa945" stroke-width="0.7"/>
<line x1="110.975" y1="836.4" x2="110.975" y2="832.8" stroke="#151515" stroke-width="0.7"/>
<line x1="109.175" y1="832.8" x2="112.77499999999999" y2="832.8" stroke="#151515" stroke-width="0.7"/>
<line x1="139.405" y1="829.2" x2="139.405" y2="825.6" stroke="#151515" stroke-width="0.7"/>
<line x1="137.605" y1="825.6" x2="141.205" y2="825.6" stroke="#151515" stroke-width="0.7"/>
<line x1="110.975" y1="820" x2="110.975" y2="814.4" stroke="#666" stroke-width="0.7"/>
<line x1="108.975" y1="814.4" x2="112.975" y2="814.4" stroke="#666" stroke-width="0.7"/>
<line x1="110.975" y1="820" x2="110.975" y2="825.6" stroke="#666" stroke-width="0.7"/>
<line x1="108.975" y1="825.6" x2="112.975" y2="825.6" stroke="#666" stroke-width="0.7"/>
<line x1="139.405" y1="807.7" x2="139.405" y2="800.9000000000001" stroke="#666" stroke-width="0.7"/>
<line x1="137.405" y1="800.9000000000001" x2="141.405" y2="800.9000000000001" stroke="#666" stroke-width="0.7"/>
<line x1="139.405" y1="807.7" x2="139.405" y2="814.5" stroke="#666" stroke-width="0.7"/>
<line x1="137.405" y1="814.5" x2="141.405" y2="814.5" stroke="#666" stroke-width="0.7"/>
<circle cx="111.0" cy="844.6" r="2.5" fill="#a9a9a9" stroke="#a9a9a9" stroke-width="0.8"/>
<circle cx="139.4" cy="839.0" r="2.5" fill="#a9a9a9" stroke="#a9a9a9" stroke-width="0.8"/>
<polygon points="82.5,853.7 79.4,859.7 85.6,859.7" fill="#1fa945" stroke="#1fa945" stroke-width="0.8" stroke-linejoin="miter"/>
<polygon points="111.0,840.6 107.9,846.6 114.1,846.6" fill="#1fa945" stroke="#1fa945" stroke-width="0.8" stroke-linejoin="miter"/>
<polygon points="139.4,835.0 136.3,841.0 142.5,841.0" fill="#1fa945" stroke="#1fa945" stroke-width="0.8" stroke-linejoin="miter"/>
<circle cx="111.0" cy="836.4" r="2.7" fill="#151515" stroke="#151515" stroke-width="0.8"/>
<circle cx="139.4" cy="829.2" r="2.7" fill="#151515" stroke="#151515" stroke-width="0.8"/>
<polygon points="54.1,756.5 50.9,762.7 57.3,762.7" fill="#e6141f" stroke="#e6141f" stroke-width="0.8" stroke-linejoin="miter"/>
<polygon points="82.5,853.6 79.3,859.8 85.7,859.8" fill="#e6141f" stroke="#e6141f" stroke-width="0.8" stroke-linejoin="miter"/>
<polygon points="111.0,816.9 107.8,823.1 114.2,823.1" fill="#e6141f" stroke="#e6141f" stroke-width="0.8" stroke-linejoin="miter"/>
<polygon points="139.4,804.6 136.2,810.8 142.6,810.8" fill="#e6141f" stroke="#e6141f" stroke-width="0.8" stroke-linejoin="miter"/>
<path d="M142,806 H144.3 V838 H142" fill="none" stroke="#999" stroke-width="0.9"/>
<text x="147.4" y="815.4" font-size="12" font-weight="bold" fill="#808080">*</text>
<text x="115.7" y="829.9" font-size="12" font-weight="bold" fill="#808080">*</text>
</g>
<g id="panelJ">
<text x="175.3" y="684.9" font-size="16.2" font-weight="bold" fill="#111" textLength="9.3" lengthAdjust="spacingAndGlyphs" stroke="#111" stroke-width="0.3">J</text>
<rect x="189" y="698.15" width="5.7" height="5.7" fill="#231815" stroke="#231815" stroke-width="0.7"/>
<text x="200" y="704.2" font-size="9" fill="#222" textLength="100" lengthAdjust="spacing" stroke="#222" stroke-width="0.1">HL + BSA-PBS + IgG Ab</text>
<rect x="189" y="710.65" width="5.7" height="5.7" fill="#a3a3a3" stroke="#666" stroke-width="0.7"/>
<text x="200" y="716.5" font-size="9" fill="#222" textLength="130" lengthAdjust="spacing" stroke="#222" stroke-width="0.1">HL + BSA-PBS + anti-CD11b Ab</text>
<rect x="189" y="723.35" width="5.7" height="5.7" fill="#e6141f" stroke="#b01820" stroke-width="0.7"/>
<text x="200" y="729" font-size="9" fill="#222" textLength="74.5" lengthAdjust="spacing" stroke="#222" stroke-width="0.1">HL + tPA + IgG Ab</text>
<rect x="189" y="735.75" width="5.7" height="5.7" fill="#1fa945" stroke="#167a36" stroke-width="0.7"/>
<text x="200" y="741.4" font-size="9" fill="#222" textLength="104" lengthAdjust="spacing" stroke="#222" stroke-width="0.1">HL + tPA + anti-CD11b Ab</text>
<path d="M200.8,755.3 V873.4 H346.20000000000005" fill="none" stroke="#111" stroke-width="1.5"/>
<line x1="200.8" y1="844.025" x2="203.20000000000002" y2="844.025" stroke="#111" stroke-width="1.5"/>
<line x1="200.8" y1="814.65" x2="203.20000000000002" y2="814.65" stroke="#111" stroke-width="1.5"/>
<line x1="200.8" y1="785.275" x2="203.20000000000002" y2="785.275" stroke="#111" stroke-width="1.5"/>
<line x1="200.8" y1="755.9" x2="203.20000000000002" y2="755.9" stroke="#111" stroke-width="1.5"/>
<line x1="237.85000000000002" y1="873.4" x2="237.85000000000002" y2="871.0" stroke="#111" stroke-width="1.5"/>
<line x1="273.8" y1="873.4" x2="273.8" y2="871.0" stroke="#111" stroke-width="1.5"/>
<line x1="309.75" y1="873.4" x2="309.75" y2="871.0" stroke="#111" stroke-width="1.5"/>
<line x1="345.70000000000005" y1="873.4" x2="345.70000000000005" y2="871.0" stroke="#111" stroke-width="1.5"/>
<text x="198" y="876.6" font-size="9" text-anchor="end" fill="#222" textLength="4.3" lengthAdjust="spacingAndGlyphs" stroke="#222" stroke-width="0.1">0</text>
<text x="198" y="847.225" font-size="9" text-anchor="end" fill="#222" textLength="12.91" lengthAdjust="spacingAndGlyphs" stroke="#222" stroke-width="0.1">100</text>
<text x="198" y="817.85" font-size="9" text-anchor="end" fill="#222" textLength="12.91" lengthAdjust="spacingAndGlyphs" stroke="#222" stroke-width="0.1">200</text>
<text x="198" y="788.475" font-size="9" text-anchor="end" fill="#222" textLength="12.91" lengthAdjust="spacingAndGlyphs" stroke="#222" stroke-width="0.1">300</text>
<text x="198" y="759.1" font-size="9" text-anchor="end" fill="#222" textLength="12.91" lengthAdjust="spacingAndGlyphs" stroke="#222" stroke-width="0.1">400</text>
<line x1="219.8" y1="818" x2="219.8" y2="816.8" stroke="#231815" stroke-width="0.9"/>
<line x1="217.0" y1="816.8" x2="222.60000000000002" y2="816.8" stroke="#231815" stroke-width="0.9"/>
<rect x="208.4" y="818" width="22.80" height="55.40" fill="#231815" stroke="#231815" stroke-width="0.9"/>
<line x1="255.65" y1="816.8" x2="255.65" y2="815.0" stroke="#231815" stroke-width="0.9"/>
<line x1="252.85" y1="815.0" x2="258.45" y2="815.0" stroke="#231815" stroke-width="0.9"/>
<rect x="244.2" y="816.8" width="22.90" height="56.60" fill="#a3a3a3" stroke="#444" stroke-width="0.9"/>
<line x1="291.6" y1="779.9" x2="291.6" y2="778.1" stroke="#231815" stroke-width="0.9"/>
<line x1="288.8" y1="778.1" x2="294.40000000000003" y2="778.1" stroke="#231815" stroke-width="0.9"/>
<rect x="280.2" y="779.9" width="22.80" height="93.50" fill="#e6141f" stroke="#8a1018" stroke-width="0.9"/>
<line x1="327.55" y1="811.9" x2="327.55" y2="807.6999999999999" stroke="#231815" stroke-width="0.9"/>
<line x1="324.75" y1="807.6999999999999" x2="330.35" y2="807.6999999999999" stroke="#231815" stroke-width="0.9"/>
<rect x="316.1" y="811.9" width="22.90" height="61.50" fill="#1fa945" stroke="#12602a" stroke-width="0.9"/>
<path d="M219.8,807.8 V761.9 H288.3 V772.7 M294.2,772.7 V761.9 H327.9 V800.5" fill="none" stroke="#222" stroke-width="0.9"/>
<text x="254.3" y="760.5" font-size="10" text-anchor="middle" font-weight="bold" fill="#666">**</text>
<text x="311.2" y="761.5" font-size="10" text-anchor="middle" font-weight="bold" fill="#666">**</text>
<text transform="translate(181.4,811.5) rotate(-90)" font-size="9.5" text-anchor="middle" fill="#222" stroke="#222" stroke-width="0.1" textLength="108" lengthAdjust="spacing">Capillary density ( / mm<tspan font-size="5.5" dy="-3">2</tspan><tspan dy="3"> )</tspan></text>
</g>
<g id="panelK">
<text x="354.4" y="684.7" font-size="16.2" font-weight="bold" fill="#111" textLength="12.4" lengthAdjust="spacingAndGlyphs" stroke="#111" stroke-width="0.3">K</text>
<line x1="354.59999999999997" y1="701.3" x2="373.8" y2="701.3" stroke="#f6a00e" stroke-width="1.6"/>
<polygon points="364.2,697.7 360.5,704.9 367.9,704.9" fill="#f6a00e" stroke="#f6a00e" stroke-width="0.8" stroke-linejoin="miter"/>
<line x1="354.59999999999997" y1="714.2" x2="373.8" y2="714.2" stroke="#8e2a96" stroke-width="1.6"/>
<circle cx="364.2" cy="714.2" r="2.9" fill="#8e2a96" stroke="#8e2a96" stroke-width="0.8"/>
<line x1="354.59999999999997" y1="727" x2="359.2" y2="727" stroke="#f6a00e" stroke-width="1.6"/>
<line x1="369.2" y1="727" x2="373.8" y2="727" stroke="#f6a00e" stroke-width="1.6"/>
<polygon points="364.2,723.6 360.7,730.4 367.7,730.4" fill="#fff" stroke="#f6a00e" stroke-width="0.9" stroke-linejoin="miter"/>
<line x1="354.59999999999997" y1="740" x2="359.2" y2="740" stroke="#8e2a96" stroke-width="1.6"/>
<line x1="369.2" y1="740" x2="373.8" y2="740" stroke="#8e2a96" stroke-width="1.6"/>
<circle cx="364.2" cy="740.0" r="3.1" fill="#fff" stroke="#8e2a96" stroke-width="1.0"/>
<text x="379.7" y="705.4" font-size="9.3" fill="#222" textLength="106.5" lengthAdjust="spacing" stroke="#222" stroke-width="0.1">HL + tPA mob. VEGFR-1</text>
<text x="486.7" y="701.8" font-size="5.5" fill="#222" stroke="#222" stroke-width="0.1">+</text>
<text x="379.7" y="718.2" font-size="9.3" fill="#222" textLength="133.6" lengthAdjust="spacing" stroke="#222" stroke-width="0.1">HL + BSA-PBS mob. VEGFR-1</text>
<text x="513.8" y="714.6" font-size="5.5" fill="#222" stroke="#222" stroke-width="0.1">+</text>
<text x="379.7" y="731" font-size="9.3" fill="#222" textLength="106.5" lengthAdjust="spacing" stroke="#222" stroke-width="0.1">HL + tPA mob. VEGFR-1</text>
<text x="486.7" y="727.4" font-size="5.5" fill="#222" stroke="#222" stroke-width="0.1">−</text>
<text x="379.7" y="743.7" font-size="9.3" fill="#222" textLength="133.6" lengthAdjust="spacing" stroke="#222" stroke-width="0.1">HL + BSA-PBS mob. VEGFR-1</text>
<text x="513.8" y="740.1" font-size="5.5" fill="#222" stroke="#222" stroke-width="0.1">−</text>
<path d="M393.5,758.1999999999999 V873.2 H506.5" fill="none" stroke="#111" stroke-width="1.5"/>
<line x1="393.5" y1="843.4" x2="395.9" y2="843.4" stroke="#111" stroke-width="1.5"/>
<line x1="393.5" y1="815.2" x2="395.9" y2="815.2" stroke="#111" stroke-width="1.5"/>
<line x1="393.5" y1="787.0" x2="395.9" y2="787.0" stroke="#111" stroke-width="1.5"/>
<line x1="393.5" y1="758.8" x2="395.9" y2="758.8" stroke="#111" stroke-width="1.5"/>
<line x1="412.82" y1="873.2" x2="412.82" y2="870.8000000000001" stroke="#111" stroke-width="1.5"/>
<line x1="431.34000000000003" y1="873.2" x2="431.34000000000003" y2="870.8000000000001" stroke="#111" stroke-width="1.5"/>
<line x1="449.86" y1="873.2" x2="449.86" y2="870.8000000000001" stroke="#111" stroke-width="1.5"/>
<line x1="468.38" y1="873.2" x2="468.38" y2="870.8000000000001" stroke="#111" stroke-width="1.5"/>
<line x1="486.9" y1="873.2" x2="486.9" y2="870.8000000000001" stroke="#111" stroke-width="1.5"/>
<line x1="505.42" y1="873.2" x2="505.42" y2="870.8000000000001" stroke="#111" stroke-width="1.5"/>
<text x="390.8" y="876.5" font-size="9" text-anchor="end" fill="#222" textLength="4.3" lengthAdjust="spacingAndGlyphs" stroke="#222" stroke-width="0.1">0</text>
<text x="390.8" y="846.6999999999999" font-size="9" text-anchor="end" fill="#222" textLength="8.61" lengthAdjust="spacingAndGlyphs" stroke="#222" stroke-width="0.1">25</text>
<text x="390.8" y="818.5" font-size="9" text-anchor="end" fill="#222" textLength="8.61" lengthAdjust="spacingAndGlyphs" stroke="#222" stroke-width="0.1">50</text>
<text x="390.8" y="790.3" font-size="9" text-anchor="end" fill="#222" textLength="8.61" lengthAdjust="spacingAndGlyphs" stroke="#222" stroke-width="0.1">75</text>
<text x="390.8" y="762.0999999999999" font-size="9" text-anchor="end" fill="#222" textLength="12.91" lengthAdjust="spacingAndGlyphs" stroke="#222" stroke-width="0.1">100</text>
<text x="403.56" y="882.8" font-size="9" text-anchor="middle" fill="#222" textLength="4.3" lengthAdjust="spacingAndGlyphs" stroke="#222" stroke-width="0.1">0</text>
<text x="422.08" y="882.8" font-size="9" text-anchor="middle" fill="#222" textLength="4.3" lengthAdjust="spacingAndGlyphs" stroke="#222" stroke-width="0.1">1</text>
<text x="440.6" y="882.8" font-size="9" text-anchor="middle" fill="#222" textLength="4.3" lengthAdjust="spacingAndGlyphs" stroke="#222" stroke-width="0.1">5</text>
<text x="459.12" y="882.8" font-size="9" text-anchor="middle" fill="#222" textLength="4.3" lengthAdjust="spacingAndGlyphs" stroke="#222" stroke-width="0.1">7</text>
<text x="477.64000000000004" y="882.8" font-size="9" text-anchor="middle" fill="#222" textLength="8.61" lengthAdjust="spacingAndGlyphs" stroke="#222" stroke-width="0.1">10</text>
<text x="496.16" y="882.8" font-size="9" text-anchor="middle" fill="#222" textLength="8.61" lengthAdjust="spacingAndGlyphs" stroke="#222" stroke-width="0.1">15</text>
<text x="477.5" y="891.6" font-size="9.2" fill="#222" textLength="31" lengthAdjust="spacingAndGlyphs" stroke="#222" stroke-width="0.1">( Days )</text>
<text x="369" y="816.2" font-size="9.3" text-anchor="middle" fill="#222" textLength="95.5" lengthAdjust="spacing" transform="rotate(-90 369 816.2)" stroke="#222" stroke-width="0.1">Ischemic / normal blood</text>
<text x="378.4" y="816" font-size="9.3" text-anchor="middle" fill="#222" textLength="74" lengthAdjust="spacing" transform="rotate(-90 378.4 816)" stroke="#222" stroke-width="0.1">perfusion ratio (%)</text>
<polyline points="422.4,857.1 440.9,854.2 459.4,848.4 477.9,844.3 496.5,839.5" fill="none" stroke="#8e2a96" stroke-width="1.5" stroke-linejoin="round" stroke-dasharray="9 3.5"/>
<polyline points="422.4,857.1 440.9,845.0 459.4,835.9 477.9,830.2 496.5,824.2" fill="none" stroke="#f6a00e" stroke-width="1.5" stroke-linejoin="round" stroke-dasharray="9 3.5"/>
<polyline points="403.9,758.5 422.4,857.1 440.9,847.5 459.4,843.4 477.9,836.9 496.5,831.8" fill="none" stroke="#8e2a96" stroke-width="1.6" stroke-linejoin="round"/>
<polyline points="403.9,760.2 422.4,857.1 440.9,840.6 459.4,826.6 477.9,818.8 496.5,812.8" fill="none" stroke="#f6a00e" stroke-width="1.6" stroke-linejoin="round"/>
<line x1="440.90000000000003" y1="854.2" x2="440.90000000000003" y2="859.0" stroke="#666" stroke-width="0.7"/>
<line x1="439.1" y1="859.0" x2="442.70000000000005" y2="859.0" stroke="#666" stroke-width="0.7"/>
<line x1="459.42" y1="848.4" x2="459.42" y2="855.0" stroke="#666" stroke-width="0.7"/>
<line x1="457.62" y1="855.0" x2="461.22" y2="855.0" stroke="#666" stroke-width="0.7"/>
<line x1="477.94000000000005" y1="844.3" x2="477.94000000000005" y2="848.3" stroke="#666" stroke-width="0.7"/>
<line x1="476.14000000000004" y1="848.3" x2="479.74000000000007" y2="848.3" stroke="#666" stroke-width="0.7"/>
<line x1="496.46000000000004" y1="839.5" x2="496.46000000000004" y2="843.5" stroke="#666" stroke-width="0.7"/>
<line x1="494.66" y1="843.5" x2="498.26000000000005" y2="843.5" stroke="#666" stroke-width="0.7"/>
<line x1="440.90000000000003" y1="845" x2="440.90000000000003" y2="841" stroke="#f6a00e" stroke-width="0.7"/>
<line x1="439.3" y1="841" x2="442.50000000000006" y2="841" stroke="#f6a00e" stroke-width="0.7"/>
<line x1="459.42" y1="835.9" x2="459.42" y2="831.9" stroke="#f6a00e" stroke-width="0.7"/>
<line x1="457.82" y1="831.9" x2="461.02000000000004" y2="831.9" stroke="#f6a00e" stroke-width="0.7"/>
<line x1="477.94000000000005" y1="830.2" x2="477.94000000000005" y2="826.2" stroke="#f6a00e" stroke-width="0.7"/>
<line x1="476.34000000000003" y1="826.2" x2="479.5400000000001" y2="826.2" stroke="#f6a00e" stroke-width="0.7"/>
<line x1="496.46000000000004" y1="824.2" x2="496.46000000000004" y2="820.2" stroke="#f6a00e" stroke-width="0.7"/>
<line x1="494.86" y1="820.2" x2="498.06000000000006" y2="820.2" stroke="#f6a00e" stroke-width="0.7"/>
<line x1="440.90000000000003" y1="847.5" x2="440.90000000000003" y2="844.3" stroke="#8e2a96" stroke-width="0.7"/>
<line x1="439.3" y1="844.3" x2="442.50000000000006" y2="844.3" stroke="#8e2a96" stroke-width="0.7"/>
<line x1="459.42" y1="843.4" x2="459.42" y2="840.1999999999999" stroke="#8e2a96" stroke-width="0.7"/>
<line x1="457.82" y1="840.1999999999999" x2="461.02000000000004" y2="840.1999999999999" stroke="#8e2a96" stroke-width="0.7"/>
<line x1="477.94000000000005" y1="836.9" x2="477.94000000000005" y2="833.6999999999999" stroke="#8e2a96" stroke-width="0.7"/>
<line x1="476.34000000000003" y1="833.6999999999999" x2="479.5400000000001" y2="833.6999999999999" stroke="#8e2a96" stroke-width="0.7"/>
<line x1="496.46000000000004" y1="831.8" x2="496.46000000000004" y2="828.5999999999999" stroke="#8e2a96" stroke-width="0.7"/>
<line x1="494.86" y1="828.5999999999999" x2="498.06000000000006" y2="828.5999999999999" stroke="#8e2a96" stroke-width="0.7"/>
<line x1="440.90000000000003" y1="840.6" x2="440.90000000000003" y2="834.6" stroke="#666" stroke-width="0.7"/>
<line x1="439.3" y1="834.6" x2="442.50000000000006" y2="834.6" stroke="#666" stroke-width="0.7"/>
<line x1="459.42" y1="826.6" x2="459.42" y2="822.6" stroke="#666" stroke-width="0.7"/>
<line x1="457.82" y1="822.6" x2="461.02000000000004" y2="822.6" stroke="#666" stroke-width="0.7"/>
<line x1="477.94000000000005" y1="818.8" x2="477.94000000000005" y2="813.8" stroke="#666" stroke-width="0.7"/>
<line x1="476.34000000000003" y1="813.8" x2="479.5400000000001" y2="813.8" stroke="#666" stroke-width="0.7"/>
<line x1="496.46000000000004" y1="812.8" x2="496.46000000000004" y2="806.3" stroke="#666" stroke-width="0.7"/>
<line x1="494.86" y1="806.3" x2="498.06000000000006" y2="806.3" stroke="#666" stroke-width="0.7"/>
<circle cx="440.9" cy="854.2" r="3.1" fill="#fff" stroke="#8e2a96" stroke-width="1.0"/>
<circle cx="459.4" cy="848.4" r="3.1" fill="#fff" stroke="#8e2a96" stroke-width="1.0"/>
<circle cx="477.9" cy="844.3" r="3.1" fill="#fff" stroke="#8e2a96" stroke-width="1.0"/>
<circle cx="496.5" cy="839.5" r="3.1" fill="#fff" stroke="#8e2a96" stroke-width="1.0"/>
<polygon points="440.9,841.8 437.6,848.2 444.2,848.2" fill="#fff" stroke="#f6a00e" stroke-width="1.0" stroke-linejoin="miter"/>
<polygon points="459.4,832.7 456.1,839.1 462.7,839.1" fill="#fff" stroke="#f6a00e" stroke-width="1.0" stroke-linejoin="miter"/>
<polygon points="477.9,827.0 474.6,833.4 481.2,833.4" fill="#fff" stroke="#f6a00e" stroke-width="1.0" stroke-linejoin="miter"/>
<polygon points="496.5,821.0 493.2,827.4 499.8,827.4" fill="#fff" stroke="#f6a00e" stroke-width="1.0" stroke-linejoin="miter"/>
<circle cx="403.9" cy="758.5" r="2.8" fill="#8e2a96" stroke="#8e2a96" stroke-width="0.8"/>
<circle cx="422.4" cy="857.1" r="2.8" fill="#8e2a96" stroke="#8e2a96" stroke-width="0.8"/>
<circle cx="440.9" cy="847.5" r="2.8" fill="#8e2a96" stroke="#8e2a96" stroke-width="0.8"/>
<circle cx="459.4" cy="843.4" r="2.8" fill="#8e2a96" stroke="#8e2a96" stroke-width="0.8"/>
<circle cx="477.9" cy="836.9" r="2.8" fill="#8e2a96" stroke="#8e2a96" stroke-width="0.8"/>
<circle cx="496.5" cy="831.8" r="2.8" fill="#8e2a96" stroke="#8e2a96" stroke-width="0.8"/>
<polygon points="403.9,757.2 400.8,763.2 407.0,763.2" fill="#f6a00e" stroke="#f6a00e" stroke-width="0.8" stroke-linejoin="miter"/>
<polygon points="422.4,854.1 419.3,860.1 425.5,860.1" fill="#f6a00e" stroke="#f6a00e" stroke-width="0.8" stroke-linejoin="miter"/>
<polygon points="440.9,837.6 437.8,843.6 444.0,843.6" fill="#f6a00e" stroke="#f6a00e" stroke-width="0.8" stroke-linejoin="miter"/>
<polygon points="459.4,823.6 456.3,829.6 462.5,829.6" fill="#f6a00e" stroke="#f6a00e" stroke-width="0.8" stroke-linejoin="miter"/>
<polygon points="477.9,815.8 474.8,821.8 481.0,821.8" fill="#f6a00e" stroke="#f6a00e" stroke-width="0.8" stroke-linejoin="miter"/>
<polygon points="496.5,809.8 493.4,815.8 499.6,815.8" fill="#f6a00e" stroke="#f6a00e" stroke-width="0.8" stroke-linejoin="miter"/>
<path d="M464,826.5 H466.3 V844 H464" fill="none" stroke="#777" stroke-width="0.9"/>
<text x="468.9" y="833.2" font-size="12" font-weight="bold" fill="#5a8a9a">*</text>
<text x="500" y="817.2" font-size="12" font-weight="bold" fill="#5a8a9a">*</text>
</g>
</svg>
</body></html>
